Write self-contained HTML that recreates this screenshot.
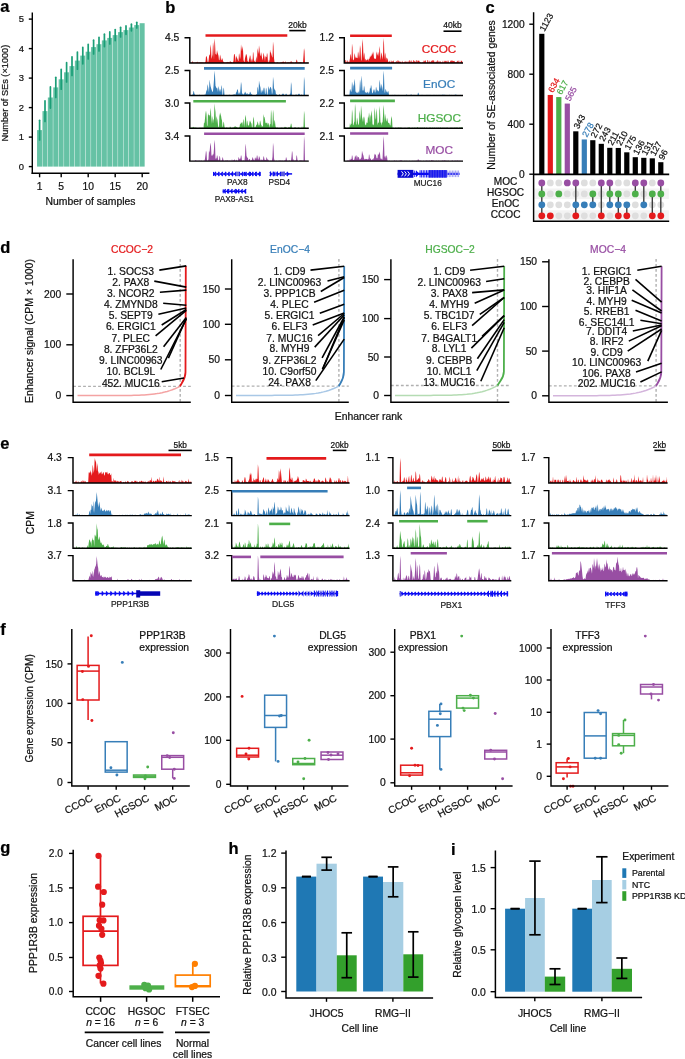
<!DOCTYPE html>
<html><head><meta charset="utf-8"><style>
html,body{margin:0;padding:0;background:#fff;}
svg{display:block;font-family:"Liberation Sans",sans-serif;will-change:transform;}
text{stroke-width:0.22px;}
</style></head><body>
<svg width="685" height="1059" viewBox="0 0 685 1059">
<rect width="685" height="1059" fill="#fff"/>
<text x="0.3" y="12.4" font-size="16.5" font-weight="bold" fill="#000" stroke="#000">a</text>
<rect x="37.05" y="130.1" width="5" height="36.5" fill="#66c2a5"/>
<rect x="42.45" y="111.1" width="5" height="55.5" fill="#66c2a5"/>
<rect x="47.85" y="97.5" width="5" height="69.1" fill="#66c2a5"/>
<rect x="53.25" y="87.4" width="5" height="79.2" fill="#66c2a5"/>
<rect x="58.65" y="79.3" width="5" height="87.3" fill="#66c2a5"/>
<rect x="64.05" y="72.3" width="5" height="94.3" fill="#66c2a5"/>
<rect x="69.45" y="66.1" width="5" height="100.5" fill="#66c2a5"/>
<rect x="74.85" y="60.6" width="5" height="106" fill="#66c2a5"/>
<rect x="80.25" y="55.6" width="5" height="111" fill="#66c2a5"/>
<rect x="85.65" y="51.7" width="5" height="114.9" fill="#66c2a5"/>
<rect x="91.05" y="47.1" width="5" height="119.5" fill="#66c2a5"/>
<rect x="96.45" y="44.2" width="5" height="122.4" fill="#66c2a5"/>
<rect x="101.85" y="40.4" width="5" height="126.2" fill="#66c2a5"/>
<rect x="107.25" y="37.9" width="5" height="128.7" fill="#66c2a5"/>
<rect x="112.65" y="35.1" width="5" height="131.5" fill="#66c2a5"/>
<rect x="118.05" y="32.1" width="5" height="134.5" fill="#66c2a5"/>
<rect x="123.45" y="30.1" width="5" height="136.5" fill="#66c2a5"/>
<rect x="128.85" y="27.5" width="5" height="139.1" fill="#66c2a5"/>
<rect x="134.25" y="25.1" width="5" height="141.5" fill="#66c2a5"/>
<rect x="139.65" y="23.2" width="5" height="143.4" fill="#66c2a5"/>
<line x1="39.6" y1="120.25" x2="39.6" y2="139.95" stroke="#1b9e77" stroke-width="1.7" stroke-linecap="round"/>
<line x1="45" y1="100.8" x2="45" y2="121.4" stroke="#1b9e77" stroke-width="1.7" stroke-linecap="round"/>
<line x1="50.4" y1="86.9" x2="50.4" y2="108.1" stroke="#1b9e77" stroke-width="1.7" stroke-linecap="round"/>
<line x1="55.8" y1="77.35" x2="55.8" y2="97.45" stroke="#1b9e77" stroke-width="1.7" stroke-linecap="round"/>
<line x1="61.2" y1="69.45" x2="61.2" y2="89.15" stroke="#1b9e77" stroke-width="1.7" stroke-linecap="round"/>
<line x1="66.6" y1="62.65" x2="66.6" y2="81.95" stroke="#1b9e77" stroke-width="1.7" stroke-linecap="round"/>
<line x1="72" y1="56.8" x2="72" y2="75.4" stroke="#1b9e77" stroke-width="1.7" stroke-linecap="round"/>
<line x1="77.4" y1="52" x2="77.4" y2="69.2" stroke="#1b9e77" stroke-width="1.7" stroke-linecap="round"/>
<line x1="82.8" y1="47.4" x2="82.8" y2="63.8" stroke="#1b9e77" stroke-width="1.7" stroke-linecap="round"/>
<line x1="88.2" y1="44.4" x2="88.2" y2="59" stroke="#1b9e77" stroke-width="1.7" stroke-linecap="round"/>
<line x1="93.6" y1="40.2" x2="93.6" y2="54" stroke="#1b9e77" stroke-width="1.7" stroke-linecap="round"/>
<line x1="99" y1="37.4" x2="99" y2="51" stroke="#1b9e77" stroke-width="1.7" stroke-linecap="round"/>
<line x1="104.4" y1="34.2" x2="104.4" y2="46.6" stroke="#1b9e77" stroke-width="1.7" stroke-linecap="round"/>
<line x1="109.8" y1="31.9" x2="109.8" y2="43.9" stroke="#1b9e77" stroke-width="1.7" stroke-linecap="round"/>
<line x1="115.2" y1="29.6" x2="115.2" y2="40.6" stroke="#1b9e77" stroke-width="1.7" stroke-linecap="round"/>
<line x1="120.6" y1="27.3" x2="120.6" y2="36.9" stroke="#1b9e77" stroke-width="1.7" stroke-linecap="round"/>
<line x1="126" y1="25.9" x2="126" y2="34.3" stroke="#1b9e77" stroke-width="1.7" stroke-linecap="round"/>
<line x1="131.4" y1="24.2" x2="131.4" y2="30.8" stroke="#1b9e77" stroke-width="1.7" stroke-linecap="round"/>
<line x1="136.8" y1="22.3" x2="136.8" y2="27.9" stroke="#1b9e77" stroke-width="1.7" stroke-linecap="round"/>
<line x1="32.3" y1="12.4" x2="32.3" y2="173.9" stroke="#000" stroke-width="1.4" stroke-linecap="butt"/>
<line x1="31.6" y1="173.2" x2="149.4" y2="173.2" stroke="#000" stroke-width="1.4" stroke-linecap="butt"/>
<line x1="28.8" y1="166.6" x2="32.3" y2="166.6" stroke="#000" stroke-width="1.4" stroke-linecap="butt"/>
<text x="24" y="169.97" font-size="9.4" text-anchor="end" fill="#111" stroke="#111">0</text>
<line x1="28.8" y1="137.1" x2="32.3" y2="137.1" stroke="#000" stroke-width="1.4" stroke-linecap="butt"/>
<text x="24" y="140.47" font-size="9.4" text-anchor="end" fill="#111" stroke="#111">1</text>
<line x1="28.8" y1="107.6" x2="32.3" y2="107.6" stroke="#000" stroke-width="1.4" stroke-linecap="butt"/>
<text x="24" y="110.97" font-size="9.4" text-anchor="end" fill="#111" stroke="#111">2</text>
<line x1="28.8" y1="78.1" x2="32.3" y2="78.1" stroke="#000" stroke-width="1.4" stroke-linecap="butt"/>
<text x="24" y="81.47" font-size="9.4" text-anchor="end" fill="#111" stroke="#111">3</text>
<line x1="28.8" y1="48.6" x2="32.3" y2="48.6" stroke="#000" stroke-width="1.4" stroke-linecap="butt"/>
<text x="24" y="51.97" font-size="9.4" text-anchor="end" fill="#111" stroke="#111">4</text>
<line x1="28.8" y1="19.1" x2="32.3" y2="19.1" stroke="#000" stroke-width="1.4" stroke-linecap="butt"/>
<text x="24" y="22.47" font-size="9.4" text-anchor="end" fill="#111" stroke="#111">5</text>
<line x1="39.6" y1="173.2" x2="39.6" y2="177.3" stroke="#000" stroke-width="1.4" stroke-linecap="butt"/>
<text x="39.6" y="189.99" font-size="10.3" text-anchor="middle" fill="#111" stroke="#111">1</text>
<line x1="61.2" y1="173.2" x2="61.2" y2="177.3" stroke="#000" stroke-width="1.4" stroke-linecap="butt"/>
<text x="61.2" y="189.99" font-size="10.3" text-anchor="middle" fill="#111" stroke="#111">5</text>
<line x1="88.2" y1="173.2" x2="88.2" y2="177.3" stroke="#000" stroke-width="1.4" stroke-linecap="butt"/>
<text x="88.2" y="189.99" font-size="10.3" text-anchor="middle" fill="#111" stroke="#111">10</text>
<line x1="115.2" y1="173.2" x2="115.2" y2="177.3" stroke="#000" stroke-width="1.4" stroke-linecap="butt"/>
<text x="115.2" y="189.99" font-size="10.3" text-anchor="middle" fill="#111" stroke="#111">15</text>
<line x1="142.2" y1="173.2" x2="142.2" y2="177.3" stroke="#000" stroke-width="1.4" stroke-linecap="butt"/>
<text x="142.2" y="189.99" font-size="10.3" text-anchor="middle" fill="#111" stroke="#111">20</text>
<text x="90.5" y="205.32" font-size="10.4" text-anchor="middle" fill="#111" stroke="#111">Number of samples</text>
<text x="0" y="3.29" font-size="9.2" text-anchor="middle" fill="#111" transform="translate(4.9 93.1) rotate(-90)" stroke="#111">Number of SEs (×1000)</text>
<text x="165.2" y="12.6" font-size="16.5" font-weight="bold" fill="#000" stroke="#000">b</text>
<path d="M190.5 63 190.5 62.61 191 62.28 191.5 62.8 192 62.74 192.5 60.86 193 62.65 193.5 62.59 194 62.81 194.5 63 195 61.91 195.5 63 196 62.2 196.5 62.61 197 62.25 197.5 61.38 198 63 198.5 62.24 199 62.65 199.5 62.32 200 62.29 200.5 62.62 201 62.46 201.5 62.59 202 62.27 202.5 62.67 203 62.37 203.5 62.84 204 62.64 204.5 62.75 205 62.58 205.5 61.83 206 56.14 206.5 56.22 207 57.58 207.5 61.33 208 62.84 208.5 60.99 209 56.69 209.5 54.33 210 55.17 210.5 44.3 211 48.04 211.5 58.99 212 57.05 212.5 54.57 213 42 213.5 46.2 214 60.26 214.5 38.4 215 42.24 215.5 53.79 216 54.38 216.5 54.8 217 49.95 217.5 52.56 218 54 218.5 55.8 219 60.48 219.5 59.66 220 54.48 220.5 56.19 221 60.27 221.5 60.07 222 58 222.5 59 223 60.75 223.5 61.92 224 62.06 224.5 62.69 225 62.46 225.5 62.79 226 62.16 226.5 62.15 227 62.6 227.5 61.81 228 62.34 228.5 61.98 229 62.61 229.5 62.39 230 61 230.5 61.4 231 62.23 231.5 62.05 232 62.23 232.5 62.81 233 62.46 233.5 60.76 234 53.93 234.5 53.91 235 55.72 235.5 62.76 236 55.56 236.5 57.05 237 58 237.5 59 238 60.55 238.5 61.24 239 52.94 239.5 54.96 240 59.61 240.5 56.76 241 44.3 241.5 48.04 242 51.41 242.5 46 243 49.4 243.5 59.89 244 61.38 244.5 62.3 245 58.2 245.5 56.33 246 54 246.5 54.55 247 56.24 247.5 61.25 248 61.31 248.5 62.73 249 59.65 249.5 57.7 250 55 250.5 56.6 251 62.25 251.5 60.21 252 58.28 252.5 62.17 253 51.4 253.5 53.72 254 61.6 254.5 60.15 255 62.56 255.5 62.33 256 58.83 256.5 55.92 257 61.75 257.5 48 258 51 258.5 54.03 259 45.2 259.5 48.76 260 54.9 260.5 56.24 261 52 261.5 54.2 262 57.4 262.5 60.4 263 57.81 263.5 52.55 264 54.64 264.5 57.4 265 61.53 265.5 55.77 266 57.21 266.5 57 267 52.77 267.5 54.81 268 62.58 268.5 62.63 269 59.48 269.5 62.04 270 49.6 270.5 52.28 271 52.84 271.5 54.87 272 56.6 272.5 57.87 273 41.6 273.5 45.88 274 57.91 274.5 62.32 275 62.37 275.5 63 276 63 276.5 62.59 277 62.65 277.5 62.27 278 62.2 278.5 63 279 63 279.5 62.88 280 62.38 280.5 62.42 281 62.56 281.5 62.34 282 62.18 282.5 61.94 283 61.5 283.5 61.8 284 61.86 284.5 62.54 285 62.79 285.5 61.12 286 62.67 286.5 62.73 287 62.43 287.5 62.54 288 62.33 288.5 62.31 289 62.71 289.5 62.37 290 62.58 290.5 62.11 291 61 291.5 61.4 292 62.57 292.5 62.3 293 62.63 293.5 62.22 294 63 294.5 63 295 62.11 295.5 62.43 296 62.38 296.5 59.4 297 60.12 297.5 62.37 298 63 298.5 62.35 299 62.3 299.5 62.44 300 62.18 300.5 62.2 301 62.24 301.5 62.17 302 63 302.5 62.55 303 62.84 303.5 56.02 304 48 304.5 51 305 63 305.5 63 306 62.18 306.5 62.82 307 62.88 307.5 62.57 308 62.43 308.5 62.23 308.3 63Z" fill="#e41a1c"/>
<path d="M184.5 37.8H189.8V63H308.8" fill="none" stroke="#000" stroke-width="1.45"/>
<text x="179.3" y="41.49" font-size="10.3" text-anchor="end" fill="#111" stroke="#111">4.5</text>
<path d="M190.5 95.5 190.5 95.01 191 95.05 191.5 95.05 192 95.34 192.5 94.79 193 93.72 193.5 90.7 194 91.66 194.5 93.93 195 94.75 195.5 95.06 196 95.22 196.5 95.5 197 95.19 197.5 95.35 198 94.75 198.5 95.5 199 95.27 199.5 94.62 200 94.95 200.5 95.34 201 95.5 201.5 95.24 202 94.8 202.5 95.1 203 95.32 203.5 95.12 204 94.63 204.5 94.71 205 94.74 205.5 94.49 206 92.59 206.5 89.4 207 91.59 207.5 83.9 208 86.22 208.5 89.2 209 92.55 209.5 79.5 210 82.7 210.5 86.05 211 87.87 211.5 89.39 212 90.74 212.5 92.14 213 91.09 213.5 86.38 214 79.56 214.5 70.5 215 75.5 215.5 85.91 216 86.77 216.5 88.53 217 87.5 217.5 89.1 218 92.28 218.5 86.09 219 87.98 219.5 92.12 220 88.69 220.5 90.05 221 92.6 221.5 84.99 222 87.09 222.5 95.14 223 94.84 223.5 87.5 224 89.1 224.5 94.96 225 95.38 225.5 95.27 226 95.5 226.5 94.71 227 95.27 227.5 95.5 228 95.5 228.5 95.19 229 94.76 229.5 94.65 230 95.09 230.5 95.12 231 95.19 231.5 95.5 232 95.37 232.5 94.88 233 94.4 233.5 95.03 234 93.69 234.5 94.65 235 94.21 235.5 95 236 92.5 236.5 92.27 237 90.22 237.5 89.03 238 90.32 238.5 94.43 239 92.18 239.5 92.84 240 94.72 240.5 88.45 241 81.8 241.5 84.54 242 93.41 242.5 93.53 243 94.8 243.5 94.52 244 93.57 244.5 93.43 245 91.5 245.5 92.3 246 93.42 246.5 94.16 247 92.99 247.5 93.49 248 94.74 248.5 93.97 249 94.26 249.5 93.72 250 91.5 250.5 92.3 251 93.83 251.5 93.95 252 94.63 252.5 94.79 253 94.89 253.5 95.12 254 95.5 254.5 95.32 255 95.5 255.5 95.19 256 94.67 256.5 94.27 257 94.19 257.5 86.5 258 88.3 258.5 92.69 259 80.5 259.5 83.5 260 85.72 260.5 87.68 261 93.46 261.5 91.48 262 89.5 262.5 90.7 263 92.19 263.5 88.74 264 87.15 264.5 88.82 265 93.85 265.5 94.09 266 87.5 266.5 89.1 267 94.27 267.5 95.27 268 91.08 268.5 86.1 269 87.98 269.5 90.25 270 87.5 270.5 86.66 271 87.83 271.5 89.37 272 94.71 272.5 92.36 273 76.8 273.5 80.54 274 88.02 274.5 89.51 275 89.87 275.5 91 276 94.87 276.5 94.09 277 94.95 277.5 95.5 278 94.92 278.5 95.14 279 94.88 279.5 93.71 280 95.24 280.5 95.28 281 95.24 281.5 95.05 282 94.4 282.5 94.07 283 93.26 283.5 93.9 284 94.44 284.5 94.91 285 94.97 285.5 94.62 286 93.5 286.5 93.9 287 94.93 287.5 95.36 288 95.5 288.5 95.5 289 94.63 289.5 94.66 290 94.62 290.5 92.86 291 82.1 291.5 84.78 292 95.09 292.5 95.12 293 94.6 293.5 95.25 294 95.5 294.5 95.16 295 95 295.5 94.84 296 94.62 296.5 94.51 297 95.11 297.5 95.02 298 94.55 298.5 94.01 299 93.5 299.5 93.9 300 94.79 300.5 95.13 301 94.79 301.5 94.61 302 94.84 302.5 95.16 303 95.5 303.5 95 304 76.8 304.5 80.54 305 95.2 305.5 95.22 306 94.86 306.5 94.88 307 95.5 307.5 95.5 308 95.5 308.5 95.13 308.3 95.5Z" fill="#377eb8"/>
<path d="M184.5 70.4H189.8V95.5H308.8" fill="none" stroke="#000" stroke-width="1.45"/>
<text x="179.3" y="74.09" font-size="10.3" text-anchor="end" fill="#111" stroke="#111">2.5</text>
<path d="M190.5 128.2 190.5 127.62 191 128.08 191.5 127.49 192 127.71 192.5 127.7 193 126.7 193.5 127 194 127.69 194.5 127.21 195 128.2 195.5 127.31 196 127.82 196.5 127.65 197 128.06 197.5 128.2 198 127.68 198.5 128.07 199 128.2 199.5 127.87 200 127.61 200.5 127.86 201 128.2 201.5 127.47 202 127.96 202.5 127.52 203 127.99 203.5 127.92 204 122.26 204.5 123.45 205 118.17 205.5 113.19 206 110.4 206.5 113.96 207 126.18 207.5 125.27 208 112.94 208.5 114.75 209 115.54 209.5 114.86 210 117.04 210.5 107.7 211 111.8 211.5 123.89 212 115.64 212.5 118.15 213 123.87 213.5 119.57 214 119.15 214.5 103.2 215 108.2 215.5 112.07 216 123.23 216.5 116 217 118.2 217.5 120.2 218 125.11 218.5 127.87 219 126.56 219.5 113.12 220 116.14 220.5 112.22 221 115.41 221.5 118.73 222 120.62 222.5 127.56 223 125.91 223.5 121.4 224 122.76 224.5 126.66 225 128.2 225.5 128 226 127.45 226.5 127.44 227 127.72 227.5 127.61 228 128.2 228.5 127.87 229 127.76 229.5 128.01 230 126.14 230.5 127.36 231 127.43 231.5 128.02 232 127.66 232.5 127.63 233 127.29 233.5 127.83 234 127.06 234.5 126.84 235 126.2 235.5 126.6 236 126.82 236.5 127.16 237 126.86 237.5 127.63 238 127.66 238.5 127.9 239 126.98 239.5 127.49 240 124.12 240.5 124.15 241 122.2 241.5 123.4 242 121.81 242.5 123.09 243 126.35 243.5 118.87 244 120.73 244.5 127.58 245 119.15 245.5 114.8 246 117.48 246.5 127.32 247 120.2 247.5 121.8 248 125.61 248.5 125.46 249 125.28 249.5 122.06 250 120.2 250.5 121.8 251 122.72 251.5 123.82 252 127.98 252.5 127.26 253 121.45 253.5 116.6 254 118.92 254.5 127.05 255 127.68 255.5 126.91 256 125.8 256.5 124.47 257 124.84 257.5 121.2 258 122.6 258.5 125 259 125.63 259.5 124.71 260 120.2 260.5 121.8 261 124.47 261.5 125.22 262 127.36 262.5 126.05 263 126.17 263.5 114 264 116.84 264.5 117.34 265 119.51 265.5 123.39 266 122.38 266.5 123.55 267 122.2 267.5 123.4 268 125.52 268.5 122.7 269 123.8 269.5 128.08 270 124.2 270.5 123.92 271 109.5 271.5 113.24 272 126.97 272.5 124.06 273 109.5 273.5 113.24 274 124.44 274.5 119.72 275 121.42 275.5 126.15 276 127.65 276.5 127.83 277 127.74 277.5 127.43 278 127.91 278.5 128.07 279 127.67 279.5 128.2 280 127.47 280.5 128.2 281 127.62 281.5 127.58 282 128.2 282.5 127.54 283 128.07 283.5 127.71 284 127.89 284.5 127.05 285 126.7 285.5 127 286 127.42 286.5 127.37 287 127.97 287.5 128.16 288 127.81 288.5 127.3 289 127.39 289.5 127.34 290 127.44 290.5 125.77 291 123.2 291.5 124.2 292 127.47 292.5 128.2 293 127.99 293.5 128 294 127.99 294.5 127.31 295 127.81 295.5 127.34 296 127.63 296.5 127.99 297 127.99 297.5 127.77 298 128.04 298.5 127.59 299 127.32 299.5 128.2 300 127.72 300.5 128.2 301 128 301.5 128.2 302 126.1 302.5 127.97 303 128.2 303.5 126.24 304 110.7 304.5 114.2 305 128.04 305.5 127.5 306 127.88 306.5 128.04 307 128.2 307.5 128.02 308 127.68 308.5 128.2 308.3 128.2Z" fill="#4daf4a"/>
<path d="M184.5 103H189.8V128.2H308.8" fill="none" stroke="#000" stroke-width="1.45"/>
<text x="179.3" y="106.69" font-size="10.3" text-anchor="end" fill="#111" stroke="#111">3.0</text>
<path d="M190.5 161.1 190.5 160.5 191 161.1 191.5 160.91 192 160.92 192.5 160.81 193 161.1 193.5 160.82 194 161.1 194.5 161.1 195 160.25 195.5 160.35 196 160.6 196.5 160.71 197 160.38 197.5 161.1 198 160.44 198.5 160.7 199 160.64 199.5 160.57 200 160.66 200.5 160.88 201 160.53 201.5 160.47 202 160.91 202.5 161.1 203 160.72 203.5 161.1 204 160.34 204.5 160.91 205 158.44 205.5 154.81 206 150.47 206.5 152.59 207 160.5 207.5 160.61 208 160.7 208.5 158.9 209 150.56 209.5 152.67 210 147.04 210.5 142.4 211 146.14 211.5 156.32 212 154.8 212.5 156.06 213 153.42 213.5 154.96 214 148.47 214.5 139.7 215 143.98 215.5 159.34 216 158.04 216.5 158.76 217 155.1 217.5 156.3 218 159 218.5 160.39 219 160.36 219.5 155.74 220 156.81 220.5 160.75 221 161.1 221.5 160.52 222 160.28 222.5 157.1 223 157.9 223.5 160.43 224 160.81 224.5 160.94 225 160.46 225.5 160.33 226 161.1 226.5 160.36 227 160.43 227.5 160.2 228 160.41 228.5 160.97 229 160.26 229.5 161.1 230 160.21 230.5 160.83 231 161.1 231.5 160.75 232 159.02 232.5 160.93 233 160.31 233.5 160.36 234 160.53 234.5 158.96 235 160.36 235.5 160.65 236 160.67 236.5 159.55 237 160.78 237.5 160.49 238 161.1 238.5 157.03 239 157.84 239.5 159.14 240 159.11 240.5 158.36 241 155.1 241.5 156.3 242 160.67 242.5 160.72 243 160.25 243.5 160.29 244 160.95 244.5 160.38 245 155.14 245.5 143.6 246 147.1 246.5 155.84 247 156.89 247.5 157.63 248 158.33 248.5 160.86 249 159.87 249.5 158.67 250 159.15 250.5 161.1 251 160.56 251.5 160.26 252 159.39 252.5 157.1 253 157.9 253.5 159.59 254 160.34 254.5 160.39 255 157.34 255.5 158.09 256 159.21 256.5 157.64 257 155.1 257.5 156.3 258 159.45 258.5 159.29 259 156.1 259.5 157.1 260 158.56 260.5 160.57 261 160.61 261.5 159.06 262 160.71 262.5 159.7 263 159.84 263.5 156.1 264 157.1 264.5 159.45 265 160.23 265.5 159.7 266 160.14 266.5 157.1 267 157.9 267.5 159.84 268 159.19 268.5 160.46 269 160.32 269.5 161.1 270 161.1 270.5 160.26 271 160.96 271.5 160.85 272 160.26 272.5 156.79 273 142.7 273.5 146.38 274 158.18 274.5 160.49 275 160.66 275.5 160.68 276 160.95 276.5 160.6 277 160.55 277.5 161.1 278 161.1 278.5 160.54 279 160.85 279.5 160.48 280 160.47 280.5 160.56 281 160.69 281.5 160.7 282 160.38 282.5 160.68 283 160.62 283.5 160.99 284 160.72 284.5 160.49 285 160.32 285.5 160.31 286 157.1 286.5 157.9 287 160.32 287.5 160.68 288 161.1 288.5 160.77 289 160.34 289.5 160.25 290 160.95 290.5 160.82 291 160.79 291.5 156.69 292 150.8 292.5 152.86 293 160.87 293.5 158.84 294 160.89 294.5 160.45 295 160.29 295.5 160.44 296 160.44 296.5 155.1 297 156.3 297.5 160.32 298 160.77 298.5 161.1 299 160.98 299.5 160.25 300 160.46 300.5 160.32 301 160.61 301.5 160.53 302 160.31 302.5 160.78 303 160.53 303.5 160.64 304 136.1 304.5 141.1 305 160.89 305.5 160.67 306 160.36 306.5 161.1 307 160.77 307.5 160.64 308 160.86 308.5 161.1 308.3 161.1Z" fill="#984ea3"/>
<path d="M184.5 136H189.8V161.1H308.8" fill="none" stroke="#000" stroke-width="1.45"/>
<text x="179.3" y="139.69" font-size="10.3" text-anchor="end" fill="#111" stroke="#111">3.4</text>
<line x1="205.5" y1="35.5" x2="287.3" y2="35.5" stroke="#e41a1c" stroke-width="2.6" stroke-linecap="butt"/>
<line x1="204" y1="68.4" x2="304.7" y2="68.4" stroke="#377eb8" stroke-width="2.6" stroke-linecap="butt"/>
<line x1="193.3" y1="101.2" x2="285.9" y2="101.2" stroke="#4daf4a" stroke-width="2.6" stroke-linecap="butt"/>
<line x1="204.1" y1="133.7" x2="304.7" y2="133.7" stroke="#984ea3" stroke-width="2.6" stroke-linecap="butt"/>
<text x="297.5" y="27.54" font-size="8.5" text-anchor="middle" fill="#111" stroke="#111">20kb</text>
<line x1="289.3" y1="30.6" x2="305.7" y2="30.6" stroke="#000" stroke-width="1.6" stroke-linecap="butt"/>
<path d="M345 63 345 63 345.5 59.96 346 59.96 346.5 62.21 347 63 347.5 59.79 348 61.84 348.5 61.53 349 63 349.5 61.09 350 58.13 350.5 53.72 351 55.57 351.5 60.05 352 43.5 352.5 47.4 353 60.8 353.5 59.58 354 59.87 354.5 53 355 55 355.5 58.51 356 56.6 356.5 57.88 357 58.02 357.5 58.25 358 51.21 358.5 53.57 359 59.1 359.5 55.01 360 45 360.5 48.6 361 59.53 361.5 61.03 362 51.83 362.5 39 363 43.8 363.5 58.86 364 52.24 364.5 54.39 365 61.22 365.5 58.55 366 59.71 366.5 60.71 367 59.44 367.5 60.05 368 58.24 368.5 61.26 369 58.48 369.5 58.92 370 56.11 370.5 57.49 371 55 371.5 56.6 372 52.98 372.5 54.98 373 51.2 373.5 53.56 374 58.14 374.5 58.81 375 58.6 375.5 58.85 376 58.92 376.5 51.3 377 53.64 377.5 55.8 378 51.52 378.5 53.82 379 56.75 379.5 46 380 49.4 380.5 60.22 381 56.68 381.5 52.15 382 54.32 382.5 59.79 383 55.99 383.5 38 384 43 384.5 59.69 385 52.49 385.5 54.59 386 61.3 386.5 57.14 387 58.31 387.5 58.76 388 60.63 388.5 62.25 389 62.16 389.5 60.44 390 62.34 390.5 63 391 60.09 391.5 61.51 392 62.03 392.5 61.1 393 61.79 393.5 59.91 394 62.44 394.5 62.5 395 63 395.5 62.16 396 61.49 396.5 60.73 397 63 397.5 61.12 398 59.74 398.5 61.16 399 61.79 399.5 61.29 400 61.92 400.5 61.98 401 60.9 401.5 63 402 63 402.5 60.44 403 62.43 403.5 63 404 61.64 404.5 61.43 405 63 405.5 60.81 406 62.36 406.5 62.33 407 60.8 407.5 62.32 408 63 408.5 61.67 409 60.4 409.5 60.04 410 62.39 410.5 60.24 411 63 411.5 59.68 412 62.21 412.5 61.42 413 62.52 413.5 59.8 414 60.51 414.5 61.48 415 61.41 415.5 62.53 416 60.16 416.5 59.91 417 63 417.5 60.66 418 60.5 418.5 61 419 60.28 419.5 61.85 420 61.8 420.5 62.33 421 63 421.5 63 422 61.69 422.5 62.33 423 63 423.5 61.43 424 60.1 424.5 61.43 425 61.25 425.5 59.63 426 62.05 426.5 63 427 63 427.5 59.9 428 59.91 428.5 62.15 429 63 429.5 60.18 430 62.46 430.5 62.19 431 60.91 431.5 61.45 432 59.95 432.5 60.33 433 61.76 433.5 59.97 434 60.61 434.5 62.26 435 63 435.5 62.27 436 61.29 436.5 62.35 437 60.8 437.5 59.99 438 62.52 438.5 60.6 439 63 439.5 61.56 440 60.96 440.5 61.5 441 62.41 441.5 62.19 442 63 442.5 60.52 443 63 443.5 62.49 444 60.62 444.5 62.01 445 60.2 445.5 61.49 446 60.91 446.5 60.71 447 63 447.5 60.05 448 63 448.5 60.1 449 62.22 449.5 63 450 62.25 450.5 60.39 451 60.91 451.5 59.91 452 61.67 452.5 60.27 453 60.94 453.5 61.26 454 60.73 454.5 61.22 455 62.02 455.5 62.41 456 62.5 456.5 62.35 457 61.15 457.5 60.42 458 62.29 458.5 59.93 459 63 459.5 62.48 460 59.99 460.5 63 461 61.49 461.5 60.42 462 60.96 462.5 62.17 462.5 63Z" fill="#e41a1c"/>
<path d="M339 37.8H344.3V63H463" fill="none" stroke="#000" stroke-width="1.45"/>
<text x="333.9" y="41.49" font-size="10.3" text-anchor="end" fill="#111" stroke="#111">1.2</text>
<path d="M345 95.5 345 94.83 345.5 95.24 346 95.5 346.5 95.22 347 94.93 347.5 95.22 348 94.5 348.5 95.5 349 95.15 349.5 94.55 350 88.78 350.5 90.12 351 91.76 351.5 91.53 352 81.5 352.5 84.3 353 91.04 353.5 84.07 354 86.36 354.5 78.7 355 82.06 355.5 92.31 356 91.22 356.5 93.28 357 92.14 357.5 93.45 358 91.48 358.5 91.69 359 93.81 359.5 89.77 360 79.5 360.5 82.7 361 91.86 361.5 75.5 362 79.5 362.5 91.08 363 89.79 363.5 90.94 364 85.5 364.5 87.5 365 92.56 365.5 92.44 366 91.62 366.5 93.22 367 92.86 367.5 91.58 368 93.09 368.5 93.65 369 91.21 369.5 93.1 370 87.5 370.5 89.1 371 84.7 371.5 86.86 372 92.17 372.5 93.46 373 92.19 373.5 90.15 374 89 374.5 90.3 375 93.04 375.5 91.73 376 86.5 376.5 88.3 377 91.85 377.5 89.55 378 90.74 378.5 91.78 379 90.18 379.5 79.5 380 82.7 380.5 86.83 381 89.27 381.5 83.66 382 86.03 382.5 91.44 383 85.56 383.5 70.5 384 75.5 384.5 91.23 385 93.54 385.5 88.68 386 90.04 386.5 91.62 387 92.49 387.5 92.48 388 90.83 388.5 91.76 389 94.99 389.5 95.17 390 95.04 390.5 95.5 391 95.14 391.5 95.2 392 95.21 392.5 94.84 393 95.19 393.5 95.5 394 94.9 394.5 95.1 395 94.54 395.5 95.5 396 95.36 396.5 94.91 397 95.37 397.5 95.17 398 95.5 398.5 94.72 399 95.35 399.5 94.96 400 95.5 400.5 95.5 401 94.93 401.5 95.5 402 95.26 402.5 95.5 403 95.03 403.5 95.2 404 94.89 404.5 95.34 405 95.25 405.5 95.35 406 94.86 406.5 94.58 407 94.83 407.5 95.33 408 95.35 408.5 94.89 409 95.01 409.5 95.5 410 95.5 410.5 94.74 411 94.6 411.5 94.56 412 95.37 412.5 94.91 413 95.27 413.5 94.63 414 95.5 414.5 94.78 415 95.33 415.5 94.97 416 95.29 416.5 94.93 417 95.24 417.5 95.04 418 92.5 418.5 93.1 419 94.75 419.5 95.21 420 95.02 420.5 95.04 421 95.5 421.5 95.5 422 94.51 422.5 95.37 423 94.94 423.5 95.23 424 95.5 424.5 95.12 425 95.04 425.5 94.92 426 95.5 426.5 95.21 427 94.58 427.5 95.5 428 95.17 428.5 94.68 429 95.18 429.5 95.01 430 94.83 430.5 95.12 431 95.34 431.5 95.3 432 95.36 432.5 95.06 433 95.5 433.5 94.88 434 94.76 434.5 94.99 435 95.36 435.5 95.23 436 95.32 436.5 94.72 437 95.24 437.5 95.28 438 95.5 438.5 94.97 439 94.76 439.5 94.97 440 94.91 440.5 94.94 441 94.85 441.5 95.16 442 94.73 442.5 94.62 443 95.26 443.5 94.54 444 94.98 444.5 94.85 445 94.72 445.5 95.32 446 94.76 446.5 95.31 447 95.22 447.5 95.5 448 94.89 448.5 95.12 449 95.17 449.5 94.6 450 95.36 450.5 95.5 451 95.23 451.5 94.78 452 95.19 452.5 95.5 453 95.15 453.5 95.5 454 94.75 454.5 95.5 455 94.5 455.5 94.53 456 94.89 456.5 94.72 457 94.73 457.5 95.5 458 95.5 458.5 94.99 459 95.07 459.5 95.3 460 95.37 460.5 94.75 461 95.31 461.5 95.05 462 95.1 462.5 95.13 462.5 95.5Z" fill="#377eb8"/>
<path d="M339 70.4H344.3V95.5H463" fill="none" stroke="#000" stroke-width="1.45"/>
<text x="333.9" y="74.09" font-size="10.3" text-anchor="end" fill="#111" stroke="#111">2.5</text>
<path d="M345 128.2 345 128.2 345.5 127.2 346 127.57 346.5 128.2 347 128.2 347.5 127.28 348 128.2 348.5 127.33 349 127.95 349.5 127.27 350 122.87 350.5 125.87 351 124.37 351.5 123.38 352 109.2 352.5 113 353 125.62 353.5 124.83 354 122.63 354.5 121.31 355 103.2 355.5 108.2 356 124.74 356.5 124.22 357 117.18 357.5 119.38 358 122.71 358.5 125.2 359 123.89 359.5 110.2 360 113.8 360.5 120.52 361 105.2 361.5 109.8 362 117.05 362.5 119.28 363 122.25 363.5 117.85 364 116.2 364.5 118.6 365 124.32 365.5 124.76 366 125.57 366.5 122.49 367 122.54 367.5 123.17 368 116.04 368.5 118.47 369 112.2 369.5 115.4 370 122.66 370.5 114.22 371 117.01 371.5 110.2 372 113.8 372.5 124.42 373 124.39 373.5 125.48 374 123.44 374.5 107.2 375 111.4 375.5 118.07 376 120.09 376.5 108.2 377 112.2 377.5 125.3 378 122.87 378.5 122.94 379 121.26 379.5 105.7 380 110.2 380.5 122.95 381 122.3 381.5 125.74 382 121.8 382.5 123.08 383 115.63 383.5 104.7 384 109.4 384.5 122.71 385 113.62 385.5 116.54 386 120.2 386.5 121.8 387 117.42 387.5 119.58 388 122.59 388.5 123.02 389 122.8 389.5 123.78 390 125.2 390.5 125.55 391 120.11 391.5 115.96 392 118.41 392.5 127.62 393 127.93 393.5 127.59 394 128.2 394.5 127.92 395 128.2 395.5 127.65 396 127.29 396.5 128.2 397 128.2 397.5 127.68 398 127.61 398.5 127.83 399 127.22 399.5 127.78 400 128.05 400.5 127.44 401 127.5 401.5 127.81 402 128.07 402.5 128.2 403 128.2 403.5 128.01 404 127.96 404.5 127.91 405 127.52 405.5 127.96 406 128 406.5 128.2 407 128.2 407.5 127.77 408 127.41 408.5 127.84 409 127.3 409.5 127.31 410 127.98 410.5 128.2 411 128.03 411.5 128.2 412 127.6 412.5 127.89 413 127.4 413.5 128.2 414 128.06 414.5 127.46 415 127.87 415.5 127.82 416 127.93 416.5 128.03 417 127.31 417.5 127.31 418 127.33 418.5 127.98 419 128.2 419.5 127.83 420 127.83 420.5 127.56 421 128.2 421.5 127.45 422 128 422.5 127.48 423 127.89 423.5 127.8 424 127.94 424.5 127.24 425 128.05 425.5 128.01 426 128.07 426.5 127.43 427 127.69 427.5 127.92 428 127.98 428.5 127.92 429 127.92 429.5 127.54 430 127.63 430.5 127.42 431 127.77 431.5 128.01 432 128.2 432.5 127.45 433 127.62 433.5 128.2 434 127.82 434.5 127.45 435 128.03 435.5 128.2 436 127.47 436.5 127.71 437 127.92 437.5 127.81 438 127.68 438.5 127.83 439 127.53 439.5 128.2 440 127.67 440.5 127.62 441 127.45 441.5 128.2 442 128.2 442.5 127.82 443 127.47 443.5 128.05 444 127.8 444.5 127.74 445 127.94 445.5 128.05 446 127.48 446.5 127.69 447 128 447.5 127.35 448 128.2 448.5 128.2 449 128.2 449.5 128.2 450 127.67 450.5 127.64 451 127.75 451.5 127.83 452 127.79 452.5 127.93 453 127.59 453.5 128.2 454 127.79 454.5 127.68 455 127.56 455.5 127.94 456 127.47 456.5 127.62 457 128.02 457.5 127.31 458 128.2 458.5 127.76 459 128.2 459.5 127.31 460 127.79 460.5 127.43 461 127.48 461.5 127.23 462 127.55 462.5 127.52 462.5 128.2Z" fill="#4daf4a"/>
<path d="M339 103H344.3V128.2H463" fill="none" stroke="#000" stroke-width="1.45"/>
<text x="333.9" y="106.69" font-size="10.3" text-anchor="end" fill="#111" stroke="#111">2.2</text>
<path d="M345 161.1 345 161.1 345.5 161.1 346 160.76 346.5 160.9 347 160.74 347.5 160.55 348 160.53 348.5 160.49 349 160.62 349.5 160.51 350 158.33 350.5 160.22 351 158.9 351.5 159.12 352 155.1 352.5 156.3 353 159.69 353.5 159.78 354 160.15 354.5 158.55 355 156.1 355.5 157.1 356 154.73 356.5 156.01 357 159.7 357.5 155.88 358 156.92 358.5 156.95 359 157.78 359.5 159.58 360 159.39 360.5 158.91 361 158.2 361.5 157.33 362 150.8 362.5 152.86 363 154.56 363.5 155.87 364 158.42 364.5 159.74 365 158.61 365.5 159.18 366 158.89 366.5 159.03 367 158.83 367.5 159.74 368 158.81 368.5 159.24 369 154.1 369.5 155.5 370 159.23 370.5 158.12 371 159.14 371.5 160.23 372 159.89 372.5 158.67 373 159.97 373.5 158.58 374 157.73 374.5 153.4 375 154.94 375.5 154.1 376 155.5 376.5 158.1 377 158.59 377.5 157.97 378 153.36 378.5 154.91 379 154.21 379.5 151.6 380 153.5 380.5 158.65 381 158.53 381.5 158.66 382 159.82 382.5 159.2 383 148.86 383.5 136.1 384 141.1 384.5 157.86 385 155.61 385.5 156.71 386 158.7 386.5 155.02 387 156.23 387.5 160.78 388 160.68 388.5 160.97 389 160.45 389.5 160.87 390 160.74 390.5 161.1 391 161.1 391.5 160.76 392 161.1 392.5 160.75 393 161.1 393.5 160.97 394 160.32 394.5 160.58 395 160.63 395.5 160.69 396 160.97 396.5 160.6 397 160.51 397.5 160.9 398 161.1 398.5 160.71 399 160.84 399.5 160.48 400 161.1 400.5 160.35 401 160.37 401.5 160.45 402 160.48 402.5 161.1 403 160.86 403.5 161.1 404 161.1 404.5 160.53 405 161.1 405.5 160.97 406 160.32 406.5 161.1 407 160.65 407.5 160.93 408 160.64 408.5 161.1 409 161.1 409.5 160.58 410 161.1 410.5 161.1 411 160.93 411.5 161.1 412 160.7 412.5 160.68 413 161.1 413.5 161.1 414 160.45 414.5 161.1 415 160.7 415.5 160.7 416 160.95 416.5 160.4 417 160.67 417.5 160.64 418 159.1 418.5 159.5 419 160.98 419.5 160.52 420 160.81 420.5 160.72 421 160.58 421.5 160.91 422 161.1 422.5 161.1 423 160.95 423.5 160.61 424 161.1 424.5 161.1 425 160.68 425.5 161.1 426 160.62 426.5 160.52 427 160.81 427.5 160.82 428 160.72 428.5 161.1 429 160.43 429.5 160.62 430 161.1 430.5 161.1 431 160.61 431.5 160.36 432 160.32 432.5 160.53 433 160.81 433.5 160.43 434 160.83 434.5 160.97 435 160.75 435.5 160.95 436 160.65 436.5 160.53 437 161.1 437.5 161.1 438 160.7 438.5 160.53 439 161.1 439.5 160.98 440 160.38 440.5 160.88 441 160.9 441.5 161.1 442 160.31 442.5 160.47 443 160.91 443.5 160.48 444 160.78 444.5 160.33 445 160.45 445.5 160.6 446 160.96 446.5 160.38 447 160.89 447.5 160.79 448 160.77 448.5 160.61 449 161.1 449.5 160.93 450 160.96 450.5 160.96 451 160.71 451.5 161.1 452 160.58 452.5 160.61 453 160.77 453.5 160.98 454 161.1 454.5 160.44 455 161.1 455.5 160.48 456 160.83 456.5 160.83 457 160.87 457.5 160.41 458 160.56 458.5 160.96 459 160.76 459.5 160.66 460 160.78 460.5 161.1 461 160.47 461.5 160.97 462 161.1 462.5 160.81 462.5 161.1Z" fill="#984ea3"/>
<path d="M339 136H344.3V161.1H463" fill="none" stroke="#000" stroke-width="1.45"/>
<text x="333.9" y="139.69" font-size="10.3" text-anchor="end" fill="#111" stroke="#111">2.1</text>
<line x1="350.1" y1="35.7" x2="391.8" y2="35.7" stroke="#e41a1c" stroke-width="2.6" stroke-linecap="butt"/>
<line x1="350.1" y1="68.1" x2="392.1" y2="68.1" stroke="#377eb8" stroke-width="2.6" stroke-linecap="butt"/>
<line x1="350.1" y1="100.9" x2="394.9" y2="100.9" stroke="#4daf4a" stroke-width="2.6" stroke-linecap="butt"/>
<line x1="350.1" y1="133.5" x2="388.2" y2="133.5" stroke="#984ea3" stroke-width="2.6" stroke-linecap="butt"/>
<text x="452.5" y="28.04" font-size="8.5" text-anchor="middle" fill="#111" stroke="#111">40kb</text>
<line x1="443.5" y1="31.2" x2="461.5" y2="31.2" stroke="#000" stroke-width="1.6" stroke-linecap="butt"/>
<text x="439" y="53.02" font-size="11.8" text-anchor="middle" fill="#e41a1c" stroke="#e41a1c">CCOC</text>
<text x="439.1" y="88.22" font-size="11.8" text-anchor="middle" fill="#377eb8" stroke="#377eb8">EnOC</text>
<text x="439.4" y="122.12" font-size="11.8" text-anchor="middle" fill="#4daf4a" stroke="#4daf4a">HGSOC</text>
<text x="439.2" y="153.52" font-size="11.8" text-anchor="middle" fill="#984ea3" stroke="#984ea3">MOC</text>
<line x1="213" y1="173.9" x2="260.6" y2="173.9" stroke="#0c0cf2" stroke-width="1.5" stroke-linecap="butt"/>
<path d="M215.9 171.8L214.5 173.9L215.9 176" fill="none" stroke="#0c0cf2" stroke-width="1.4"/>
<path d="M219.3 171.8L217.9 173.9L219.3 176" fill="none" stroke="#0c0cf2" stroke-width="1.4"/>
<path d="M222.7 171.8L221.3 173.9L222.7 176" fill="none" stroke="#0c0cf2" stroke-width="1.4"/>
<path d="M226.1 171.8L224.7 173.9L226.1 176" fill="none" stroke="#0c0cf2" stroke-width="1.4"/>
<path d="M229.5 171.8L228.1 173.9L229.5 176" fill="none" stroke="#0c0cf2" stroke-width="1.4"/>
<path d="M232.9 171.8L231.5 173.9L232.9 176" fill="none" stroke="#0c0cf2" stroke-width="1.4"/>
<path d="M236.3 171.8L234.9 173.9L236.3 176" fill="none" stroke="#0c0cf2" stroke-width="1.4"/>
<path d="M239.7 171.8L238.3 173.9L239.7 176" fill="none" stroke="#0c0cf2" stroke-width="1.4"/>
<path d="M243.1 171.8L241.7 173.9L243.1 176" fill="none" stroke="#0c0cf2" stroke-width="1.4"/>
<path d="M246.5 171.8L245.1 173.9L246.5 176" fill="none" stroke="#0c0cf2" stroke-width="1.4"/>
<path d="M249.9 171.8L248.5 173.9L249.9 176" fill="none" stroke="#0c0cf2" stroke-width="1.4"/>
<path d="M253.3 171.8L251.9 173.9L253.3 176" fill="none" stroke="#0c0cf2" stroke-width="1.4"/>
<path d="M256.7 171.8L255.3 173.9L256.7 176" fill="none" stroke="#0c0cf2" stroke-width="1.4"/>
<path d="M260.1 171.8L258.7 173.9L260.1 176" fill="none" stroke="#0c0cf2" stroke-width="1.4"/>
<rect x="213" y="171.9" width="1.2" height="4" fill="#0c0cf2"/>
<rect x="232" y="171.65" width="1" height="4.5" fill="#0c0cf2"/>
<rect x="236" y="171.65" width="3" height="4.5" fill="#6a6ae6"/>
<rect x="244" y="171.9" width="1" height="4" fill="#0c0cf2"/>
<rect x="250" y="171.9" width="1" height="4" fill="#0c0cf2"/>
<rect x="255" y="171.9" width="1" height="4" fill="#0c0cf2"/>
<rect x="259.5" y="171.9" width="1.1" height="4" fill="#0c0cf2"/>
<line x1="269.8" y1="173.9" x2="292.1" y2="173.9" stroke="#0c0cf2" stroke-width="1.5" stroke-linecap="butt"/>
<path d="M269.9 171.8L271.3 173.9L269.9 176" fill="none" stroke="#0c0cf2" stroke-width="1.4"/>
<path d="M273.3 171.8L274.7 173.9L273.3 176" fill="none" stroke="#0c0cf2" stroke-width="1.4"/>
<path d="M276.7 171.8L278.1 173.9L276.7 176" fill="none" stroke="#0c0cf2" stroke-width="1.4"/>
<path d="M280.1 171.8L281.5 173.9L280.1 176" fill="none" stroke="#0c0cf2" stroke-width="1.4"/>
<path d="M283.5 171.8L284.9 173.9L283.5 176" fill="none" stroke="#0c0cf2" stroke-width="1.4"/>
<path d="M286.9 171.8L288.3 173.9L286.9 176" fill="none" stroke="#0c0cf2" stroke-width="1.4"/>
<rect x="270" y="171.65" width="1" height="4.5" fill="#0c0cf2"/>
<rect x="271.8" y="171.65" width="0.8" height="4.5" fill="#6a6ae6"/>
<rect x="273.5" y="171.65" width="1" height="4.5" fill="#0c0cf2"/>
<rect x="275.3" y="171.65" width="0.7" height="4.5" fill="#6a6ae6"/>
<rect x="277" y="171.65" width="1" height="4.5" fill="#0c0cf2"/>
<rect x="281" y="171.65" width="4" height="4.5" fill="#5a5ae0"/>
<line x1="222.7" y1="191.3" x2="246.1" y2="191.3" stroke="#0c0cf2" stroke-width="1.5" stroke-linecap="butt"/>
<path d="M225.6 189.2L224.2 191.3L225.6 193.4" fill="none" stroke="#0c0cf2" stroke-width="1.4"/>
<path d="M229 189.2L227.6 191.3L229 193.4" fill="none" stroke="#0c0cf2" stroke-width="1.4"/>
<path d="M232.4 189.2L231 191.3L232.4 193.4" fill="none" stroke="#0c0cf2" stroke-width="1.4"/>
<path d="M235.8 189.2L234.4 191.3L235.8 193.4" fill="none" stroke="#0c0cf2" stroke-width="1.4"/>
<path d="M239.2 189.2L237.8 191.3L239.2 193.4" fill="none" stroke="#0c0cf2" stroke-width="1.4"/>
<path d="M242.6 189.2L241.2 191.3L242.6 193.4" fill="none" stroke="#0c0cf2" stroke-width="1.4"/>
<path d="M246 189.2L244.6 191.3L246 193.4" fill="none" stroke="#0c0cf2" stroke-width="1.4"/>
<rect x="222.7" y="189.3" width="1.1" height="4" fill="#0c0cf2"/>
<rect x="227" y="189.3" width="1" height="4" fill="#0c0cf2"/>
<rect x="236" y="189.3" width="1" height="4" fill="#0c0cf2"/>
<rect x="244.8" y="189.3" width="1.3" height="4" fill="#0c0cf2"/>
<text x="237.4" y="185.37" font-size="8.3" text-anchor="middle" fill="#222" stroke="#222">PAX8</text>
<text x="279.3" y="185.07" font-size="8.3" text-anchor="middle" fill="#222" stroke="#222">PSD4</text>
<text x="234.3" y="201.87" font-size="8.3" text-anchor="middle" fill="#222" stroke="#222">PAX8-AS1</text>
<line x1="397.6" y1="173.8" x2="459.5" y2="173.8" stroke="#0c0cf2" stroke-width="2.3" stroke-linecap="butt"/>
<rect x="397.6" y="169.9" width="15.8" height="7.9" fill="#0a0ad0"/>
<path d="M401.5 171.3L403.3 173.8L401.5 176.3" fill="none" stroke="#fff" stroke-width="1.0"/>
<path d="M404.6 171.3L406.4 173.8L404.6 176.3" fill="none" stroke="#fff" stroke-width="1.0"/>
<path d="M407.7 171.3L409.5 173.8L407.7 176.3" fill="none" stroke="#fff" stroke-width="1.0"/>
<rect x="414.3" y="170.6" width="0.9" height="6.4" fill="#0c0cf2"/>
<path d="M416 170.3L419.3 173.8L416 177.3Z" fill="#0c0cf2"/>
<rect x="419.6" y="170.2" width="0.9" height="7.3" fill="#0c0cf2"/>
<rect x="421.2" y="170.2" width="0.9" height="7.3" fill="#0c0cf2"/>
<rect x="422.8" y="170.2" width="0.9" height="7.3" fill="#0c0cf2"/>
<rect x="424.4" y="170.2" width="0.9" height="7.3" fill="#0c0cf2"/>
<rect x="426" y="170.2" width="0.9" height="7.3" fill="#0c0cf2"/>
<rect x="427.6" y="170.2" width="0.9" height="7.3" fill="#0c0cf2"/>
<rect x="428.7" y="170.1" width="18.4" height="7.5" fill="#5050e6"/>
<rect x="428.9" y="170.1" width="0.9" height="7.5" fill="#0c0cf2"/>
<rect x="430.55" y="170.1" width="0.9" height="7.5" fill="#0c0cf2"/>
<rect x="432.2" y="170.1" width="0.9" height="7.5" fill="#0c0cf2"/>
<rect x="433.85" y="170.1" width="0.9" height="7.5" fill="#0c0cf2"/>
<rect x="435.5" y="170.1" width="0.9" height="7.5" fill="#0c0cf2"/>
<rect x="437.15" y="170.1" width="0.9" height="7.5" fill="#0c0cf2"/>
<rect x="438.8" y="170.1" width="0.9" height="7.5" fill="#0c0cf2"/>
<rect x="440.45" y="170.1" width="0.9" height="7.5" fill="#0c0cf2"/>
<rect x="442.1" y="170.1" width="0.9" height="7.5" fill="#0c0cf2"/>
<rect x="443.75" y="170.1" width="0.9" height="7.5" fill="#0c0cf2"/>
<rect x="445.4" y="170.1" width="0.9" height="7.5" fill="#0c0cf2"/>
<rect x="447.3" y="170.5" width="0.9" height="6.6" fill="#9c9cf2"/>
<rect x="448.85" y="170.5" width="0.9" height="6.6" fill="#9c9cf2"/>
<rect x="450.4" y="170.5" width="0.9" height="6.6" fill="#9c9cf2"/>
<rect x="451.95" y="170.5" width="0.9" height="6.6" fill="#9c9cf2"/>
<rect x="453.5" y="170.5" width="0.9" height="6.6" fill="#9c9cf2"/>
<rect x="455.05" y="170.5" width="0.9" height="6.6" fill="#9c9cf2"/>
<rect x="456.6" y="170.5" width="0.9" height="6.6" fill="#9c9cf2"/>
<rect x="458.15" y="170.5" width="0.9" height="6.6" fill="#9c9cf2"/>
<text x="427.7" y="185.97" font-size="8.3" text-anchor="middle" fill="#222" stroke="#222">MUC16</text>
<text x="485.5" y="12.6" font-size="16.5" font-weight="bold" fill="#000" stroke="#000">c</text>
<rect x="539.2" y="33.82" width="5.2" height="140.38" fill="#000"/>
<text x="0" y="0" font-size="8.8" fill="#111" transform="translate(544.4 32.02) rotate(-61)" stroke="#111">1123</text>
<rect x="547.7" y="94.95" width="5.2" height="79.25" fill="#e41a1c"/>
<text x="0" y="0" font-size="8.8" fill="#e41a1c" transform="translate(552.9 93.15) rotate(-61)" stroke="#e41a1c">634</text>
<rect x="556.2" y="97.07" width="5.2" height="77.12" fill="#4daf4a"/>
<text x="0" y="0" font-size="8.8" fill="#4daf4a" transform="translate(561.4 95.27) rotate(-61)" stroke="#4daf4a">617</text>
<rect x="564.7" y="103.57" width="5.2" height="70.62" fill="#984ea3"/>
<text x="0" y="0" font-size="8.8" fill="#984ea3" transform="translate(569.9 101.77) rotate(-61)" stroke="#984ea3">565</text>
<rect x="573.2" y="131.32" width="5.2" height="42.88" fill="#000"/>
<text x="0" y="0" font-size="8.8" fill="#111" transform="translate(578.4 129.52) rotate(-61)" stroke="#111">343</text>
<rect x="581.7" y="139.45" width="5.2" height="34.75" fill="#377eb8"/>
<text x="0" y="0" font-size="8.8" fill="#377eb8" transform="translate(586.9 137.65) rotate(-61)" stroke="#377eb8">278</text>
<rect x="590.2" y="140.2" width="5.2" height="34" fill="#000"/>
<text x="0" y="0" font-size="8.8" fill="#111" transform="translate(595.4 138.4) rotate(-61)" stroke="#111">272</text>
<rect x="598.7" y="143.82" width="5.2" height="30.38" fill="#000"/>
<text x="0" y="0" font-size="8.8" fill="#111" transform="translate(603.9 142.02) rotate(-61)" stroke="#111">243</text>
<rect x="607.2" y="147.82" width="5.2" height="26.38" fill="#000"/>
<text x="0" y="0" font-size="8.8" fill="#111" transform="translate(612.4 146.02) rotate(-61)" stroke="#111">211</text>
<rect x="615.7" y="147.95" width="5.2" height="26.25" fill="#000"/>
<text x="0" y="0" font-size="8.8" fill="#111" transform="translate(620.9 146.15) rotate(-61)" stroke="#111">210</text>
<rect x="624.2" y="152.32" width="5.2" height="21.88" fill="#000"/>
<text x="0" y="0" font-size="8.8" fill="#111" transform="translate(629.4 150.52) rotate(-61)" stroke="#111">175</text>
<rect x="632.7" y="157.2" width="5.2" height="17" fill="#000"/>
<text x="0" y="0" font-size="8.8" fill="#111" transform="translate(637.9 155.4) rotate(-61)" stroke="#111">136</text>
<rect x="641.2" y="157.82" width="5.2" height="16.38" fill="#000"/>
<text x="0" y="0" font-size="8.8" fill="#111" transform="translate(646.4 156.02) rotate(-61)" stroke="#111">131</text>
<rect x="649.7" y="158.32" width="5.2" height="15.88" fill="#000"/>
<text x="0" y="0" font-size="8.8" fill="#111" transform="translate(654.9 156.52) rotate(-61)" stroke="#111">127</text>
<rect x="658.2" y="162.2" width="5.2" height="12" fill="#000"/>
<text x="0" y="0" font-size="8.8" fill="#111" transform="translate(663.4 160.4) rotate(-61)" stroke="#111">96</text>
<rect x="534.3" y="188.5" width="134.6" height="10.6" fill="#f3f3f3"/>
<rect x="534.3" y="210.3" width="134.6" height="10.6" fill="#f3f3f3"/>
<line x1="541.8" y1="182.9" x2="541.8" y2="215.8" stroke="#333" stroke-width="1.3" stroke-linecap="butt"/>
<circle cx="541.8" cy="182.9" r="3.4" fill="#984ea3"/>
<circle cx="541.8" cy="193.9" r="3.4" fill="#4daf4a"/>
<circle cx="541.8" cy="204.8" r="3.4" fill="#377eb8"/>
<circle cx="541.8" cy="215.8" r="3.4" fill="#e41a1c"/>
<circle cx="550.3" cy="182.9" r="3.4" fill="#dedede"/>
<circle cx="550.3" cy="193.9" r="3.4" fill="#dedede"/>
<circle cx="550.3" cy="204.8" r="3.4" fill="#dedede"/>
<circle cx="550.3" cy="215.8" r="3.4" fill="#e41a1c"/>
<circle cx="558.8" cy="182.9" r="3.4" fill="#dedede"/>
<circle cx="558.8" cy="204.8" r="3.4" fill="#dedede"/>
<circle cx="558.8" cy="215.8" r="3.4" fill="#dedede"/>
<circle cx="558.8" cy="193.9" r="3.4" fill="#4daf4a"/>
<circle cx="567.3" cy="193.9" r="3.4" fill="#dedede"/>
<circle cx="567.3" cy="204.8" r="3.4" fill="#dedede"/>
<circle cx="567.3" cy="215.8" r="3.4" fill="#dedede"/>
<circle cx="567.3" cy="182.9" r="3.4" fill="#984ea3"/>
<circle cx="575.8" cy="193.9" r="3.4" fill="#dedede"/>
<line x1="575.8" y1="182.9" x2="575.8" y2="215.8" stroke="#333" stroke-width="1.3" stroke-linecap="butt"/>
<circle cx="575.8" cy="182.9" r="3.4" fill="#984ea3"/>
<circle cx="575.8" cy="204.8" r="3.4" fill="#377eb8"/>
<circle cx="575.8" cy="215.8" r="3.4" fill="#e41a1c"/>
<circle cx="584.3" cy="182.9" r="3.4" fill="#dedede"/>
<circle cx="584.3" cy="193.9" r="3.4" fill="#dedede"/>
<circle cx="584.3" cy="215.8" r="3.4" fill="#dedede"/>
<circle cx="584.3" cy="204.8" r="3.4" fill="#377eb8"/>
<circle cx="592.8" cy="182.9" r="3.4" fill="#dedede"/>
<circle cx="592.8" cy="215.8" r="3.4" fill="#dedede"/>
<line x1="592.8" y1="193.9" x2="592.8" y2="204.8" stroke="#333" stroke-width="1.3" stroke-linecap="butt"/>
<circle cx="592.8" cy="193.9" r="3.4" fill="#4daf4a"/>
<circle cx="592.8" cy="204.8" r="3.4" fill="#377eb8"/>
<circle cx="601.3" cy="193.9" r="3.4" fill="#dedede"/>
<circle cx="601.3" cy="204.8" r="3.4" fill="#dedede"/>
<line x1="601.3" y1="182.9" x2="601.3" y2="215.8" stroke="#333" stroke-width="1.3" stroke-linecap="butt"/>
<circle cx="601.3" cy="182.9" r="3.4" fill="#984ea3"/>
<circle cx="601.3" cy="215.8" r="3.4" fill="#e41a1c"/>
<circle cx="609.8" cy="215.8" r="3.4" fill="#dedede"/>
<line x1="609.8" y1="182.9" x2="609.8" y2="204.8" stroke="#333" stroke-width="1.3" stroke-linecap="butt"/>
<circle cx="609.8" cy="182.9" r="3.4" fill="#984ea3"/>
<circle cx="609.8" cy="193.9" r="3.4" fill="#4daf4a"/>
<circle cx="609.8" cy="204.8" r="3.4" fill="#377eb8"/>
<circle cx="618.3" cy="182.9" r="3.4" fill="#dedede"/>
<line x1="618.3" y1="193.9" x2="618.3" y2="215.8" stroke="#333" stroke-width="1.3" stroke-linecap="butt"/>
<circle cx="618.3" cy="193.9" r="3.4" fill="#4daf4a"/>
<circle cx="618.3" cy="204.8" r="3.4" fill="#377eb8"/>
<circle cx="618.3" cy="215.8" r="3.4" fill="#e41a1c"/>
<circle cx="626.8" cy="182.9" r="3.4" fill="#dedede"/>
<circle cx="626.8" cy="193.9" r="3.4" fill="#dedede"/>
<line x1="626.8" y1="204.8" x2="626.8" y2="215.8" stroke="#333" stroke-width="1.3" stroke-linecap="butt"/>
<circle cx="626.8" cy="204.8" r="3.4" fill="#377eb8"/>
<circle cx="626.8" cy="215.8" r="3.4" fill="#e41a1c"/>
<circle cx="635.3" cy="204.8" r="3.4" fill="#dedede"/>
<circle cx="635.3" cy="215.8" r="3.4" fill="#dedede"/>
<line x1="635.3" y1="182.9" x2="635.3" y2="193.9" stroke="#333" stroke-width="1.3" stroke-linecap="butt"/>
<circle cx="635.3" cy="182.9" r="3.4" fill="#984ea3"/>
<circle cx="635.3" cy="193.9" r="3.4" fill="#4daf4a"/>
<circle cx="643.8" cy="193.9" r="3.4" fill="#dedede"/>
<circle cx="643.8" cy="215.8" r="3.4" fill="#dedede"/>
<line x1="643.8" y1="182.9" x2="643.8" y2="204.8" stroke="#333" stroke-width="1.3" stroke-linecap="butt"/>
<circle cx="643.8" cy="182.9" r="3.4" fill="#984ea3"/>
<circle cx="643.8" cy="204.8" r="3.4" fill="#377eb8"/>
<circle cx="652.3" cy="182.9" r="3.4" fill="#dedede"/>
<circle cx="652.3" cy="204.8" r="3.4" fill="#dedede"/>
<line x1="652.3" y1="193.9" x2="652.3" y2="215.8" stroke="#333" stroke-width="1.3" stroke-linecap="butt"/>
<circle cx="652.3" cy="193.9" r="3.4" fill="#4daf4a"/>
<circle cx="652.3" cy="215.8" r="3.4" fill="#e41a1c"/>
<circle cx="660.8" cy="204.8" r="3.4" fill="#dedede"/>
<line x1="660.8" y1="182.9" x2="660.8" y2="215.8" stroke="#333" stroke-width="1.3" stroke-linecap="butt"/>
<circle cx="660.8" cy="182.9" r="3.4" fill="#984ea3"/>
<circle cx="660.8" cy="193.9" r="3.4" fill="#4daf4a"/>
<circle cx="660.8" cy="215.8" r="3.4" fill="#e41a1c"/>
<path d="M533.6 12.3V221.2H669.2" fill="none" stroke="#000" stroke-width="1.45"/>
<line x1="533" y1="174.4" x2="669.2" y2="174.4" stroke="#000" stroke-width="1.9" stroke-linecap="butt"/>
<line x1="529.3" y1="174.2" x2="533.6" y2="174.2" stroke="#000" stroke-width="1.4" stroke-linecap="butt"/>
<text x="524.6" y="177.85" font-size="10.2" text-anchor="end" fill="#111" stroke="#111">0</text>
<line x1="529.3" y1="124.2" x2="533.6" y2="124.2" stroke="#000" stroke-width="1.4" stroke-linecap="butt"/>
<text x="524.6" y="127.85" font-size="10.2" text-anchor="end" fill="#111" stroke="#111">400</text>
<line x1="529.3" y1="74.2" x2="533.6" y2="74.2" stroke="#000" stroke-width="1.4" stroke-linecap="butt"/>
<text x="524.6" y="77.85" font-size="10.2" text-anchor="end" fill="#111" stroke="#111">800</text>
<line x1="529.3" y1="24.2" x2="533.6" y2="24.2" stroke="#000" stroke-width="1.4" stroke-linecap="butt"/>
<text x="524.6" y="27.85" font-size="10.2" text-anchor="end" fill="#111" stroke="#111">1200</text>
<text x="505.6" y="185.02" font-size="10.1" text-anchor="middle" fill="#111" stroke="#111">MOC</text>
<text x="505.6" y="195.92" font-size="10.1" text-anchor="middle" fill="#111" stroke="#111">HGSOC</text>
<text x="505.6" y="206.82" font-size="10.1" text-anchor="middle" fill="#111" stroke="#111">EnOC</text>
<text x="505.6" y="217.72" font-size="10.1" text-anchor="middle" fill="#111" stroke="#111">CCOC</text>
<text x="0" y="3.72" font-size="10.4" text-anchor="middle" fill="#111" transform="translate(491.3 95) rotate(-90)" stroke="#111">Number of SE-associated genes</text>
<text x="0.3" y="253.4" font-size="16.5" font-weight="bold" fill="#000" stroke="#000">d</text>
<text x="132" y="252.59" font-size="10.3" text-anchor="middle" fill="#e41a1c" stroke="#e41a1c">CCOC−2</text>
<line x1="180.2" y1="259" x2="180.2" y2="402.3" stroke="#b0b0b0" stroke-width="1.4" stroke-linecap="butt" stroke-dasharray="2.8 2.2"/>
<line x1="73.1" y1="386.4" x2="190.8" y2="386.4" stroke="#b0b0b0" stroke-width="1.4" stroke-linecap="butt" stroke-dasharray="2.8 2.2"/>
<path d="M77.5 395.6 80.06 395.6 82.62 395.6 85.19 395.6 87.75 395.6 90.31 395.6 92.88 395.6 95.44 395.6 98 395.6 100.56 395.6 103.12 395.6 105.69 395.6 108.25 395.59 110.81 395.59 113.38 395.58 115.94 395.57 118.5 395.56 121.06 395.55 123.62 395.52 126.19 395.49 128.75 395.45 131.31 395.41 133.88 395.34 136.44 395.26 139 395.17 141.56 395.05 144.12 394.9 146.69 394.72 149.25 394.51 151.81 394.25 154.38 393.94 156.94 393.58 159.5 393.16 162.06 392.67 164.62 392.09 167.19 391.43 169.75 390.66 172.31 389.77 174.88 388.76 177.44 387.61 180 386.3" fill="none" stroke="#f4a3a3" stroke-width="1.5"/>
<path d="M180 386.3C182.32 381.95 185.4 379.3 185.5 372.3L185.8 265.9" fill="none" stroke="#e41a1c" stroke-width="1.8"/>
<line x1="159.3" y1="270.1" x2="186.3" y2="265.9" stroke="#000" stroke-width="1.6" stroke-linecap="butt"/>
<line x1="154.3" y1="281.1" x2="186.3" y2="287.1" stroke="#000" stroke-width="1.6" stroke-linecap="butt"/>
<line x1="159.9" y1="292.2" x2="186.3" y2="290.1" stroke="#000" stroke-width="1.6" stroke-linecap="butt"/>
<line x1="163.2" y1="303.3" x2="186.3" y2="305.2" stroke="#000" stroke-width="1.6" stroke-linecap="butt"/>
<line x1="158.4" y1="314.2" x2="186.3" y2="308" stroke="#000" stroke-width="1.6" stroke-linecap="butt"/>
<line x1="161.7" y1="325" x2="186.3" y2="309.5" stroke="#000" stroke-width="1.6" stroke-linecap="butt"/>
<line x1="155.6" y1="335.9" x2="186.3" y2="310.4" stroke="#000" stroke-width="1.6" stroke-linecap="butt"/>
<line x1="163.6" y1="346.8" x2="186.3" y2="317.5" stroke="#000" stroke-width="1.6" stroke-linecap="butt"/>
<line x1="168.4" y1="358.1" x2="186.3" y2="318.4" stroke="#000" stroke-width="1.6" stroke-linecap="butt"/>
<line x1="160.8" y1="369.5" x2="186.3" y2="318.9" stroke="#000" stroke-width="1.6" stroke-linecap="butt"/>
<line x1="161.7" y1="381.8" x2="184" y2="378" stroke="#000" stroke-width="1.6" stroke-linecap="butt"/>
<text x="130.8" y="274.79" font-size="10.3" text-anchor="middle" fill="#111" stroke="#111">1. SOCS3</text>
<text x="130.8" y="285.91" font-size="10.3" text-anchor="middle" fill="#111" stroke="#111">2. PAX8</text>
<text x="130.8" y="297.03" font-size="10.3" text-anchor="middle" fill="#111" stroke="#111">3. NCOR2</text>
<text x="130.8" y="308.15" font-size="10.3" text-anchor="middle" fill="#111" stroke="#111">4. ZMYND8</text>
<text x="130.8" y="319.27" font-size="10.3" text-anchor="middle" fill="#111" stroke="#111">5. SEPT9</text>
<text x="130.8" y="330.39" font-size="10.3" text-anchor="middle" fill="#111" stroke="#111">6. ERGIC1</text>
<text x="130.8" y="341.51" font-size="10.3" text-anchor="middle" fill="#111" stroke="#111">7. PLEC</text>
<text x="130.8" y="352.63" font-size="10.3" text-anchor="middle" fill="#111" stroke="#111">8. ZFP36L2</text>
<text x="130.8" y="363.75" font-size="10.3" text-anchor="middle" fill="#111" stroke="#111">9. LINC00963</text>
<text x="130.8" y="374.87" font-size="10.3" text-anchor="middle" fill="#111" stroke="#111">10. BCL9L</text>
<text x="130.8" y="387.19" font-size="10.3" text-anchor="middle" fill="#111" stroke="#111">452. MUC16</text>
<path d="M73.1 259.2V402.3H190.8" fill="none" stroke="#000" stroke-width="1.45"/>
<line x1="66.3" y1="395.6" x2="73.1" y2="395.6" stroke="#000" stroke-width="1.4" stroke-linecap="butt"/>
<text x="61.3" y="399.29" font-size="10.3" text-anchor="end" fill="#111" stroke="#111">0</text>
<line x1="66.3" y1="344.8" x2="73.1" y2="344.8" stroke="#000" stroke-width="1.4" stroke-linecap="butt"/>
<text x="61.3" y="348.49" font-size="10.3" text-anchor="end" fill="#111" stroke="#111">100</text>
<line x1="66.3" y1="294" x2="73.1" y2="294" stroke="#000" stroke-width="1.4" stroke-linecap="butt"/>
<text x="61.3" y="297.69" font-size="10.3" text-anchor="end" fill="#111" stroke="#111">200</text>
<text x="290" y="252.59" font-size="10.3" text-anchor="middle" fill="#377eb8" stroke="#377eb8">EnOC−4</text>
<line x1="338.9" y1="259" x2="338.9" y2="402.3" stroke="#b0b0b0" stroke-width="1.4" stroke-linecap="butt" stroke-dasharray="2.8 2.2"/>
<line x1="231.7" y1="386.1" x2="348.8" y2="386.1" stroke="#b0b0b0" stroke-width="1.4" stroke-linecap="butt" stroke-dasharray="2.8 2.2"/>
<path d="M236 395.4 238.57 395.4 241.15 395.4 243.72 395.4 246.29 395.4 248.86 395.4 251.44 395.4 254.01 395.4 256.58 395.4 259.15 395.4 261.73 395.4 264.3 395.4 266.87 395.39 269.44 395.39 272.01 395.38 274.59 395.37 277.16 395.36 279.73 395.35 282.31 395.32 284.88 395.29 287.45 395.25 290.02 395.21 292.59 395.14 295.17 395.06 297.74 394.97 300.31 394.85 302.88 394.7 305.46 394.52 308.03 394.31 310.6 394.05 313.17 393.74 315.75 393.38 318.32 392.96 320.89 392.47 323.46 391.89 326.04 391.23 328.61 390.46 331.18 389.57 333.75 388.56 336.33 387.41 338.9 386.1" fill="none" stroke="#a9c8e6" stroke-width="1.5"/>
<path d="M338.9 386.1C341.02 382.12 343.8 379.1 343.9 372.1L344.2 266.3" fill="none" stroke="#377eb8" stroke-width="1.8"/>
<line x1="310.5" y1="270.1" x2="344.2" y2="266.3" stroke="#000" stroke-width="1.6" stroke-linecap="butt"/>
<line x1="327.5" y1="281" x2="344.2" y2="276.8" stroke="#000" stroke-width="1.6" stroke-linecap="butt"/>
<line x1="320.8" y1="291.5" x2="344.2" y2="277.5" stroke="#000" stroke-width="1.6" stroke-linecap="butt"/>
<line x1="314.1" y1="302.2" x2="344.2" y2="290.2" stroke="#000" stroke-width="1.6" stroke-linecap="butt"/>
<line x1="319.8" y1="313.2" x2="344.2" y2="304.2" stroke="#000" stroke-width="1.6" stroke-linecap="butt"/>
<line x1="312.7" y1="325" x2="344.2" y2="313" stroke="#000" stroke-width="1.6" stroke-linecap="butt"/>
<line x1="318.1" y1="335.7" x2="344.2" y2="313.5" stroke="#000" stroke-width="1.6" stroke-linecap="butt"/>
<line x1="314.7" y1="347.1" x2="344.2" y2="315" stroke="#000" stroke-width="1.6" stroke-linecap="butt"/>
<line x1="322.1" y1="357.8" x2="344.2" y2="317" stroke="#000" stroke-width="1.6" stroke-linecap="butt"/>
<line x1="322.5" y1="369.2" x2="344.2" y2="317.5" stroke="#000" stroke-width="1.6" stroke-linecap="butt"/>
<line x1="322.5" y1="369.2" x2="344.2" y2="320" stroke="#000" stroke-width="1.6" stroke-linecap="butt"/>
<line x1="315.8" y1="380.6" x2="344.2" y2="339.1" stroke="#000" stroke-width="1.6" stroke-linecap="butt"/>
<text x="289.5" y="274.79" font-size="10.3" text-anchor="middle" fill="#111" stroke="#111">1. CD9</text>
<text x="289.5" y="285.99" font-size="10.3" text-anchor="middle" fill="#111" stroke="#111">2. LINC00963</text>
<text x="289.5" y="296.89" font-size="10.3" text-anchor="middle" fill="#111" stroke="#111">3. PPP1CB</text>
<text x="289.5" y="308.29" font-size="10.3" text-anchor="middle" fill="#111" stroke="#111">4. PLEC</text>
<text x="289.5" y="319.19" font-size="10.3" text-anchor="middle" fill="#111" stroke="#111">5. ERGIC1</text>
<text x="289.5" y="330.39" font-size="10.3" text-anchor="middle" fill="#111" stroke="#111">6. ELF3</text>
<text x="289.5" y="341.59" font-size="10.3" text-anchor="middle" fill="#111" stroke="#111">7. MUC16</text>
<text x="289.5" y="352.29" font-size="10.3" text-anchor="middle" fill="#111" stroke="#111">8. MYH9</text>
<text x="289.5" y="363.69" font-size="10.3" text-anchor="middle" fill="#111" stroke="#111">9. ZFP36L2</text>
<text x="289.5" y="374.79" font-size="10.3" text-anchor="middle" fill="#111" stroke="#111">10. C9orf50</text>
<text x="289.5" y="386.29" font-size="10.3" text-anchor="middle" fill="#111" stroke="#111">24. PAX8</text>
<path d="M231.7 259.2V402.3H348.8" fill="none" stroke="#000" stroke-width="1.45"/>
<line x1="224.9" y1="395.5" x2="231.7" y2="395.5" stroke="#000" stroke-width="1.4" stroke-linecap="butt"/>
<text x="219.9" y="399.19" font-size="10.3" text-anchor="end" fill="#111" stroke="#111">0</text>
<line x1="224.9" y1="359.8" x2="231.7" y2="359.8" stroke="#000" stroke-width="1.4" stroke-linecap="butt"/>
<text x="219.9" y="363.49" font-size="10.3" text-anchor="end" fill="#111" stroke="#111">50</text>
<line x1="224.9" y1="324.3" x2="231.7" y2="324.3" stroke="#000" stroke-width="1.4" stroke-linecap="butt"/>
<text x="219.9" y="327.99" font-size="10.3" text-anchor="end" fill="#111" stroke="#111">100</text>
<line x1="224.9" y1="289" x2="231.7" y2="289" stroke="#000" stroke-width="1.4" stroke-linecap="butt"/>
<text x="219.9" y="292.69" font-size="10.3" text-anchor="end" fill="#111" stroke="#111">150</text>
<text x="450" y="252.59" font-size="10.3" text-anchor="middle" fill="#4daf4a" stroke="#4daf4a">HGSOC−2</text>
<line x1="497.5" y1="259" x2="497.5" y2="402.3" stroke="#b0b0b0" stroke-width="1.4" stroke-linecap="butt" stroke-dasharray="2.8 2.2"/>
<line x1="390.9" y1="385.5" x2="509.3" y2="385.5" stroke="#b0b0b0" stroke-width="1.4" stroke-linecap="butt" stroke-dasharray="2.8 2.2"/>
<path d="M395 395.4 397.56 395.4 400.12 395.4 402.69 395.4 405.25 395.4 407.81 395.4 410.38 395.4 412.94 395.4 415.5 395.4 418.06 395.4 420.62 395.4 423.19 395.4 425.75 395.39 428.31 395.39 430.88 395.38 433.44 395.37 436 395.36 438.56 395.34 441.12 395.32 443.69 395.29 446.25 395.25 448.81 395.19 451.38 395.13 453.94 395.04 456.5 394.94 459.06 394.81 461.62 394.65 464.19 394.46 466.75 394.24 469.31 393.96 471.88 393.64 474.44 393.25 477 392.8 479.56 392.28 482.12 391.67 484.69 390.96 487.25 390.14 489.81 389.2 492.38 388.12 494.94 386.9 497.5 385.5" fill="none" stroke="#b5dcb3" stroke-width="1.5"/>
<path d="M497.5 385.5C500.18 380.48 503.8 378.5 503.9 371.5L504.2 266.3" fill="none" stroke="#4daf4a" stroke-width="1.8"/>
<line x1="470.1" y1="270.3" x2="504.2" y2="266.3" stroke="#000" stroke-width="1.6" stroke-linecap="butt"/>
<line x1="486.1" y1="281.5" x2="504.2" y2="278.8" stroke="#000" stroke-width="1.6" stroke-linecap="butt"/>
<line x1="472.1" y1="292.6" x2="504.2" y2="289.9" stroke="#000" stroke-width="1.6" stroke-linecap="butt"/>
<line x1="474.7" y1="303.3" x2="504.2" y2="289.9" stroke="#000" stroke-width="1.6" stroke-linecap="butt"/>
<line x1="479.8" y1="314.3" x2="504.2" y2="297.5" stroke="#000" stroke-width="1.6" stroke-linecap="butt"/>
<line x1="472.1" y1="325.7" x2="504.2" y2="297.5" stroke="#000" stroke-width="1.6" stroke-linecap="butt"/>
<line x1="482.1" y1="336.4" x2="504.2" y2="315.6" stroke="#000" stroke-width="1.6" stroke-linecap="butt"/>
<line x1="471.4" y1="348.1" x2="504.2" y2="315.6" stroke="#000" stroke-width="1.6" stroke-linecap="butt"/>
<line x1="477.4" y1="358.8" x2="504.2" y2="319.6" stroke="#000" stroke-width="1.6" stroke-linecap="butt"/>
<line x1="476.8" y1="370.6" x2="504.2" y2="322.3" stroke="#000" stroke-width="1.6" stroke-linecap="butt"/>
<line x1="480.8" y1="381.3" x2="504.2" y2="327.7" stroke="#000" stroke-width="1.6" stroke-linecap="butt"/>
<text x="449.2" y="274.79" font-size="10.3" text-anchor="middle" fill="#111" stroke="#111">1. CD9</text>
<text x="449.2" y="285.99" font-size="10.3" text-anchor="middle" fill="#111" stroke="#111">2. LINC00963</text>
<text x="449.2" y="296.89" font-size="10.3" text-anchor="middle" fill="#111" stroke="#111">3. PAX8</text>
<text x="449.2" y="308.29" font-size="10.3" text-anchor="middle" fill="#111" stroke="#111">4. MYH9</text>
<text x="449.2" y="319.19" font-size="10.3" text-anchor="middle" fill="#111" stroke="#111">5. TBC1D7</text>
<text x="449.2" y="330.39" font-size="10.3" text-anchor="middle" fill="#111" stroke="#111">6. ELF3</text>
<text x="449.2" y="341.59" font-size="10.3" text-anchor="middle" fill="#111" stroke="#111">7. B4GALT1</text>
<text x="449.2" y="352.29" font-size="10.3" text-anchor="middle" fill="#111" stroke="#111">8. LYL1</text>
<text x="449.2" y="363.69" font-size="10.3" text-anchor="middle" fill="#111" stroke="#111">9. CEBPB</text>
<text x="449.2" y="374.79" font-size="10.3" text-anchor="middle" fill="#111" stroke="#111">10. MCL1</text>
<text x="449.2" y="386.29" font-size="10.3" text-anchor="middle" fill="#111" stroke="#111">13. MUC16</text>
<path d="M390.9 259.2V402.3H509.3" fill="none" stroke="#000" stroke-width="1.45"/>
<line x1="384.1" y1="395.5" x2="390.9" y2="395.5" stroke="#000" stroke-width="1.4" stroke-linecap="butt"/>
<text x="379.1" y="399.19" font-size="10.3" text-anchor="end" fill="#111" stroke="#111">0</text>
<line x1="384.1" y1="357" x2="390.9" y2="357" stroke="#000" stroke-width="1.4" stroke-linecap="butt"/>
<text x="379.1" y="360.69" font-size="10.3" text-anchor="end" fill="#111" stroke="#111">50</text>
<line x1="384.1" y1="318.6" x2="390.9" y2="318.6" stroke="#000" stroke-width="1.4" stroke-linecap="butt"/>
<text x="379.1" y="322.29" font-size="10.3" text-anchor="end" fill="#111" stroke="#111">100</text>
<line x1="384.1" y1="279.6" x2="390.9" y2="279.6" stroke="#000" stroke-width="1.4" stroke-linecap="butt"/>
<text x="379.1" y="283.29" font-size="10.3" text-anchor="end" fill="#111" stroke="#111">150</text>
<text x="608" y="252.59" font-size="10.3" text-anchor="middle" fill="#984ea3" stroke="#984ea3">MOC−4</text>
<line x1="656.1" y1="259" x2="656.1" y2="402.3" stroke="#b0b0b0" stroke-width="1.4" stroke-linecap="butt" stroke-dasharray="2.8 2.2"/>
<line x1="548.9" y1="385.9" x2="667.9" y2="385.9" stroke="#b0b0b0" stroke-width="1.4" stroke-linecap="butt" stroke-dasharray="2.8 2.2"/>
<path d="M553 395.7 555.58 395.7 558.15 395.7 560.73 395.7 563.31 395.7 565.89 395.7 568.47 395.7 571.04 395.7 573.62 395.7 576.2 395.7 578.77 395.7 581.35 395.7 583.93 395.69 586.51 395.69 589.09 395.68 591.66 395.67 594.24 395.66 596.82 395.64 599.39 395.62 601.97 395.59 604.55 395.55 607.13 395.49 609.71 395.43 612.28 395.35 614.86 395.24 617.44 395.12 620.01 394.96 622.59 394.77 625.17 394.55 627.75 394.28 630.33 393.96 632.9 393.58 635.48 393.13 638.06 392.61 640.63 392 643.21 391.3 645.79 390.49 648.37 389.56 650.95 388.5 653.52 387.28 656.1 385.9" fill="none" stroke="#d4b5dc" stroke-width="1.5"/>
<path d="M656.1 385.9C658.3 381.77 661.2 378.9 661.3 371.9L661.6 266.3" fill="none" stroke="#984ea3" stroke-width="1.8"/>
<line x1="637.3" y1="270.3" x2="661.6" y2="266.3" stroke="#000" stroke-width="1.6" stroke-linecap="butt"/>
<line x1="635.5" y1="279.4" x2="661.6" y2="302.2" stroke="#000" stroke-width="1.6" stroke-linecap="butt"/>
<line x1="632.4" y1="289.9" x2="661.6" y2="311" stroke="#000" stroke-width="1.6" stroke-linecap="butt"/>
<line x1="631.7" y1="300.2" x2="661.6" y2="313" stroke="#000" stroke-width="1.6" stroke-linecap="butt"/>
<line x1="635.5" y1="310.3" x2="661.6" y2="321" stroke="#000" stroke-width="1.6" stroke-linecap="butt"/>
<line x1="640.4" y1="320.3" x2="661.6" y2="323.7" stroke="#000" stroke-width="1.6" stroke-linecap="butt"/>
<line x1="632.8" y1="331" x2="661.6" y2="325" stroke="#000" stroke-width="1.6" stroke-linecap="butt"/>
<line x1="628.8" y1="341.1" x2="661.6" y2="325.7" stroke="#000" stroke-width="1.6" stroke-linecap="butt"/>
<line x1="627.7" y1="351.1" x2="661.6" y2="329" stroke="#000" stroke-width="1.6" stroke-linecap="butt"/>
<line x1="647.8" y1="361.2" x2="661.6" y2="330.4" stroke="#000" stroke-width="1.6" stroke-linecap="butt"/>
<line x1="636" y1="371.9" x2="661.6" y2="363.2" stroke="#000" stroke-width="1.6" stroke-linecap="butt"/>
<line x1="640.4" y1="382" x2="661.6" y2="371.9" stroke="#000" stroke-width="1.6" stroke-linecap="butt"/>
<text x="606.6" y="274.59" font-size="10.3" text-anchor="middle" fill="#111" stroke="#111">1. ERGIC1</text>
<text x="606.6" y="284.59" font-size="10.3" text-anchor="middle" fill="#111" stroke="#111">2. CEBPB</text>
<text x="606.6" y="294.29" font-size="10.3" text-anchor="middle" fill="#111" stroke="#111">3. HIF1A</text>
<text x="606.6" y="304.79" font-size="10.3" text-anchor="middle" fill="#111" stroke="#111">4. MYH9</text>
<text x="606.6" y="314.79" font-size="10.3" text-anchor="middle" fill="#111" stroke="#111">5. RREB1</text>
<text x="606.6" y="325.59" font-size="10.3" text-anchor="middle" fill="#111" stroke="#111">6. SEC14L1</text>
<text x="606.6" y="335.49" font-size="10.3" text-anchor="middle" fill="#111" stroke="#111">7. DDIT4</text>
<text x="606.6" y="345.49" font-size="10.3" text-anchor="middle" fill="#111" stroke="#111">8. IRF2</text>
<text x="606.6" y="356.29" font-size="10.3" text-anchor="middle" fill="#111" stroke="#111">9. CD9</text>
<text x="606.6" y="366.49" font-size="10.3" text-anchor="middle" fill="#111" stroke="#111">10. LINC00963</text>
<text x="606.6" y="377.09" font-size="10.3" text-anchor="middle" fill="#111" stroke="#111">106. PAX8</text>
<text x="606.6" y="387.29" font-size="10.3" text-anchor="middle" fill="#111" stroke="#111">202. MUC16</text>
<path d="M548.9 259.2V402.3H667.9" fill="none" stroke="#000" stroke-width="1.45"/>
<line x1="542.1" y1="395.8" x2="548.9" y2="395.8" stroke="#000" stroke-width="1.4" stroke-linecap="butt"/>
<text x="537.1" y="399.49" font-size="10.3" text-anchor="end" fill="#111" stroke="#111">0</text>
<line x1="542.1" y1="351.1" x2="548.9" y2="351.1" stroke="#000" stroke-width="1.4" stroke-linecap="butt"/>
<text x="537.1" y="354.79" font-size="10.3" text-anchor="end" fill="#111" stroke="#111">50</text>
<line x1="542.1" y1="306.5" x2="548.9" y2="306.5" stroke="#000" stroke-width="1.4" stroke-linecap="butt"/>
<text x="537.1" y="310.19" font-size="10.3" text-anchor="end" fill="#111" stroke="#111">100</text>
<line x1="542.1" y1="261.8" x2="548.9" y2="261.8" stroke="#000" stroke-width="1.4" stroke-linecap="butt"/>
<text x="537.1" y="265.49" font-size="10.3" text-anchor="end" fill="#111" stroke="#111">150</text>
<text x="368.5" y="419.92" font-size="10.4" text-anchor="middle" fill="#111" stroke="#111">Enhancer rank</text>
<text x="0" y="3.76" font-size="10.5" text-anchor="middle" fill="#111" transform="translate(29.6 331) rotate(-90)" stroke="#111">Enhancer signal (CPM × 1000)</text>
<text x="0.3" y="448.6" font-size="16.5" font-weight="bold" fill="#000" stroke="#000">e</text>
<path d="M73.7 482.9 73.7 479.13 74.2 482.9 74.7 481.95 75.2 482.53 75.7 481.28 76.2 480.41 76.7 482.4 77.2 481.59 77.7 482.9 78.2 482.9 78.7 480.98 79.2 482.31 79.7 482.9 80.2 482.9 80.7 481.77 81.2 481.35 81.7 481.35 82.2 482.9 82.7 480.36 83.2 480.5 83.7 481.44 84.2 482.52 84.7 480.87 85.2 481.04 85.7 481.66 86.2 482.9 86.7 482.25 87.2 482.9 87.7 481.97 88.2 482.27 88.7 472.48 89.2 472.31 89.7 473.45 90.2 469.9 90.7 472.5 91.2 472.26 91.7 475.66 92.2 473.12 92.7 464.4 93.2 468.1 93.7 473.02 94.2 469.69 94.7 457.4 95.2 462.5 95.7 458.9 96.2 463.7 96.7 471.42 97.2 462.9 97.7 466.9 98.2 475.13 98.7 470.9 99.2 472.72 99.7 474 100.2 471.96 100.7 472.64 101.2 474.61 101.7 470.9 102.2 473.3 102.7 474.39 103.2 472.01 103.7 472.57 104.2 475.09 104.7 475.64 105.2 472.4 105.7 472.06 106.2 472.98 106.7 472.02 107.2 471.8 107.7 474.11 108.2 474.38 108.7 473.56 109.2 472.99 109.7 472.9 110.2 474.9 110.7 475.16 111.2 473.25 111.7 481.15 112.2 481.44 112.7 480.98 113.2 482.41 113.7 477.65 114.2 481.43 114.7 479.9 115.2 480.5 115.7 480.62 116.2 482.15 116.7 480.86 117.2 480.82 117.7 481.41 118.2 481.1 118.7 481.85 119.2 482.03 119.7 481.54 120.2 480.9 120.7 481.3 121.2 480.81 121.7 482.3 122.2 482.78 122.7 482.9 123.2 481.85 123.7 482.2 124.2 482.2 124.7 482.9 125.2 481.58 125.7 481.54 126.2 482.3 126.7 482.9 127.2 481.24 127.7 480.74 128.2 482.16 128.7 480.71 129.2 482.9 129.7 482.9 130.2 482.9 130.7 482.5 131.2 481.43 131.7 481.49 132.2 481.17 132.7 481.61 133.2 482.11 133.7 482.06 134.2 481.78 134.7 480.49 135.2 480.9 135.7 480.73 136.2 480.64 136.7 482.35 137.2 481.07 137.7 482.42 138.2 482.77 138.7 482.05 139.2 481.83 139.7 480.88 140.2 482.19 140.7 481.32 141.2 480.79 141.7 480.64 142.2 481.87 142.7 481.39 143.2 481.31 143.7 482.01 144.2 481.54 144.7 482.22 145.2 482.25 145.7 480.99 146.2 482.9 146.7 482.81 147.2 481.92 147.7 481.85 148.2 480.79 148.7 481.84 149.2 481.96 149.7 480.6 150.2 479.9 150.7 480.5 151.2 481.28 151.7 476.71 152.2 481.93 152.7 481.98 153.2 480.82 153.7 480.68 154.2 482.2 154.7 481.35 155.2 480.84 155.7 480.8 156.2 481.62 156.7 480.85 157.2 478.4 157.7 479.3 158.2 479.95 158.7 481.16 159.2 476.59 159.7 481.54 160.2 480.48 160.7 480.35 161.2 481.13 161.7 480.54 162.2 481.56 162.7 482.9 163.2 480.96 163.7 476.36 164.2 482.38 164.7 481.92 165.2 482.9 165.7 481.88 166.2 480.99 166.7 481.03 167.2 481.42 167.7 481.41 168.2 482.9 168.7 480.38 169.2 481.17 169.7 482.55 170.2 481.1 170.7 481.4 171.2 482.9 171.7 482.9 172.2 480.33 172.7 481.38 173.2 481.4 173.7 480.93 174.2 481.78 174.7 480.83 175.2 482.49 175.7 481.26 176.2 482 176.7 482.5 177.2 482.06 177.7 482.9 178.2 480.49 178.7 482.9 179.2 482.9 179.7 479.66 180.2 481.86 180.7 482.26 181.2 482.9 181.7 479.58 182.2 482.11 182.7 480.44 183.2 480.98 183.7 482.9 184.2 482.9 184.7 482.34 185.2 480.71 185.7 481.3 186.2 481.82 186.7 480.97 187.2 481.95 187.7 482.38 188.2 481.52 188.7 478.56 189.2 482.9 189.7 481.38 190.2 481.49 190.7 481.91 191.2 481.33 191.3 482.9Z" fill="#e41a1c"/>
<path d="M67.7 457.6H73V482.9H191.8" fill="none" stroke="#000" stroke-width="1.45"/>
<text x="61.8" y="461.29" font-size="10.3" text-anchor="end" fill="#111" stroke="#111">4.3</text>
<path d="M73.7 515.6 73.7 515.27 74.2 515.6 74.7 514.95 75.2 514.92 75.7 514.61 76.2 515.34 76.7 514.83 77.2 512.74 77.7 515.6 78.2 514.74 78.7 515.36 79.2 513.79 79.7 514.89 80.2 515.6 80.7 515.34 81.2 514.82 81.7 515.44 82.2 514.75 82.7 514.96 83.2 515.19 83.7 515.42 84.2 515.6 84.7 514.83 85.2 515.6 85.7 514.89 86.2 515.6 86.7 515.07 87.2 515.1 87.7 515.6 88.2 514.56 88.7 515.48 89.2 512.09 89.7 510.56 90.2 514.31 90.7 509.48 91.2 510.27 91.7 503.8 92.2 506.16 92.7 505.48 93.2 512.64 93.7 501 94.2 503.92 94.7 513.07 95.2 500.67 95.7 502.45 96.2 498.16 96.7 491.9 97.2 496.64 97.7 502.59 98.2 507.61 98.7 504.67 99.2 501.6 99.7 504.4 100.2 507.77 100.7 511.04 101.2 507.6 101.7 509.2 102.2 510.38 102.7 511.11 103.2 511.14 103.7 510.13 104.2 509.6 104.7 509.7 105.2 511.34 105.7 511.43 106.2 510.97 106.7 509.63 107.2 510.14 107.7 511.47 108.2 510.36 108.7 510.03 109.2 512.3 109.7 510.23 110.2 510.95 110.7 509.89 111.2 513.19 111.7 514.99 112.2 514.56 112.7 515.12 113.2 515.42 113.7 515.32 114.2 514.97 114.7 515.25 115.2 515.23 115.7 515.6 116.2 515.6 116.7 515.3 117.2 515.25 117.7 515.38 118.2 515.6 118.7 514.96 119.2 514.84 119.7 515.6 120.2 515.6 120.7 515.42 121.2 515.14 121.7 515.39 122.2 515.6 122.7 514.42 123.2 515.05 123.7 515.6 124.2 515.6 124.7 515.6 125.2 515.6 125.7 514.47 126.2 515.08 126.7 514.88 127.2 514.5 127.7 515.6 128.2 515.04 128.7 515.6 129.2 515.6 129.7 514.8 130.2 514.42 130.7 515.02 131.2 515.33 131.7 514.66 132.2 514.66 132.7 514.42 133.2 515.45 133.7 514.95 134.2 514.84 134.7 515.6 135.2 515.6 135.7 514.47 136.2 515.05 136.7 515.28 137.2 515.09 137.7 515.16 138.2 515.09 138.7 515.22 139.2 514.69 139.7 514.75 140.2 514.1 140.7 514.4 141.2 514.48 141.7 515.18 142.2 514.82 142.7 514.79 143.2 514.96 143.7 514.73 144.2 513.55 144.7 513.75 145.2 513.53 145.7 513.45 146.2 513.49 146.7 512.65 147.2 513.77 147.7 513.44 148.2 511.6 148.7 512.4 149.2 514.61 149.7 512.92 150.2 514.36 150.7 513.31 151.2 513.7 151.7 514.14 152.2 515.09 152.7 515.43 153.2 514.65 153.7 514.83 154.2 514.69 154.7 514.33 155.2 513.13 155.7 513.33 156.2 514.15 156.7 512.28 157.2 512.7 157.7 510.1 158.2 511.2 158.7 514.29 159.2 513.69 159.7 515.13 160.2 513.57 160.7 513.46 161.2 514.28 161.7 514.44 162.2 511.6 162.7 512.4 163.2 514.35 163.7 513.96 164.2 514.66 164.7 514.68 165.2 515.28 165.7 514.81 166.2 514.85 166.7 513.2 167.2 514.44 167.7 514.3 168.2 513.6 168.7 514 169.2 514.51 169.7 514.59 170.2 513.27 170.7 515.16 171.2 514.79 171.7 514.9 172.2 515.17 172.7 515.26 173.2 514.56 173.7 515.12 174.2 514.63 174.7 515.6 175.2 515.6 175.7 514.89 176.2 514.63 176.7 515.6 177.2 514.98 177.7 513.32 178.2 514.95 178.7 515.37 179.2 515.35 179.7 515.6 180.2 514.48 180.7 515.03 181.2 515.37 181.7 515.26 182.2 514.95 182.7 515.37 183.2 514.73 183.7 515.11 184.2 515.6 184.7 515.6 185.2 515.6 185.7 512.68 186.2 515.05 186.7 515.23 187.2 514.62 187.7 515.12 188.2 515.09 188.7 514 189.2 514.78 189.7 514.56 190.2 515.6 190.7 515.6 191.2 515.34 191.3 515.6Z" fill="#377eb8"/>
<path d="M67.7 490.6H73V515.6H191.8" fill="none" stroke="#000" stroke-width="1.45"/>
<text x="61.8" y="494.29" font-size="10.3" text-anchor="end" fill="#111" stroke="#111">3.1</text>
<path d="M73.7 548.2 73.7 548.05 74.2 547.41 74.7 548.2 75.2 548.04 75.7 548.05 76.2 547.61 76.7 545.68 77.2 547.81 77.7 548.2 78.2 548 78.7 547.33 79.2 547.13 79.7 547.3 80.2 548.2 80.7 548.03 81.2 548.01 81.7 547.86 82.2 547.78 82.7 547.18 83.2 547.94 83.7 547.77 84.2 547.6 84.7 548.2 85.2 548.04 85.7 547.91 86.2 548.2 86.7 547.76 87.2 546.74 87.7 544.94 88.2 547.67 88.7 543.03 89.2 540.35 89.7 539.2 90.2 541 90.7 542.98 91.2 540.14 91.7 546.8 92.2 537.2 92.7 539.4 93.2 540.52 93.7 539.4 94.2 546.63 94.7 534.2 95.2 537 95.7 534.48 96.2 537.27 96.7 523.2 97.2 528.2 97.7 529.96 98.2 539.87 98.7 539.45 99.2 536.2 99.7 538.6 100.2 541.06 100.7 543.22 101.2 542.2 101.7 543.4 102.2 544.53 102.7 545.25 103.2 544.2 103.7 545 104.2 546.08 104.7 547.72 105.2 546.76 105.7 547.32 106.2 545.82 106.7 545.9 107.2 545.91 107.7 543.7 108.2 544.6 108.7 546.36 109.2 546.72 109.7 547.39 110.2 547.74 110.7 547.77 111.2 547.36 111.7 547.15 112.2 547.43 112.7 547.14 113.2 546.07 113.7 547.28 114.2 548.2 114.7 547.56 115.2 547.98 115.7 547.56 116.2 547.57 116.7 548.2 117.2 547.89 117.7 547.84 118.2 548.02 118.7 548.2 119.2 547.91 119.7 548.2 120.2 548.2 120.7 547.3 121.2 547.12 121.7 547.32 122.2 547.17 122.7 547.99 123.2 547.55 123.7 547.52 124.2 547.22 124.7 547.73 125.2 547.37 125.7 547.4 126.2 548.06 126.7 548.2 127.2 547.3 127.7 547.98 128.2 548.2 128.7 548.2 129.2 547.88 129.7 547.24 130.2 547.96 130.7 548.2 131.2 548.2 131.7 547.41 132.2 548.2 132.7 548.2 133.2 547.35 133.7 548.2 134.2 547.32 134.7 547.34 135.2 547.93 135.7 548.2 136.2 547.51 136.7 548.2 137.2 548.2 137.7 548.2 138.2 548.2 138.7 547.72 139.2 547.55 139.7 547.58 140.2 548.06 140.7 547.43 141.2 547.78 141.7 547.81 142.2 548.2 142.7 547.83 143.2 547.84 143.7 547.17 144.2 548.2 144.7 546.6 145.2 547.58 145.7 547.71 146.2 547.22 146.7 548.01 147.2 545.51 147.7 545.04 148.2 544.8 148.7 545.41 149.2 544.6 149.7 544.59 150.2 543.71 150.7 545.26 151.2 543.74 151.7 544.41 152.2 545.31 152.7 544.61 153.2 544.35 153.7 544.23 154.2 543.85 154.7 544.52 155.2 542.7 155.7 543.8 156.2 545.28 156.7 544.11 157.2 544.52 157.7 543.4 158.2 544.46 158.7 544.49 159.2 540.2 159.7 541.8 160.2 544.35 160.7 544.31 161.2 540.58 161.7 537.38 162.2 535.4 162.7 537.96 163.2 544.7 163.7 542.27 164.2 539.2 164.7 541 165.2 545.91 165.7 544.74 166.2 544.2 166.7 545 167.2 545.59 167.7 546.75 168.2 547.54 168.7 547.29 169.2 547.4 169.7 548.18 170.2 548.05 170.7 547.15 171.2 548.01 171.7 547.99 172.2 548.2 172.7 547.12 173.2 547.73 173.7 547.8 174.2 548.2 174.7 548.2 175.2 548.2 175.7 547.41 176.2 547.33 176.7 547.72 177.2 547.28 177.7 547.24 178.2 547.55 178.7 547.28 179.2 547.34 179.7 548.2 180.2 548.06 180.7 547.43 181.2 547.46 181.7 547.35 182.2 547.46 182.7 547.68 183.2 547.4 183.7 547.86 184.2 547.93 184.7 547.38 185.2 547.67 185.7 548.2 186.2 548 186.7 546.16 187.2 547.13 187.7 547.98 188.2 547.25 188.7 547.71 189.2 547.17 189.7 548.2 190.2 546.84 190.7 547.84 191.2 547.38 191.3 548.2Z" fill="#4daf4a"/>
<path d="M67.7 523H73V548.2H191.8" fill="none" stroke="#000" stroke-width="1.45"/>
<text x="61.8" y="526.69" font-size="10.3" text-anchor="end" fill="#111" stroke="#111">1.8</text>
<path d="M73.7 580.7 73.7 580.09 74.2 580.11 74.7 579.18 75.2 579.95 75.7 580.31 76.2 580.7 76.7 580.54 77.2 580.02 77.7 580.19 78.2 580.56 78.7 580.7 79.2 580.7 79.7 579.94 80.2 580.7 80.7 580.15 81.2 580.7 81.7 580.08 82.2 580.7 82.7 580.18 83.2 580.17 83.7 580.53 84.2 579.84 84.7 579.83 85.2 580.52 85.7 580.5 86.2 580.23 86.7 580.59 87.2 580.7 87.7 579.81 88.2 580.48 88.7 578.79 89.2 577.12 89.7 575.54 90.2 578.05 90.7 571.7 91.2 573.5 91.7 573.95 92.2 576.57 92.7 570.7 93.2 572.7 93.7 577.44 94.2 569.94 94.7 568.7 95.2 566.71 95.7 566.24 96.2 563.68 96.7 555.9 97.2 560.86 97.7 565.81 98.2 568.09 98.7 575.22 99.2 570.7 99.7 572.7 100.2 575.22 100.7 576.57 101.2 574.7 101.7 575.9 102.2 577.16 102.7 577.08 103.2 576.39 103.7 577.67 104.2 577.48 104.7 576.47 105.2 577.53 105.7 576.59 106.2 577.94 106.7 577.64 107.2 577.16 107.7 577.02 108.2 577.46 108.7 577.93 109.2 577.92 109.7 576.46 110.2 577.44 110.7 577.34 111.2 576.58 111.7 576.72 112.2 580.44 112.7 580.7 113.2 579.96 113.7 580.44 114.2 580.34 114.7 580.29 115.2 580.53 115.7 579.98 116.2 580.47 116.7 580.22 117.2 580.7 117.7 578.52 118.2 580.7 118.7 580.47 119.2 580.56 119.7 579.9 120.2 580.44 120.7 580.53 121.2 579.92 121.7 580.7 122.2 580.42 122.7 580.15 123.2 580.33 123.7 580.7 124.2 580.18 124.7 579.96 125.2 579.98 125.7 580.19 126.2 580.3 126.7 580.15 127.2 580.25 127.7 579.35 128.2 579.05 128.7 580.53 129.2 580.47 129.7 579.88 130.2 580.7 130.7 580.7 131.2 578.76 131.7 579.18 132.2 579.85 132.7 580.4 133.2 580.4 133.7 580.37 134.2 580.52 134.7 580.42 135.2 579.84 135.7 580.31 136.2 580.07 136.7 580.53 137.2 580 137.7 580.3 138.2 580.43 138.7 580.34 139.2 578.7 139.7 580.48 140.2 580.39 140.7 579.88 141.2 580.14 141.7 578.38 142.2 580.7 142.7 580.52 143.2 580.04 143.7 580.57 144.2 580.49 144.7 580.56 145.2 580.22 145.7 579.97 146.2 580.7 146.7 580.36 147.2 580.7 147.7 580.5 148.2 580.42 148.7 580.29 149.2 580.7 149.7 579.85 150.2 579.96 150.7 579.98 151.2 580.7 151.7 579.97 152.2 580.35 152.7 580.45 153.2 580.35 153.7 580.37 154.2 579.91 154.7 580.01 155.2 579.58 155.7 578.98 156.2 578.65 156.7 579.44 157.2 578.09 157.7 579.48 158.2 576.5 158.7 577.34 159.2 577.78 159.7 580.15 160.2 578.85 160.7 577.55 161.2 576.7 161.7 577.5 162.2 578.24 162.7 579.72 163.2 579.72 163.7 580.06 164.2 580.27 164.7 579.33 165.2 580.27 165.7 580.52 166.2 580.7 166.7 580.7 167.2 580.14 167.7 579.9 168.2 580.7 168.7 580.16 169.2 580.7 169.7 580.38 170.2 580.7 170.7 580.23 171.2 578.99 171.7 578.98 172.2 580.7 172.7 580.35 173.2 579.84 173.7 580.24 174.2 580.43 174.7 579.97 175.2 580.26 175.7 580.57 176.2 579.98 176.7 580.7 177.2 580.19 177.7 580.32 178.2 580.57 178.7 580.17 179.2 580.43 179.7 578.64 180.2 580.7 180.7 580.35 181.2 579.94 181.7 580.52 182.2 580.32 182.7 580.7 183.2 580.7 183.7 580.12 184.2 579.99 184.7 580.45 185.2 579.78 185.7 580.06 186.2 580.1 186.7 580.52 187.2 580.02 187.7 580.7 188.2 580.7 188.7 580.7 189.2 580.42 189.7 580.19 190.2 580.7 190.7 579.39 191.2 580.25 191.3 580.7Z" fill="#984ea3"/>
<path d="M67.7 555.6H73V580.7H191.8" fill="none" stroke="#000" stroke-width="1.45"/>
<text x="61.8" y="559.29" font-size="10.3" text-anchor="end" fill="#111" stroke="#111">3.7</text>
<line x1="89.2" y1="454.9" x2="181" y2="454.9" stroke="#e41a1c" stroke-width="2.6" stroke-linecap="butt"/>
<text x="180.3" y="447.67" font-size="8.3" text-anchor="middle" fill="#111" stroke="#111">5kb</text>
<line x1="168.5" y1="450.4" x2="191.8" y2="450.4" stroke="#000" stroke-width="1.6" stroke-linecap="butt"/>
<line x1="95.2" y1="593.5" x2="137" y2="593.5" stroke="#0c0cf2" stroke-width="1.3" stroke-linecap="butt"/>
<path d="M97.5 591.5L98.9 593.5L97.5 595.5" fill="none" stroke="#0c0cf2" stroke-width="1.4"/>
<path d="M101.8 591.5L103.2 593.5L101.8 595.5" fill="none" stroke="#0c0cf2" stroke-width="1.4"/>
<path d="M106.1 591.5L107.5 593.5L106.1 595.5" fill="none" stroke="#0c0cf2" stroke-width="1.4"/>
<path d="M110.4 591.5L111.8 593.5L110.4 595.5" fill="none" stroke="#0c0cf2" stroke-width="1.4"/>
<path d="M114.7 591.5L116.1 593.5L114.7 595.5" fill="none" stroke="#0c0cf2" stroke-width="1.4"/>
<path d="M119 591.5L120.4 593.5L119 595.5" fill="none" stroke="#0c0cf2" stroke-width="1.4"/>
<path d="M123.3 591.5L124.7 593.5L123.3 595.5" fill="none" stroke="#0c0cf2" stroke-width="1.4"/>
<path d="M127.6 591.5L129 593.5L127.6 595.5" fill="none" stroke="#0c0cf2" stroke-width="1.4"/>
<path d="M131.9 591.5L133.3 593.5L131.9 595.5" fill="none" stroke="#0c0cf2" stroke-width="1.4"/>
<rect x="95.2" y="591.3" width="2.3" height="4.4" fill="#0c0cf2"/>
<rect x="136.2" y="590.2" width="4" height="7.3" fill="#0505b4"/>
<rect x="140" y="591.3" width="20.2" height="4.5" fill="#0505b4"/>
<text x="130.1" y="607.04" font-size="8.5" text-anchor="middle" fill="#222" stroke="#222">PPP1R3B</text>
<path d="M232.4 482.9 232.4 482.03 232.9 481.54 233.4 481.91 233.9 482.26 234.4 482.9 234.9 480.09 235.4 481.18 235.9 482.9 236.4 480.55 236.9 481.64 237.4 480.23 237.9 478.9 238.4 479.7 238.9 481.26 239.4 480.93 239.9 482.9 240.4 482.9 240.9 482.9 241.4 482.9 241.9 481.42 242.4 479.96 242.9 481.69 243.4 482.9 243.9 482.9 244.4 478.75 244.9 476.7 245.4 477.94 245.9 482.41 246.4 481.67 246.9 481.71 247.4 482.51 247.9 482.52 248.4 481.08 248.9 480.29 249.4 478.65 249.9 473.5 250.4 475.38 250.9 472.6 251.4 474.66 251.9 482.49 252.4 481.36 252.9 481.19 253.4 477.53 253.9 482.61 254.4 479.6 254.9 480.26 255.4 478.61 255.9 481.55 256.4 478.24 256.9 479.17 257.4 478.63 257.9 464.2 258.4 467.94 258.9 480.59 259.4 482.9 259.9 480.12 260.4 480.34 260.9 482.25 261.4 482.17 261.9 481.98 262.4 480.19 262.9 479.14 263.4 477.12 263.9 478.28 264.4 482.04 264.9 481.81 265.4 480.19 265.9 478.25 266.4 480.86 266.9 482.07 267.4 481.34 267.9 478.9 268.4 479.7 268.9 480.67 269.4 481.75 269.9 481.39 270.4 482.13 270.9 481.78 271.4 481.53 271.9 480.33 272.4 478.77 272.9 479.59 273.4 482.43 273.9 480.74 274.4 482.9 274.9 482.07 275.4 482.53 275.9 482.37 276.4 480.99 276.9 482.9 277.4 478.1 277.9 479.06 278.4 480.36 278.9 469.9 279.4 472.5 279.9 480 280.4 468.3 280.9 471.22 281.4 477.02 281.9 482.01 282.4 482.17 282.9 482.39 283.4 481.79 283.9 479.89 284.4 480.5 284.9 482.42 285.4 480.19 285.9 480.73 286.4 482.8 286.9 482.9 287.4 480.41 287.9 481.59 288.4 482.9 288.9 478.64 289.4 467.2 289.9 470.34 290.4 478.23 290.9 479.16 291.4 480.2 291.9 477.19 292.4 478.34 292.9 482.29 293.4 482.9 293.9 480.32 294.4 481.73 294.9 480.66 295.4 480.71 295.9 480.82 296.4 480.62 296.9 479.62 297.4 478.42 297.9 476.1 298.4 477.46 298.9 479.14 299.4 481.95 299.9 481.96 300.4 482.83 300.9 482.33 301.4 481.99 301.9 482.35 302.4 482.4 302.9 479.82 303.4 480.44 303.9 480.08 304.4 480.65 304.9 481.34 305.4 481.77 305.9 478.4 306.4 479.3 306.9 480.83 307.4 480.91 307.9 481.12 308.4 481.36 308.9 480.83 309.4 482.22 309.9 480.82 310.4 480.84 310.9 481.94 311.4 481.84 311.9 482.01 312.4 482.42 312.9 481.25 313.4 481 313.9 478.67 314.4 478.31 314.9 479.23 315.4 480.72 315.9 482.2 316.4 480.09 316.9 482.24 317.4 480.1 317.9 482.84 318.4 478.66 318.9 480.24 319.4 480.19 319.9 480.22 320.4 482.9 320.9 481.42 321.4 480.9 321.9 481.9 322.4 480.54 322.9 480.83 323.4 481.63 323.9 481.31 324.4 482.9 324.9 482.09 325.4 477.29 325.9 478.41 326.4 480.68 326.9 482.9 327.4 481.7 327.9 480.83 328.4 482.22 328.9 482.9 329.4 477 329.9 480.86 330.4 477.2 330.9 478.34 331.4 480.04 331.9 482.47 332.4 482.41 332.9 482.9 333.4 482.9 333.9 482.9 334.4 481.38 334.9 480.09 335.4 481.77 335.9 482.4 336.4 480.12 336.9 481.74 337.4 482.43 337.9 481.69 338.4 479.81 338.9 477.71 339.4 478.75 339.9 482.44 340.4 480.05 340.9 480.37 341.4 482.9 341.9 482.4 342.4 480.12 342.9 480.65 343.4 482.12 343.9 480.92 344.4 481.57 344.9 480.54 345.4 481.37 345.9 481.17 346.4 482.44 346.9 481.55 347.4 481.98 347.9 475.41 348.4 481.65 348.9 482.34 349.1 482.9Z" fill="#e41a1c"/>
<path d="M226.4 457.6H231.7V482.9H349.6" fill="none" stroke="#000" stroke-width="1.45"/>
<text x="219.1" y="461.29" font-size="10.3" text-anchor="end" fill="#111" stroke="#111">1.5</text>
<path d="M232.4 515.6 232.4 514.46 232.9 515.6 233.4 513.49 233.9 515.6 234.4 514.19 234.9 513.31 235.4 515.6 235.9 514.92 236.4 510.36 236.9 511.41 237.4 515.6 237.9 513.89 238.4 507.9 238.9 509.44 239.4 515.6 239.9 515.6 240.4 513.34 240.9 514.59 241.4 513.4 241.9 515.6 242.4 514.74 242.9 513.89 243.4 515.6 243.9 513.31 244.4 514.38 244.9 509.4 245.4 510.64 245.9 512.61 246.4 514.3 246.9 515.52 247.4 514.1 247.9 511.59 248.4 512.4 248.9 513.59 249.4 513.43 249.9 513.83 250.4 510.87 250.9 511.09 251.4 511.99 251.9 514.1 252.4 515.29 252.9 513.84 253.4 514.66 253.9 514.81 254.4 514.06 254.9 513.93 255.4 515.31 255.9 515.6 256.4 515.24 256.9 515.25 257.4 514.55 257.9 496.4 258.4 500.24 258.9 515.16 259.4 513.49 259.9 513.17 260.4 513.66 260.9 514.16 261.4 514.22 261.9 513.65 262.4 515.09 262.9 512.39 263.4 508.84 263.9 510.19 264.4 511.05 264.9 511.96 265.4 514.66 265.9 513.81 266.4 509.74 266.9 513.79 267.4 515.08 267.9 511.48 268.4 507.32 268.9 508.98 269.4 514.03 269.9 509.66 270.4 510.85 270.9 511.45 271.4 508.14 271.9 509.63 272.4 514.61 272.9 506.3 273.4 508.16 273.9 509.44 274.4 501.4 274.9 504.24 275.4 513.91 275.9 514.85 276.4 512.65 276.9 513.99 277.4 510.49 277.9 506.2 278.4 507.91 278.9 511.12 279.4 509.21 279.9 510.49 280.4 509.72 280.9 506.6 281.4 508.36 281.9 511 282.4 509.67 282.9 510.86 283.4 514.05 283.9 513.21 284.4 513.29 284.9 511.66 285.4 513.62 285.9 506.6 286.4 508.4 286.9 510.6 287.4 510.87 287.9 511.51 288.4 511.86 288.9 504.4 289.4 506.64 289.9 512.77 290.4 513.39 290.9 510.95 291.4 507.6 291.9 509.2 292.4 512.5 292.9 512.46 293.4 514.56 293.9 507.73 294.4 509.31 294.9 512.05 295.4 512.76 295.9 514.42 296.4 515.6 296.9 514.42 297.4 513.12 297.9 511.82 298.4 506.2 298.9 508.08 299.4 510.62 299.9 513.47 300.4 513.7 300.9 508.17 301.4 509.65 301.9 512.09 302.4 509.58 302.9 510.78 303.4 513.88 303.9 513.84 304.4 511.84 304.9 509.68 305.4 510.87 305.9 511.54 306.4 514.48 306.9 515.53 307.4 514.56 307.9 514.3 308.4 514.48 308.9 513.62 309.4 514.33 309.9 514.95 310.4 513.76 310.9 512.6 311.4 513.2 311.9 514.03 312.4 513.96 312.9 515.2 313.4 514.87 313.9 514.88 314.4 515.22 314.9 515.19 315.4 515.21 315.9 513.53 316.4 513.63 316.9 513.77 317.4 514.81 317.9 514.53 318.4 515.17 318.9 514.93 319.4 513.6 319.9 513.6 320.4 514 320.9 513.88 321.4 514.84 321.9 515.16 322.4 513.57 322.9 512.29 323.4 515.6 323.9 513.4 324.4 513.96 324.9 514.56 325.4 515.07 325.9 514.03 326.4 513.75 326.9 515.6 327.4 509.67 327.9 514.11 328.4 515.29 328.9 515.23 329.4 511.1 329.9 514.01 330.4 513.3 330.9 513.68 331.4 515.6 331.9 514.47 332.4 515.18 332.9 515.24 333.4 513.53 333.9 515.15 334.4 514.33 334.9 515.06 335.4 514.44 335.9 514.65 336.4 514.62 336.9 513.95 337.4 515.21 337.9 515.24 338.4 511.29 338.9 514.33 339.4 515.27 339.9 514.47 340.4 514.9 340.9 514.91 341.4 515.08 341.9 514.64 342.4 515.6 342.9 513.31 343.4 514.07 343.9 515.04 344.4 515.09 344.9 514.7 345.4 515.6 345.9 515.29 346.4 511.67 346.9 514.28 347.4 509.95 347.9 515.04 348.4 515.13 348.9 513.12 349.1 515.6Z" fill="#377eb8"/>
<path d="M226.4 490.6H231.7V515.6H349.6" fill="none" stroke="#000" stroke-width="1.45"/>
<text x="219.1" y="494.29" font-size="10.3" text-anchor="end" fill="#111" stroke="#111">2.5</text>
<path d="M232.4 548.2 232.4 544.09 232.9 546.42 233.4 548.2 233.9 548.2 234.4 547.51 234.9 546.09 235.4 547.22 235.9 542.51 236.4 543.64 236.9 545.46 237.4 546.01 237.9 547.23 238.4 547.06 238.9 543.87 239.4 541.4 239.9 542.76 240.4 545.85 240.9 547.54 241.4 547.18 241.9 547.79 242.4 547.61 242.9 545.92 243.4 544.1 243.9 544.92 244.4 547.7 244.9 542.2 245.4 543.4 245.9 546.83 246.4 546.96 246.9 547.91 247.4 546.07 247.9 543.78 248.4 544.16 248.9 539.7 249.4 541.4 249.9 545.44 250.4 542.2 250.9 543.4 251.4 546.9 251.9 546.44 252.4 546.93 252.9 547.12 253.4 547.62 253.9 546.46 254.4 544.09 254.9 548.2 255.4 546.76 255.9 546.68 256.4 546.21 256.9 543.18 257.4 544.19 257.9 523.2 258.4 528.2 258.9 548.2 259.4 547.94 259.9 547.63 260.4 545.93 260.9 547.39 261.4 548.2 261.9 547.41 262.4 546.78 262.9 546.51 263.4 548.2 263.9 548.2 264.4 546.34 264.9 547.25 265.4 547.19 265.9 543.61 266.4 544.53 266.9 546.73 267.4 546.43 267.9 543.14 268.4 544.15 268.9 547.21 269.4 546.53 269.9 547.67 270.4 547.75 270.9 548.2 271.4 546.03 271.9 547.44 272.4 545.31 272.9 542.2 273.4 543.4 273.9 545.06 274.4 537.3 274.9 539.48 275.4 547.24 275.9 547 276.4 545.63 276.9 546.73 277.4 547.95 277.9 546.54 278.4 543.85 278.9 544.72 279.4 546.42 279.9 542.2 280.4 543.4 280.9 544.99 281.4 544.88 281.9 542.3 282.4 543.48 282.9 547.33 283.4 548.2 283.9 546.81 284.4 546.25 284.9 547.83 285.4 547.41 285.9 547.83 286.4 546.52 286.9 544.2 287.4 545 287.9 546.41 288.4 545.01 288.9 543.09 289.4 540.5 289.9 542.04 290.4 546.7 290.9 547.5 291.4 546.44 291.9 547.66 292.4 546.6 292.9 545.2 293.4 543.09 293.9 544.11 294.4 546.33 294.9 548.2 295.4 547.58 295.9 548.2 296.4 547.66 296.9 546.72 297.4 547.72 297.9 547.91 298.4 546.99 298.9 546.95 299.4 547.17 299.9 548.2 300.4 547.48 300.9 546.77 301.4 544.86 301.9 546.07 302.4 547.6 302.9 547.47 303.4 548.2 303.9 547.24 304.4 547.64 304.9 546.85 305.4 544.94 305.9 542.7 306.4 543.8 306.9 543.47 307.4 547.95 307.9 548.2 308.4 546.99 308.9 547.01 309.4 547.72 309.9 546.15 310.4 546.99 310.9 546.55 311.4 547.85 311.9 546.2 312.4 546.48 312.9 546.45 313.4 543.08 313.9 544.1 314.4 542.72 314.9 543.81 315.4 547.92 315.9 547.09 316.4 547.51 316.9 548.2 317.4 547.25 317.9 546.41 318.4 547.78 318.9 546.49 319.4 548.2 319.9 546.54 320.4 547.41 320.9 547.4 321.4 545.78 321.9 546.2 322.4 544.59 322.9 545.31 323.4 542.64 323.9 543.75 324.4 547.32 324.9 548.2 325.4 547.73 325.9 547.36 326.4 546.81 326.9 547.67 327.4 547.85 327.9 544.31 328.4 547.42 328.9 547.58 329.4 547.31 329.9 547.15 330.4 547.64 330.9 544.26 331.4 547.34 331.9 546.1 332.4 543.28 332.9 544.27 333.4 547.33 333.9 547.21 334.4 547.91 334.9 547.74 335.4 545.79 335.9 546.28 336.4 546.33 336.9 547 337.4 548.2 337.9 547.36 338.4 543.4 338.9 547.28 339.4 546.61 339.9 547 340.4 546.02 340.9 547.15 341.4 547.24 341.9 548.2 342.4 547.79 342.9 547.41 343.4 547.64 343.9 548.2 344.4 547.1 344.9 546.51 345.4 548.2 345.9 546.94 346.4 548.2 346.9 546.74 347.4 546.7 347.9 547.84 348.4 543.5 348.9 546.81 349.1 548.2Z" fill="#4daf4a"/>
<path d="M226.4 523H231.7V548.2H349.6" fill="none" stroke="#000" stroke-width="1.45"/>
<text x="219.1" y="526.69" font-size="10.3" text-anchor="end" fill="#111" stroke="#111">2.1</text>
<path d="M232.4 580.7 232.4 579.03 232.9 578.93 233.4 579.35 233.9 578.42 234.4 578.87 234.9 579.99 235.4 578.44 235.9 578.89 236.4 577.95 236.9 579.45 237.4 580.15 237.9 579.85 238.4 579.59 238.9 575.7 239.4 576.7 239.9 580.04 240.4 580.3 240.9 579.7 241.4 579.8 241.9 580.7 242.4 580.07 242.9 578.42 243.4 580.18 243.9 580.06 244.4 579.32 244.9 576.24 245.4 577.13 245.9 580.4 246.4 580.35 246.9 579.65 247.4 578.56 247.9 577.67 248.4 576.58 248.9 573.9 249.4 575.26 249.9 578.23 250.4 579.04 250.9 579.71 251.4 579.52 251.9 578 252.4 580.44 252.9 579.25 253.4 576.26 253.9 576.27 254.4 577.16 254.9 579.8 255.4 580.34 255.9 580.46 256.4 580.7 256.9 580.7 257.4 579.21 257.9 555.2 258.4 560.3 258.9 576.78 259.4 580.09 259.9 579.84 260.4 579.84 260.9 579.59 261.4 579.97 261.9 580.31 262.4 580.02 262.9 580.16 263.4 574.07 263.9 575.4 264.4 579.71 264.9 576.74 265.4 577.38 265.9 574.54 266.4 575.77 266.9 577.45 267.4 578.1 267.9 577.7 268.4 578.3 268.9 578.5 269.4 575.81 269.9 576.79 270.4 580.33 270.9 579.74 271.4 578.23 271.9 577.71 272.4 573.61 272.9 571.3 273.4 573.18 273.9 574.81 274.4 561.8 274.9 565.58 275.4 577.11 275.9 575.99 276.4 578.77 276.9 579.49 277.4 579.12 277.9 570.7 278.4 572.7 278.9 575.68 279.4 574.13 279.9 571.67 280.4 568.6 280.9 571.02 281.4 576.8 281.9 577.32 282.4 579.91 282.9 579.91 283.4 579.8 283.9 579.67 284.4 576.99 284.9 577.73 285.4 580.38 285.9 578.91 286.4 578.32 286.9 574.7 287.4 575.9 287.9 577.76 288.4 577.44 288.9 575.01 289.4 565.6 289.9 568.62 290.4 577.77 290.9 575.66 291.4 572.7 291.9 574.3 292.4 576.38 292.9 576.88 293.4 577.26 293.9 574.7 294.4 574.67 294.9 575.88 295.4 574.51 295.9 575.75 296.4 580.7 296.9 578.85 297.4 579.92 297.9 577.53 298.4 574.7 298.9 575.9 299.4 578.98 299.9 577.29 300.4 577.97 300.9 578.3 301.4 578.33 301.9 575.7 302.4 576.7 302.9 579.01 303.4 575.95 303.9 579.09 304.4 580.38 304.9 578.77 305.4 577.15 305.9 577.61 306.4 574.7 306.9 575.45 307.4 572.51 307.9 574.15 308.4 578.58 308.9 572.93 309.4 574.48 309.9 580.4 310.4 580.21 310.9 579.21 311.4 579.18 311.9 578.7 312.4 579.1 312.9 580.58 313.4 575.79 313.9 580.7 314.4 580.03 314.9 580.46 315.4 580.7 315.9 580.44 316.4 579.58 316.9 576.61 317.4 580.7 317.9 575.92 318.4 580.25 318.9 579.31 319.4 580.2 319.9 580.29 320.4 580.06 320.9 580.7 321.4 580.41 321.9 578.86 322.4 578.56 322.9 579.41 323.4 580.7 323.9 580.42 324.4 579.17 324.9 579.8 325.4 580.32 325.9 579.12 326.4 580.33 326.9 580.01 327.4 580.35 327.9 580.43 328.4 579.27 328.9 579.77 329.4 579.96 329.9 579.78 330.4 579.77 330.9 578.84 331.4 579.2 331.9 580.31 332.4 579.82 332.9 579.74 333.4 579.92 333.9 579.75 334.4 579.85 334.9 580.7 335.4 580.7 335.9 579.89 336.4 579.58 336.9 580.7 337.4 579.05 337.9 580.42 338.4 580.7 338.9 580.34 339.4 579.75 339.9 579.06 340.4 580.42 340.9 579.92 341.4 580.7 341.9 580.22 342.4 580.06 342.9 579.81 343.4 579.89 343.9 576.24 344.4 579.63 344.9 580.7 345.4 579.45 345.9 579.6 346.4 576.93 346.9 579.33 347.4 579.46 347.9 580.7 348.4 579.81 348.9 579.91 349.1 580.7Z" fill="#984ea3"/>
<path d="M226.4 555.6H231.7V580.7H349.6" fill="none" stroke="#000" stroke-width="1.45"/>
<text x="219.1" y="559.29" font-size="10.3" text-anchor="end" fill="#111" stroke="#111">3.2</text>
<line x1="266.5" y1="458.4" x2="326.2" y2="458.4" stroke="#e41a1c" stroke-width="2.6" stroke-linecap="butt"/>
<line x1="231.8" y1="491.3" x2="327.6" y2="491.3" stroke="#377eb8" stroke-width="2.6" stroke-linecap="butt"/>
<line x1="269.2" y1="523.9" x2="290.2" y2="523.9" stroke="#4daf4a" stroke-width="2.6" stroke-linecap="butt"/>
<line x1="231.8" y1="556.9" x2="251" y2="556.9" stroke="#984ea3" stroke-width="2.6" stroke-linecap="butt"/>
<line x1="260.3" y1="556.9" x2="343.6" y2="556.9" stroke="#984ea3" stroke-width="2.6" stroke-linecap="butt"/>
<text x="339.6" y="447.67" font-size="8.3" text-anchor="middle" fill="#111" stroke="#111">20kb</text>
<line x1="332.8" y1="450.4" x2="346.4" y2="450.4" stroke="#000" stroke-width="1.6" stroke-linecap="butt"/>
<line x1="256.9" y1="593.6" x2="338.1" y2="593.6" stroke="#0c0cf2" stroke-width="1.4" stroke-linecap="butt"/>
<path d="M258.5 591.8L259.8 593.6L258.5 595.4" fill="none" stroke="#0c0cf2" stroke-width="1.4"/>
<path d="M261.6 591.8L262.9 593.6L261.6 595.4" fill="none" stroke="#0c0cf2" stroke-width="1.4"/>
<path d="M264.7 591.8L266 593.6L264.7 595.4" fill="none" stroke="#0c0cf2" stroke-width="1.4"/>
<path d="M267.8 591.8L269.1 593.6L267.8 595.4" fill="none" stroke="#0c0cf2" stroke-width="1.4"/>
<path d="M270.9 591.8L272.2 593.6L270.9 595.4" fill="none" stroke="#0c0cf2" stroke-width="1.4"/>
<path d="M274 591.8L275.3 593.6L274 595.4" fill="none" stroke="#0c0cf2" stroke-width="1.4"/>
<path d="M277.1 591.8L278.4 593.6L277.1 595.4" fill="none" stroke="#0c0cf2" stroke-width="1.4"/>
<path d="M280.2 591.8L281.5 593.6L280.2 595.4" fill="none" stroke="#0c0cf2" stroke-width="1.4"/>
<path d="M283.3 591.8L284.6 593.6L283.3 595.4" fill="none" stroke="#0c0cf2" stroke-width="1.4"/>
<path d="M286.4 591.8L287.7 593.6L286.4 595.4" fill="none" stroke="#0c0cf2" stroke-width="1.4"/>
<path d="M289.5 591.8L290.8 593.6L289.5 595.4" fill="none" stroke="#0c0cf2" stroke-width="1.4"/>
<path d="M292.6 591.8L293.9 593.6L292.6 595.4" fill="none" stroke="#0c0cf2" stroke-width="1.4"/>
<path d="M295.7 591.8L297 593.6L295.7 595.4" fill="none" stroke="#0c0cf2" stroke-width="1.4"/>
<path d="M298.8 591.8L300.1 593.6L298.8 595.4" fill="none" stroke="#0c0cf2" stroke-width="1.4"/>
<path d="M301.9 591.8L303.2 593.6L301.9 595.4" fill="none" stroke="#0c0cf2" stroke-width="1.4"/>
<path d="M305 591.8L306.3 593.6L305 595.4" fill="none" stroke="#0c0cf2" stroke-width="1.4"/>
<path d="M308.1 591.8L309.4 593.6L308.1 595.4" fill="none" stroke="#0c0cf2" stroke-width="1.4"/>
<path d="M311.2 591.8L312.5 593.6L311.2 595.4" fill="none" stroke="#0c0cf2" stroke-width="1.4"/>
<path d="M314.3 591.8L315.6 593.6L314.3 595.4" fill="none" stroke="#0c0cf2" stroke-width="1.4"/>
<path d="M317.4 591.8L318.7 593.6L317.4 595.4" fill="none" stroke="#0c0cf2" stroke-width="1.4"/>
<path d="M320.5 591.8L321.8 593.6L320.5 595.4" fill="none" stroke="#0c0cf2" stroke-width="1.4"/>
<path d="M323.6 591.8L324.9 593.6L323.6 595.4" fill="none" stroke="#0c0cf2" stroke-width="1.4"/>
<path d="M326.7 591.8L328 593.6L326.7 595.4" fill="none" stroke="#0c0cf2" stroke-width="1.4"/>
<path d="M329.8 591.8L331.1 593.6L329.8 595.4" fill="none" stroke="#0c0cf2" stroke-width="1.4"/>
<path d="M332.9 591.8L334.2 593.6L332.9 595.4" fill="none" stroke="#0c0cf2" stroke-width="1.4"/>
<path d="M336 591.8L337.3 593.6L336 595.4" fill="none" stroke="#0c0cf2" stroke-width="1.4"/>
<rect x="256.9" y="591.3" width="1.6" height="4.6" fill="#0c0cf2"/>
<rect x="298" y="590.8" width="0.9" height="5.6" fill="#8080ea"/>
<rect x="303" y="590.8" width="0.9" height="5.6" fill="#8080ea"/>
<rect x="306.5" y="590.8" width="0.9" height="5.6" fill="#8080ea"/>
<rect x="309.5" y="590.8" width="0.9" height="5.6" fill="#8080ea"/>
<rect x="313.8" y="590.6" width="1.1" height="6" fill="#0c0cf2"/>
<rect x="316" y="590.6" width="1.1" height="6" fill="#5a5ae0"/>
<rect x="318.2" y="590.6" width="1.1" height="6" fill="#0c0cf2"/>
<rect x="320.4" y="590.6" width="1.1" height="6" fill="#5a5ae0"/>
<rect x="322.6" y="590.6" width="1.1" height="6" fill="#0c0cf2"/>
<rect x="324.8" y="590.6" width="1.1" height="6" fill="#5a5ae0"/>
<rect x="327" y="590.6" width="1.1" height="6" fill="#0c0cf2"/>
<rect x="329.2" y="590.6" width="1.1" height="6" fill="#5a5ae0"/>
<rect x="331.4" y="590.6" width="1.1" height="6" fill="#0c0cf2"/>
<rect x="333.6" y="590.6" width="1.1" height="6" fill="#5a5ae0"/>
<rect x="335.8" y="590.6" width="1.1" height="6" fill="#0c0cf2"/>
<rect x="336.5" y="591" width="1.6" height="5.2" fill="#0c0cf2"/>
<text x="283.2" y="607.44" font-size="8.5" text-anchor="middle" fill="#222" stroke="#222">DLG5</text>
<path d="M393.6 482.9 393.6 481.04 394.1 482.9 394.6 479.98 395.1 482.9 395.6 481.58 396.1 482.47 396.6 481.8 397.1 481.23 397.6 480.97 398.1 482.45 398.6 481.96 399.1 482.9 399.6 481.73 400.1 457.9 400.6 462.9 401.1 481.62 401.6 482.42 402.1 482.12 402.6 481.1 403.1 481.13 403.6 480.6 404.1 477.02 404.6 478.2 405.1 482.9 405.6 482.67 406.1 477.06 406.6 479.81 407.1 480.42 407.6 482.35 408.1 481.29 408.6 477.83 409.1 475.78 409.6 481.72 410.1 481.99 410.6 481.01 411.1 474.4 411.6 476.1 412.1 481.06 412.6 481.61 413.1 477.6 413.6 478.66 414.1 481.06 414.6 481.55 415.1 480.66 415.6 470.9 416.1 473.3 416.6 480.96 417.1 479.38 417.6 480.09 418.1 478.81 418.6 478.07 419.1 479.04 419.6 473.5 420.1 475.38 420.6 482.26 421.1 482.9 421.6 482.35 422.1 480.22 422.6 480.38 423.1 482.4 423.6 481.13 424.1 481.23 424.6 482.35 425.1 482.05 425.6 482.9 426.1 482.24 426.6 482.9 427.1 481.08 427.6 481.43 428.1 480.34 428.6 478.9 429.1 479.64 429.6 480.68 430.1 482.49 430.6 481.47 431.1 478.88 431.6 475.6 432.1 477.06 432.6 479.8 433.1 479.66 433.6 478.25 434.1 475.45 434.6 480.75 435.1 479.64 435.6 477.87 436.1 478.88 436.6 480.37 437.1 479.9 437.6 480.5 438.1 480.42 438.6 482.33 439.1 480.94 439.6 478.92 440.1 479.71 440.6 479.37 441.1 481.26 441.6 480.07 442.1 476.28 442.6 477.61 443.1 482.55 443.6 480.79 444.1 481.69 444.6 482.1 445.1 478.9 445.6 476.69 446.1 477.93 446.6 482.17 447.1 482 447.6 482.9 448.1 481.61 448.6 481.05 449.1 482.9 449.6 476.48 450.1 478.98 450.6 482.9 451.1 482.9 451.6 481.13 452.1 482.9 452.6 478.02 453.1 481.61 453.6 481.36 454.1 481.9 454.6 480.68 455.1 479.51 455.6 477.4 456.1 478.5 456.6 481.04 457.1 481.7 457.6 481.92 458.1 475.24 458.6 482.9 459.1 477.54 459.6 482.1 460.1 480.84 460.6 481.7 461.1 482.9 461.6 481.79 462.1 481.93 462.6 480.38 463.1 480.22 463.6 482.9 464.1 482.4 464.6 481.94 465.1 480.83 465.6 481.61 466.1 480.2 466.6 480.97 467.1 480.66 467.6 481.46 468.1 482.9 468.6 481.74 469.1 482.14 469.6 478.42 470.1 475.6 470.6 477.06 471.1 482.49 471.6 480.32 472.1 480.27 472.6 476.84 473.1 477.21 473.6 478.35 474.1 479.84 474.6 480.72 475.1 481.33 475.6 479.94 476.1 476.72 476.6 473.9 477.1 475.7 477.6 482.06 478.1 481.65 478.6 477.05 479.1 471.7 479.6 473.94 480.1 479.82 480.6 481.19 481.1 479.96 481.6 478.32 482.1 479.24 482.6 479.47 483.1 477.4 483.6 478.5 484.1 480.92 484.6 480.22 485.1 480.76 485.6 476.33 486.1 477.64 486.6 480.31 487.1 480.1 487.6 478.22 488.1 479.16 488.6 476.2 489.1 477.54 489.6 481.08 490.1 477.06 490.6 478.23 491.1 481.11 491.6 482.15 492.1 481.95 492.6 481.6 493.1 478.77 493.6 482.06 494.1 479.64 494.6 480.36 495.1 475.61 495.6 479.31 496.1 482.45 496.6 482.9 497.1 480.08 497.6 482.9 498.1 477.62 498.6 481.81 499.1 482.02 499.6 479.66 500.1 480.22 500.6 477.02 501.1 478.51 501.6 477.81 502.1 478.83 502.6 482.9 503.1 481.56 503.6 477.24 504.1 476.79 504.6 478.01 505.1 482.02 505.6 481.87 506.1 482.31 506.6 480.42 507.1 480.74 507.6 477.33 508.1 478.45 508.6 481.38 509.1 478.05 509.6 479.02 510.1 482.9 510.6 482.4 510.8 482.9Z" fill="#e41a1c"/>
<path d="M387.6 457.6H392.9V482.9H511.3" fill="none" stroke="#000" stroke-width="1.45"/>
<text x="379.9" y="461.29" font-size="10.3" text-anchor="end" fill="#111" stroke="#111">1.1</text>
<path d="M393.6 515.6 393.6 514.13 394.1 514.67 394.6 514.59 395.1 513.22 395.6 510.67 396.1 511.65 396.6 510.43 397.1 507.75 397.6 509.32 398.1 513.95 398.6 514.8 399.1 515.17 399.6 510.65 400.1 490.1 400.6 495.2 401.1 510.79 401.6 514.5 402.1 515.1 402.6 513.95 403.1 515.51 403.6 514.55 404.1 512.03 404.6 512.74 405.1 513.28 405.6 515.6 406.1 513.65 406.6 513.37 407.1 512.6 407.6 511.93 408.1 512.66 408.6 513.91 409.1 507.89 409.6 509.43 410.1 513.11 410.6 495.6 411.1 499.6 411.6 503.97 412.1 506.29 412.6 508.97 413.1 510.3 413.6 511.72 414.1 515.48 414.6 514.13 415.1 512.9 415.6 494.6 416.1 498.8 416.6 502.81 417.1 505.37 417.6 514.78 418.1 513.83 418.6 514.25 419.1 513.43 419.6 514.04 420.1 491.4 420.6 496.24 421.1 514.23 421.6 514.38 422.1 514.03 422.6 513.98 423.1 515.26 423.6 513.43 424.1 513.99 424.6 512.75 425.1 501.61 425.6 504.41 426.1 511.83 426.6 508.41 427.1 509.85 427.6 505.59 428.1 507.59 428.6 515.24 429.1 513.22 429.6 507.1 430.1 508.8 430.6 515.23 431.1 510.25 431.6 505.22 432.1 507.3 432.6 515.25 433.1 513.36 433.6 509.31 434.1 494.6 434.6 498.8 435.1 511.83 435.6 508.62 436.1 504.93 436.6 507.06 437.1 513.4 437.6 503.5 438.1 505.92 438.6 515.55 439.1 513.93 439.6 509.79 440.1 509.65 440.6 510.84 441.1 512.6 441.6 512.62 442.1 514.92 442.6 514.19 443.1 514.88 443.6 514.4 444.1 513.74 444.6 514.06 445.1 510.98 445.6 512.68 446.1 513.05 446.6 511.21 447.1 512.09 447.6 514.38 448.1 510.09 448.6 511.19 449.1 513.07 449.6 513.43 450.1 515.39 450.6 512.92 451.1 508.78 451.6 510.14 452.1 515.17 452.6 514.9 453.1 515.26 453.6 515.6 454.1 513.96 454.6 514.43 455.1 514.05 455.6 512.6 456.1 513.2 456.6 508.68 457.1 513.11 457.6 508.87 458.1 510.22 458.6 513.11 459.1 509.19 459.6 510.47 460.1 511.92 460.6 514.4 461.1 515.6 461.6 514.92 462.1 512.92 462.6 514.95 463.1 514.99 463.6 514.52 464.1 515.6 464.6 514.9 465.1 514.47 465.6 514.92 466.1 515.06 466.6 513.88 467.1 511.1 467.6 509.41 468.1 510.64 468.6 515.52 469.1 514.07 469.6 515.23 470.1 515.6 470.6 512.88 471.1 509.44 471.6 510.27 472.1 506.7 472.6 508.48 473.1 515.6 473.6 514.54 474.1 513.22 474.6 512.05 475.1 509.99 475.6 511.11 476.1 513.7 476.6 512.48 477.1 515.6 477.6 514.41 478.1 514.36 478.6 507.9 479.1 494.2 479.6 498.48 480.1 509.6 480.6 510.8 481.1 513.64 481.6 514.16 482.1 514.48 482.6 515.6 483.1 515.6 483.6 513.61 484.1 515.6 484.6 515.17 485.1 514.47 485.6 514.95 486.1 513.18 486.6 508.1 487.1 509.6 487.6 514.99 488.1 514.54 488.6 513.14 489.1 509.19 489.6 510.39 490.1 511.43 490.6 514.83 491.1 509.82 491.6 514.99 492.1 514.67 492.6 513.05 493.1 513.56 493.6 510.27 494.1 511.34 494.6 513.41 495.1 515.15 495.6 515.15 496.1 514.15 496.6 513.61 497.1 514.19 497.6 512.65 498.1 513.24 498.6 514.68 499.1 514.92 499.6 513.28 500.1 513.2 500.6 513.56 501.1 508.12 501.6 509.61 502.1 514.5 502.6 514.29 503.1 511.02 503.6 513.65 504.1 515.6 504.6 514.49 505.1 507.85 505.6 509.4 506.1 514.27 506.6 514.35 507.1 514.55 507.6 510.66 508.1 508.52 508.6 509.94 509.1 514.98 509.6 513.84 510.1 515.6 510.6 515.12 510.8 515.6Z" fill="#377eb8"/>
<path d="M387.6 490.6H392.9V515.6H511.3" fill="none" stroke="#000" stroke-width="1.45"/>
<text x="379.9" y="494.29" font-size="10.3" text-anchor="end" fill="#111" stroke="#111">1.0</text>
<path d="M393.6 548.2 393.6 548.2 394.1 548.2 394.6 546.69 395.1 547.82 395.6 548.2 396.1 547.4 396.6 547.59 397.1 545.02 397.6 547.18 398.1 547.59 398.6 548.2 399.1 547.11 399.6 540.52 400.1 530.7 400.6 534.2 401.1 538.2 401.6 540.2 402.1 547.43 402.6 546.77 403.1 544.27 403.6 543.24 404.1 540.77 404.6 542.26 405.1 547.49 405.6 546.52 406.1 548.2 406.6 546.7 407.1 545.48 407.6 537.97 408.1 540.02 408.6 546.58 409.1 547.5 409.6 544.65 410.1 547.36 410.6 538.2 411.1 540.2 411.6 545.26 412.1 536.2 412.6 538.6 413.1 543.91 413.6 537.43 414.1 539.58 414.6 547.01 415.1 545.28 415.6 529 416.1 532.84 416.6 546.66 417.1 536.2 417.6 538.6 418.1 546.04 418.6 547.47 419.1 545.49 419.6 523.7 420.1 528.6 420.6 535.2 421.1 537.8 421.6 547.87 422.1 547.88 422.6 546.5 423.1 544.2 423.6 545 424.1 547.05 424.6 547.59 425.1 547.36 425.6 547.72 426.1 547.6 426.6 547.33 427.1 546.61 427.6 546 428.1 548.2 428.6 547.36 429.1 547.02 429.6 542.7 430.1 543.8 430.6 545.7 431.1 539.18 431.6 540.99 432.1 543.67 432.6 543.99 433.1 541.2 433.6 542.6 434.1 545.84 434.6 544.24 435.1 541.2 435.6 542.6 436.1 547.69 436.6 546.66 437.1 542.72 437.6 538.8 438.1 540.68 438.6 547.73 439.1 547.26 439.6 547.34 440.1 547.05 440.6 546.95 441.1 547.98 441.6 547.91 442.1 547.17 442.6 547.95 443.1 546.76 443.6 547.4 444.1 547.61 444.6 547.32 445.1 547.86 445.6 547.65 446.1 545.7 446.6 546.2 447.1 547.96 447.6 546.9 448.1 548.2 448.6 548.2 449.1 547.54 449.6 547.67 450.1 547.37 450.6 547.42 451.1 545.73 451.6 545.87 452.1 548.2 452.6 547.07 453.1 548.2 453.6 547.36 454.1 548.2 454.6 547.89 455.1 548.2 455.6 547.28 456.1 547.98 456.6 548.2 457.1 546.62 457.6 546.93 458.1 545.06 458.6 546.82 459.1 546.2 459.6 543.7 460.1 544.6 460.6 545.73 461.1 547.23 461.6 547.17 462.1 547 462.6 547.98 463.1 547.79 463.6 547.79 464.1 548.2 464.6 547.09 465.1 546.76 465.6 546.68 466.1 547.32 466.6 547.73 467.1 539.2 467.6 541 468.1 547.81 468.6 548.2 469.1 548.2 469.6 547.01 470.1 547.81 470.6 547.03 471.1 547.93 471.6 547.07 472.1 536.2 472.6 538.6 473.1 539.74 473.6 541.43 474.1 547.17 474.6 548.2 475.1 547.15 475.6 547.98 476.1 547.75 476.6 546.99 477.1 546.55 477.6 544.6 478.1 546.9 478.6 543.02 479.1 530.7 479.6 534.2 480.1 546.53 480.6 546.43 481.1 543.89 481.6 544.75 482.1 547.6 482.6 547.84 483.1 547.43 483.6 545.2 484.1 545.8 484.6 547.98 485.1 547.9 485.6 548.2 486.1 546.93 486.6 547.61 487.1 544.2 487.6 544.71 488.1 540.74 488.6 542.23 489.1 547.8 489.6 547.77 490.1 547.73 490.6 548.2 491.1 548.2 491.6 547.54 492.1 548.2 492.6 548.2 493.1 547.71 493.6 547.79 494.1 547.71 494.6 547.46 495.1 547 495.6 547.53 496.1 548.2 496.6 547.89 497.1 547.25 497.6 548.2 498.1 548.2 498.6 547.55 499.1 547.91 499.6 544.32 500.1 547.7 500.6 548.2 501.1 547.45 501.6 548.2 502.1 547.57 502.6 547.04 503.1 547.17 503.6 548.2 504.1 547.05 504.6 548.2 505.1 546.91 505.6 545.71 506.1 548.2 506.6 548.2 507.1 546.22 507.6 548.2 508.1 546.14 508.6 548.2 509.1 546.64 509.6 546.57 510.1 547.61 510.6 547.83 510.8 548.2Z" fill="#4daf4a"/>
<path d="M387.6 523H392.9V548.2H511.3" fill="none" stroke="#000" stroke-width="1.45"/>
<text x="379.9" y="526.69" font-size="10.3" text-anchor="end" fill="#111" stroke="#111">2.4</text>
<path d="M393.6 580.7 393.6 580.02 394.1 580.33 394.6 576.49 395.1 580.7 395.6 578.96 396.1 580.05 396.6 580.7 397.1 579.59 397.6 576.73 398.1 572.38 398.6 574.05 399.1 578.68 399.6 578 400.1 555.7 400.6 560.7 401.1 580.34 401.6 579.31 402.1 580.13 402.6 580.7 403.1 577.37 403.6 579.94 404.1 580.28 404.6 579.05 405.1 577.21 405.6 579.79 406.1 574.7 406.6 575.9 407.1 576.78 407.6 580.33 408.1 578.62 408.6 575.6 409.1 576.62 409.6 580.33 410.1 578.32 410.6 563.7 411.1 567.1 411.6 569.96 412.1 572.11 412.6 580.09 413.1 578.94 413.6 575.79 414.1 579.76 414.6 577.39 415.1 570.29 415.6 557.9 416.1 562.46 416.6 579.22 417.1 564.7 417.6 567.9 418.1 579.13 418.6 578.3 419.1 574.08 419.6 563.7 420.1 567.1 420.6 580.03 421.1 579.7 421.6 580.17 422.1 578.99 422.6 579.47 423.1 573.7 423.6 575.1 424.1 578.64 424.6 569.93 425.1 572.08 425.6 579.72 426.1 578.9 426.6 576.25 427.1 571.85 427.6 572.21 428.1 573.47 428.6 568.7 429.1 571.1 429.6 570.7 430.1 572.7 430.6 578.99 431.1 580.7 431.6 579.79 432.1 580.3 432.6 580.07 433.1 580.39 433.6 575.28 434.1 565.4 434.6 568.46 435.1 576.77 435.6 577.56 436.1 570.66 436.6 572.67 437.1 573.63 437.6 561.8 438.1 565.58 438.6 570.18 439.1 572.29 439.6 580.36 440.1 579.38 440.6 577.96 441.1 577.4 441.6 578.06 442.1 579.89 442.6 580.7 443.1 580.27 443.6 578.65 444.1 580.7 444.6 580.03 445.1 578.72 445.6 579.91 446.1 577.38 446.6 578.3 447.1 579.91 447.6 576.99 448.1 579.77 448.6 579.79 449.1 578.8 449.6 579.27 450.1 579.17 450.6 578.85 451.1 579.04 451.6 580.7 452.1 580.7 452.6 580.05 453.1 578.77 453.6 580.7 454.1 579.55 454.6 579.3 455.1 575.56 455.6 577.5 456.1 577.8 456.6 573 457.1 574.54 457.6 579.01 458.1 576.07 458.6 577 459.1 575.77 459.6 579.14 460.1 580.4 460.6 577.48 461.1 580.7 461.6 580.13 462.1 578.71 462.6 579.11 463.1 580.13 463.6 580.23 464.1 580.21 464.6 578.68 465.1 577.73 465.6 578.32 466.1 576.59 466.6 580.7 467.1 580.04 467.6 579.21 468.1 579.95 468.6 578.98 469.1 580.35 469.6 576.03 470.1 576.96 470.6 578.3 471.1 576.26 471.6 580.7 472.1 580.7 472.6 580.7 473.1 580.29 473.6 580.21 474.1 580.7 474.6 577.09 475.1 577.15 475.6 580 476.1 580.31 476.6 580.7 477.1 580.35 477.6 578.64 478.1 574.72 478.6 571.6 479.1 568.2 479.6 570.7 480.1 577.08 480.6 578.74 481.1 572.7 481.6 574.3 482.1 579.32 482.6 578.95 483.1 579.11 483.6 580.44 484.1 578.79 484.6 575.64 485.1 576.7 485.6 578.64 486.1 577.13 486.6 578.97 487.1 579.93 487.6 580.7 488.1 579.84 488.6 577.49 489.1 577.7 489.6 578.3 490.1 578.97 490.6 579.32 491.1 580.18 491.6 580.7 492.1 578.74 492.6 579.14 493.1 579.58 493.6 578.65 494.1 579.98 494.6 579.65 495.1 578.85 495.6 580.13 496.1 579.06 496.6 580.2 497.1 579.59 497.6 580.7 498.1 580.23 498.6 578.89 499.1 576.62 499.6 577.44 500.1 579.83 500.6 580.2 501.1 580.7 501.6 579.93 502.1 575.28 502.6 579.32 503.1 580.7 503.6 578.62 504.1 575.25 504.6 577.5 505.1 576.55 505.6 577.38 506.1 579.87 506.6 579.19 507.1 580.37 507.6 576.28 508.1 578.9 508.6 579.52 509.1 575.87 509.6 576.83 510.1 578.68 510.6 580.7 510.8 580.7Z" fill="#984ea3"/>
<path d="M387.6 555.6H392.9V580.7H511.3" fill="none" stroke="#000" stroke-width="1.45"/>
<text x="379.9" y="559.29" font-size="10.3" text-anchor="end" fill="#111" stroke="#111">1.3</text>
<line x1="407.1" y1="487.9" x2="421" y2="487.9" stroke="#377eb8" stroke-width="2.6" stroke-linecap="butt"/>
<line x1="399.1" y1="521.2" x2="438" y2="521.2" stroke="#4daf4a" stroke-width="2.6" stroke-linecap="butt"/>
<line x1="467.2" y1="521.2" x2="487.6" y2="521.2" stroke="#4daf4a" stroke-width="2.6" stroke-linecap="butt"/>
<line x1="410.7" y1="553.3" x2="446.9" y2="553.3" stroke="#984ea3" stroke-width="2.6" stroke-linecap="butt"/>
<text x="501.4" y="447.67" font-size="8.3" text-anchor="middle" fill="#111" stroke="#111">50kb</text>
<line x1="492" y1="450.4" x2="511.8" y2="450.4" stroke="#000" stroke-width="1.6" stroke-linecap="butt"/>
<line x1="399.6" y1="593.8" x2="508.1" y2="593.8" stroke="#0c0cf2" stroke-width="1.4" stroke-linecap="butt"/>
<path d="M401.5 592L402.8 593.8L401.5 595.6" fill="none" stroke="#0c0cf2" stroke-width="1.4"/>
<path d="M404.8 592L406.1 593.8L404.8 595.6" fill="none" stroke="#0c0cf2" stroke-width="1.4"/>
<path d="M408.1 592L409.4 593.8L408.1 595.6" fill="none" stroke="#0c0cf2" stroke-width="1.4"/>
<path d="M411.4 592L412.7 593.8L411.4 595.6" fill="none" stroke="#0c0cf2" stroke-width="1.4"/>
<path d="M414.7 592L416 593.8L414.7 595.6" fill="none" stroke="#0c0cf2" stroke-width="1.4"/>
<path d="M418 592L419.3 593.8L418 595.6" fill="none" stroke="#0c0cf2" stroke-width="1.4"/>
<path d="M421.3 592L422.6 593.8L421.3 595.6" fill="none" stroke="#0c0cf2" stroke-width="1.4"/>
<path d="M424.6 592L425.9 593.8L424.6 595.6" fill="none" stroke="#0c0cf2" stroke-width="1.4"/>
<path d="M427.9 592L429.2 593.8L427.9 595.6" fill="none" stroke="#0c0cf2" stroke-width="1.4"/>
<path d="M431.2 592L432.5 593.8L431.2 595.6" fill="none" stroke="#0c0cf2" stroke-width="1.4"/>
<path d="M434.5 592L435.8 593.8L434.5 595.6" fill="none" stroke="#0c0cf2" stroke-width="1.4"/>
<path d="M437.8 592L439.1 593.8L437.8 595.6" fill="none" stroke="#0c0cf2" stroke-width="1.4"/>
<path d="M441.1 592L442.4 593.8L441.1 595.6" fill="none" stroke="#0c0cf2" stroke-width="1.4"/>
<path d="M444.4 592L445.7 593.8L444.4 595.6" fill="none" stroke="#0c0cf2" stroke-width="1.4"/>
<path d="M447.7 592L449 593.8L447.7 595.6" fill="none" stroke="#0c0cf2" stroke-width="1.4"/>
<path d="M451 592L452.3 593.8L451 595.6" fill="none" stroke="#0c0cf2" stroke-width="1.4"/>
<path d="M454.3 592L455.6 593.8L454.3 595.6" fill="none" stroke="#0c0cf2" stroke-width="1.4"/>
<path d="M457.6 592L458.9 593.8L457.6 595.6" fill="none" stroke="#0c0cf2" stroke-width="1.4"/>
<path d="M460.9 592L462.2 593.8L460.9 595.6" fill="none" stroke="#0c0cf2" stroke-width="1.4"/>
<path d="M464.2 592L465.5 593.8L464.2 595.6" fill="none" stroke="#0c0cf2" stroke-width="1.4"/>
<path d="M467.5 592L468.8 593.8L467.5 595.6" fill="none" stroke="#0c0cf2" stroke-width="1.4"/>
<path d="M470.8 592L472.1 593.8L470.8 595.6" fill="none" stroke="#0c0cf2" stroke-width="1.4"/>
<path d="M474.1 592L475.4 593.8L474.1 595.6" fill="none" stroke="#0c0cf2" stroke-width="1.4"/>
<path d="M477.4 592L478.7 593.8L477.4 595.6" fill="none" stroke="#0c0cf2" stroke-width="1.4"/>
<path d="M480.7 592L482 593.8L480.7 595.6" fill="none" stroke="#0c0cf2" stroke-width="1.4"/>
<path d="M484 592L485.3 593.8L484 595.6" fill="none" stroke="#0c0cf2" stroke-width="1.4"/>
<path d="M487.3 592L488.6 593.8L487.3 595.6" fill="none" stroke="#0c0cf2" stroke-width="1.4"/>
<path d="M490.6 592L491.9 593.8L490.6 595.6" fill="none" stroke="#0c0cf2" stroke-width="1.4"/>
<path d="M493.9 592L495.2 593.8L493.9 595.6" fill="none" stroke="#0c0cf2" stroke-width="1.4"/>
<path d="M497.2 592L498.5 593.8L497.2 595.6" fill="none" stroke="#0c0cf2" stroke-width="1.4"/>
<path d="M500.5 592L501.8 593.8L500.5 595.6" fill="none" stroke="#0c0cf2" stroke-width="1.4"/>
<path d="M503.8 592L505.1 593.8L503.8 595.6" fill="none" stroke="#0c0cf2" stroke-width="1.4"/>
<rect x="399.6" y="591" width="1.6" height="5.6" fill="#5a5ae0"/>
<rect x="488" y="590.8" width="1" height="6" fill="#0c0cf2"/>
<rect x="490.5" y="590.8" width="1" height="6" fill="#0c0cf2"/>
<rect x="492" y="590.8" width="1" height="6" fill="#0c0cf2"/>
<rect x="494.5" y="590.8" width="1" height="6" fill="#0c0cf2"/>
<rect x="497.5" y="590.8" width="1" height="6" fill="#0c0cf2"/>
<rect x="501" y="590.8" width="1" height="6" fill="#0c0cf2"/>
<rect x="506.6" y="591.2" width="1.5" height="5.2" fill="#0c0cf2"/>
<text x="451.3" y="607.54" font-size="8.5" text-anchor="middle" fill="#222" stroke="#222">PBX1</text>
<path d="M549.5 482.9 549.5 482.9 550 482.11 550.5 480.4 551 481.32 551.5 482.26 552 480 552.5 482.36 553 476.36 553.5 482.14 554 482.9 554.5 479.39 555 479.93 555.5 480.03 556 479.26 556.5 482.14 557 482.9 557.5 480.2 558 479.41 558.5 479.63 559 481.74 559.5 482.22 560 479.53 560.5 480.43 561 482.9 561.5 482.31 562 482.13 562.5 480.16 563 479.6 563.5 482.9 564 482.9 564.5 475.81 565 481.84 565.5 475.04 566 482.9 566.5 474.41 567 481 567.5 481.12 568 480.97 568.5 481.48 569 480.01 569.5 482.9 570 479.12 570.5 481.63 571 480.94 571.5 482.9 572 482.9 572.5 482.1 573 480.27 573.5 480.03 574 480.74 574.5 481.14 575 481.98 575.5 481.94 576 481.05 576.5 476.44 577 482.18 577.5 482.35 578 479.65 578.5 479.8 579 482.11 579.5 482.9 580 481.93 580.5 479.9 581 479.29 581.5 480.51 582 482.35 582.5 481.31 583 481.66 583.5 474.99 584 479.22 584.5 479.75 585 480.08 585.5 479.68 586 481.58 586.5 480.02 587 481.36 587.5 479.73 588 479.47 588.5 482.9 589 481.95 589.5 482.41 590 482.9 590.5 482.9 591 480.32 591.5 482.37 592 479.22 592.5 480.24 593 481.83 593.5 481.85 594 479.15 594.5 479.1 595 480.64 595.5 474.94 596 481.92 596.5 482.9 597 482.04 597.5 477.74 598 482.9 598.5 479.39 599 481.21 599.5 481.15 600 480.29 600.5 482.9 601 480.08 601.5 479.87 602 479.62 602.5 481.17 603 481.75 603.5 482.9 604 482.01 604.5 482.9 605 481.99 605.5 482.9 606 480.78 606.5 479.17 607 482.9 607.5 480.5 608 480.38 608.5 479.93 609 479.6 609.5 479.42 610 481.51 610.5 480.45 611 481.7 611.5 482.22 612 482.9 612.5 482.9 613 482.42 613.5 477.26 614 480.8 614.5 482.9 615 482.33 615.5 481.53 616 482.14 616.5 479.56 617 479.53 617.5 482.9 618 481.59 618.5 482.9 619 482.9 619.5 482.42 620 482.23 620.5 475.27 621 475.42 621.5 481.03 622 480.4 622.5 482.9 623 479.6 623.5 480.66 624 481.49 624.5 481.11 625 479.92 625.5 481.53 626 482.03 626.5 480.23 627 482.21 627.5 482.9 628 478.81 628.5 481.65 629 482.3 629.5 482.9 630 480.64 630.5 482.08 631 482.9 631.5 477.81 632 479.71 632.5 482.9 633 480.16 633.5 479.51 634 481.38 634.5 474.22 635 482.9 635.5 481.23 636 479.98 636.5 480.08 637 481.53 637.5 482.07 638 480.42 638.5 475.92 639 480.3 639.5 481.87 640 480.63 640.5 480.31 641 480.39 641.5 482.06 642 479.63 642.5 482.41 643 476.64 643.5 482.9 644 482.9 644.5 481.46 645 482.9 645.5 482.28 646 482.38 646.5 482.9 647 474.2 647.5 479.13 648 480.29 648.5 481.95 649 482.38 649.5 480.28 650 482.12 650.5 481.83 651 477.52 651.5 481.07 652 481.8 652.5 482.9 653 474.23 653.5 482.9 654 480.33 654.5 481 655 476.71 655.5 481.54 656 474.17 656.5 481 657 482.9 657.5 482.19 658 475.93 658.5 482.32 659 479.83 659.5 475.84 660 481.56 660.5 482.9 661 481.55 661.5 482.34 662 481.55 662.5 480.94 663 480.69 663.5 480.72 664 479.61 664.5 481.39 665 480.93 665.5 482.9 666 479.76 666.5 481.86 667 476.23 667.1 482.9Z" fill="#e41a1c"/>
<path d="M543.5 457.6H548.8V482.9H667.6" fill="none" stroke="#000" stroke-width="1.45"/>
<text x="535.6" y="461.29" font-size="10.3" text-anchor="end" fill="#111" stroke="#111">1.7</text>
<path d="M549.5 515.6 549.5 510.71 550 515.6 550.5 513.11 551 514.32 551.5 515.6 552 515.16 552.5 514.4 553 513.93 553.5 515.6 554 515.05 554.5 514.23 555 515.34 555.5 515.28 556 514.8 556.5 514.01 557 514.97 557.5 514.7 558 514.21 558.5 514.3 559 515.13 559.5 514.65 560 515.06 560.5 515.6 561 515.21 561.5 514.44 562 513.98 562.5 514.95 563 515.6 563.5 515.6 564 514.41 564.5 512.42 565 515.05 565.5 513.89 566 514.91 566.5 514.77 567 514.68 567.5 514.3 568 514.85 568.5 514.58 569 514.6 569.5 513.53 570 514.08 570.5 513.68 571 514.06 571.5 513.47 572 513.71 572.5 513.26 573 513.17 573.5 513.15 574 513.36 574.5 513.35 575 513.17 575.5 513.37 576 510.67 576.5 510.09 577 512.22 577.5 507.93 578 507.99 578.5 507.01 579 512.24 579.5 505.11 580 504.4 580.5 506.64 581 507.01 581.5 511.71 582 506.98 582.5 509.61 583 513.12 583.5 509.3 584 513.27 584.5 509.98 585 511.24 585.5 510.59 586 512.77 586.5 512.41 587 510.93 587.5 511.11 588 511.49 588.5 511.32 589 509.47 589.5 512.35 590 512.96 590.5 508.46 591 512.81 591.5 507.49 592 508.04 592.5 508.38 593 506.84 593.5 507.21 594 509.81 594.5 509.8 595 507.31 595.5 508.32 596 505.18 596.5 507.46 597 511.69 597.5 504.1 598 506.4 598.5 511.81 599 510.3 599.5 508.83 600 511.49 600.5 508.8 601 509.24 601.5 509.71 602 508.21 602.5 507.42 603 510.83 603.5 507.83 604 506.11 604.5 509.16 605 504.7 605.5 506.88 606 508.18 606.5 510.35 607 508.8 607.5 509.62 608 509.36 608.5 509.17 609 508.48 609.5 512.06 610 509.49 610.5 508.3 611 511.46 611.5 508.38 612 508.65 612.5 511.07 613 508.87 613.5 510.51 614 507.54 614.5 508.55 615 508.82 615.5 507.08 616 507.2 616.5 508.5 617 509.03 617.5 511 618 508.35 618.5 509.24 619 509.53 619.5 508.24 620 509.31 620.5 509.19 621 509.6 621.5 512.2 622 508.63 622.5 511.9 623 509.3 623.5 511.05 624 512.49 624.5 512.6 625 513.68 625.5 513.19 626 511.87 626.5 513.36 627 513.74 627.5 512.49 628 513.92 628.5 512.74 629 511.07 629.5 511.4 630 510.95 630.5 512.81 631 509.81 631.5 510.04 632 510.49 632.5 508.54 633 509.3 633.5 508.94 634 509.8 634.5 508.92 635 510.06 635.5 511.88 636 507.4 636.5 510.21 637 507 637.5 508.72 638 512.6 638.5 512 639 512.96 639.5 510.87 640 511.53 640.5 513.22 641 512.92 641.5 513.83 642 513.48 642.5 514.09 643 514.26 643.5 514.37 644 515.6 644.5 514.8 645 515.6 645.5 515.6 646 514.1 646.5 515.35 647 513.89 647.5 514.59 648 515.32 648.5 513.8 649 515.6 649.5 515.6 650 515.6 650.5 514.07 651 514.63 651.5 513.87 652 515.09 652.5 515.31 653 515.09 653.5 513.14 654 514.96 654.5 513.83 655 515.29 655.5 514.72 656 515.28 656.5 515.34 657 515.17 657.5 515.6 658 514.63 658.5 515.6 659 515.15 659.5 514.05 660 514.39 660.5 514.3 661 511.65 661.5 513.9 662 513.8 662.5 514.21 663 514.17 663.5 511.01 664 515.6 664.5 512.81 665 514.7 665.5 514.39 666 514.56 666.5 515 667 514.57 667.1 515.6Z" fill="#377eb8"/>
<path d="M543.5 490.6H548.8V515.6H667.6" fill="none" stroke="#000" stroke-width="1.45"/>
<text x="535.6" y="494.29" font-size="10.3" text-anchor="end" fill="#111" stroke="#111">1.7</text>
<path d="M549.5 548.2 549.5 547.27 550 547.35 550.5 547.13 551 548.2 551.5 547.57 552 547.77 552.5 546.99 553 547.98 553.5 547.62 554 548.2 554.5 547.41 555 548.2 555.5 547.85 556 547.95 556.5 546.86 557 544.9 557.5 546.82 558 546.97 558.5 545.43 559 545.82 559.5 547.6 560 546.91 560.5 548.2 561 544.96 561.5 547.29 562 547.14 562.5 546.9 563 546.93 563.5 547.41 564 548.2 564.5 546.66 565 547.44 565.5 546.85 566 547.38 566.5 548.2 567 547.92 567.5 544.69 568 545.69 568.5 547.94 569 547.97 569.5 547.2 570 547.99 570.5 547.81 571 547.57 571.5 546.98 572 547.23 572.5 548.2 573 547.34 573.5 548.2 574 547.16 574.5 547.11 575 548.2 575.5 547.29 576 547.24 576.5 548.2 577 547.51 577.5 547.42 578 546.69 578.5 547.27 579 547.11 579.5 546.23 580 547.66 580.5 547.14 581 548.2 581.5 546.64 582 547.75 582.5 546.75 583 548.2 583.5 547.03 584 547.57 584.5 547.86 585 547.39 585.5 547.9 586 547.82 586.5 546.73 587 548.2 587.5 547.3 588 548.2 588.5 548.2 589 548.2 589.5 547.43 590 547.2 590.5 547 591 546.74 591.5 548.2 592 547.29 592.5 547.64 593 547.46 593.5 546.7 594 546.64 594.5 548.2 595 547.84 595.5 548.2 596 548.2 596.5 547.9 597 545.83 597.5 547.96 598 547.26 598.5 547.36 599 547.41 599.5 548.2 600 548.2 600.5 547.21 601 546.39 601.5 547.46 602 546.04 602.5 543.2 603 544.2 603.5 545.07 604 544.36 604.5 540.5 605 542.04 605.5 547.93 606 547.22 606.5 545.16 607 543.2 607.5 544.2 608 546.9 608.5 545.12 609 547.97 609.5 547.9 610 547.28 610.5 546.69 611 546.94 611.5 545.36 612 547.25 612.5 548.2 613 548.2 613.5 548.2 614 548.2 614.5 546.65 615 546.89 615.5 547.85 616 547.65 616.5 547.71 617 547.8 617.5 547.46 618 547.83 618.5 547.07 619 546.37 619.5 547.68 620 544.15 620.5 547.58 621 547.63 621.5 546.83 622 547.26 622.5 544.56 623 547.25 623.5 548.2 624 547.26 624.5 547.95 625 546.98 625.5 547.46 626 547.57 626.5 548.2 627 546.64 627.5 547.62 628 546.86 628.5 547.53 629 546.74 629.5 548.2 630 547.79 630.5 547.68 631 546.76 631.5 547.35 632 547.83 632.5 546.62 633 547.48 633.5 547.41 634 547.58 634.5 547.99 635 547.29 635.5 547.02 636 547.17 636.5 547.39 637 548.2 637.5 547.82 638 548.2 638.5 548.2 639 547.92 639.5 548.2 640 548.2 640.5 547.88 641 546.69 641.5 547.82 642 547.32 642.5 546.87 643 548.2 643.5 547.09 644 546.78 644.5 547.73 645 547.56 645.5 546.84 646 547.24 646.5 547.72 647 544.66 647.5 547.43 648 547.83 648.5 546.78 649 546.85 649.5 546.74 650 547.8 650.5 548.2 651 548.2 651.5 547.53 652 547.4 652.5 547.17 653 546.92 653.5 547.01 654 546.74 654.5 547.84 655 548.2 655.5 547.13 656 548 656.5 547.75 657 547.46 657.5 547.27 658 546.86 658.5 547.96 659 547.02 659.5 547.39 660 546.02 660.5 546.92 661 547.3 661.5 547.22 662 548.2 662.5 547.99 663 548.2 663.5 547.52 664 548.2 664.5 546.66 665 547.89 665.5 547.57 666 548.2 666.5 547.53 667 548.2 667.1 548.2Z" fill="#4daf4a"/>
<path d="M543.5 523H548.8V548.2H667.6" fill="none" stroke="#000" stroke-width="1.45"/>
<text x="535.6" y="526.69" font-size="10.3" text-anchor="end" fill="#111" stroke="#111">1.7</text>
<path d="M549.5 580.7 549.5 579.96 550 579.84 550.5 580.32 551 578.35 551.5 579.89 552 580.7 552.5 580.32 553 580.7 553.5 579.39 554 580.3 554.5 577.37 555 580.35 555.5 579.55 556 580.7 556.5 580.01 557 579.66 557.5 580.7 558 579.52 558.5 579.65 559 580.16 559.5 579.33 560 580.21 560.5 580.08 561 580.43 561.5 580.7 562 580.43 562.5 580.41 563 579.68 563.5 579.71 564 579.83 564.5 579.21 565 579.73 565.5 579.75 566 579.44 566.5 579.2 567 579.11 567.5 579.16 568 579.04 568.5 578.68 569 578.9 569.5 578.85 570 578.81 570.5 578.08 571 579.36 571.5 578.29 572 577.88 572.5 578.11 573 577.83 573.5 577.1 574 577.65 574.5 578.32 575 577.76 575.5 576.65 576 572.42 576.5 573.27 577 572.54 577.5 572.12 578 574.59 578.5 575.8 579 570.98 579.5 570.12 580 571.76 580.5 561.1 581 562.36 581.5 566.51 582 570.63 582.5 576.19 583 579.33 583.5 579.21 584 578.77 584.5 577.92 585 579.22 585.5 578.79 586 575.15 586.5 573.54 587 573.26 587.5 570.3 588 573.18 588.5 567.75 589 572.63 589.5 568.58 590 567.89 590.5 567.6 591 568.55 591.5 570.8 592 573.75 592.5 563.7 593 565.5 593.5 568.19 594 557.9 594.5 562.46 595 570.01 595.5 565.25 596 566.89 596.5 562.76 597 557.9 597.5 562.46 598 569.03 598.5 564.05 599 570.51 599.5 563.16 600 566.85 600.5 572.01 601 567.53 601.5 570.38 602 570.03 602.5 569.28 603 566.84 603.5 571.29 604 570.73 604.5 563.42 605 564.91 605.5 567.54 606 566.36 606.5 559.3 607 563.58 607.5 563.57 608 567.3 608.5 569.63 609 569.16 609.5 565.82 610 570.88 610.5 568.72 611 569.23 611.5 570.57 612 569.93 612.5 572.56 613 568.17 613.5 566.86 614 566.98 614.5 570.01 615 569.8 615.5 570.83 616 564.13 616.5 562.51 617 562.64 617.5 556.5 618 561.34 618.5 564.24 619 565.67 619.5 570.89 620 571.34 620.5 570.73 621 567.47 621.5 572.54 622 571.22 622.5 570.28 623 566.52 623.5 570.04 624 570.12 624.5 569.74 625 570.64 625.5 568.61 626 574.31 626.5 570.81 627 576.74 627.5 574.15 628 572.73 628.5 575.32 629 576.61 629.5 576.05 630 575.31 630.5 574.36 631 573.65 631.5 575.86 632 575.89 632.5 573.51 633 573.45 633.5 575.05 634 572.86 634.5 574.75 635 573.23 635.5 570.74 636 571.85 636.5 568 637 566.8 637.5 569.58 638 578.5 638.5 574.76 639 575.48 639.5 576.37 640 576.56 640.5 577.42 641 577.41 641.5 578.12 642 578.08 642.5 577.89 643 577.81 643.5 577.74 644 578.31 644.5 579.46 645 578.28 645.5 579.15 646 578.33 646.5 578.89 647 578.09 647.5 578.53 648 579.85 648.5 578.97 649 579.64 649.5 579.53 650 579.68 650.5 580.7 651 580.03 651.5 580.7 652 579.78 652.5 580.47 653 580.18 653.5 579.67 654 580.27 654.5 580.7 655 580.51 655.5 579.65 656 580.3 656.5 580.7 657 580.7 657.5 579.94 658 580.7 658.5 580.7 659 579.82 659.5 579.53 660 580.18 660.5 579.94 661 580.18 661.5 580.25 662 580.35 662.5 580.2 663 578.18 663.5 580.7 664 580.7 664.5 579.83 665 580.48 665.5 580.7 666 580.7 666.5 580.7 667 580.46 667.1 580.7Z" fill="#984ea3"/>
<path d="M543.5 555.6H548.8V580.7H667.6" fill="none" stroke="#000" stroke-width="1.45"/>
<text x="535.6" y="559.29" font-size="10.3" text-anchor="end" fill="#111" stroke="#111">1.7</text>
<line x1="551.9" y1="553.3" x2="667" y2="553.3" stroke="#984ea3" stroke-width="2.6" stroke-linecap="butt"/>
<text x="659.5" y="447.67" font-size="8.3" text-anchor="middle" fill="#111" stroke="#111">2kb</text>
<line x1="654.4" y1="450.4" x2="665.3" y2="450.4" stroke="#000" stroke-width="1.6" stroke-linecap="butt"/>
<line x1="605" y1="594" x2="627.5" y2="594" stroke="#0c0cf2" stroke-width="1.4" stroke-linecap="butt"/>
<path d="M608.3 592.2L607 594L608.3 595.8" fill="none" stroke="#0c0cf2" stroke-width="1.4"/>
<path d="M611.5 592.2L610.2 594L611.5 595.8" fill="none" stroke="#0c0cf2" stroke-width="1.4"/>
<path d="M614.7 592.2L613.4 594L614.7 595.8" fill="none" stroke="#0c0cf2" stroke-width="1.4"/>
<path d="M617.9 592.2L616.6 594L617.9 595.8" fill="none" stroke="#0c0cf2" stroke-width="1.4"/>
<path d="M621.1 592.2L619.8 594L621.1 595.8" fill="none" stroke="#0c0cf2" stroke-width="1.4"/>
<path d="M624.3 592.2L623 594L624.3 595.8" fill="none" stroke="#0c0cf2" stroke-width="1.4"/>
<rect x="605" y="591.6" width="1.5" height="4.8" fill="#0c0cf2"/>
<rect x="624.5" y="591.6" width="3" height="4.8" fill="#0c0cf2"/>
<text x="615.3" y="607.54" font-size="8.5" text-anchor="middle" fill="#222" stroke="#222">TFF3</text>
<text x="0" y="3.72" font-size="10.4" text-anchor="middle" fill="#111" transform="translate(30.7 522.6) rotate(-90)" stroke="#111">CPM</text>
<text x="0.3" y="634.6" font-size="16.5" font-weight="bold" fill="#000" stroke="#000">f</text>
<line x1="88.1" y1="636.4" x2="88.1" y2="665.4" stroke="#e41a1c" stroke-width="1.5" stroke-linecap="butt"/>
<line x1="88.1" y1="700" x2="88.1" y2="719.9" stroke="#e41a1c" stroke-width="1.5" stroke-linecap="butt"/>
<rect x="77.15" y="665.4" width="21.9" height="34.6" fill="none" stroke="#e41a1c" stroke-width="1.5"/>
<line x1="77.15" y1="671.1" x2="99.05" y2="671.1" stroke="#e41a1c" stroke-width="1.5" stroke-linecap="butt"/>
<circle cx="91.3" cy="635.8" r="1.45" fill="#e41a1c"/>
<circle cx="82.4" cy="671.5" r="1.45" fill="#e41a1c"/>
<circle cx="88.5" cy="666.4" r="1.45" fill="#e41a1c"/>
<circle cx="82.8" cy="699.6" r="1.45" fill="#e41a1c"/>
<circle cx="91.9" cy="720.5" r="1.45" fill="#e41a1c"/>
<rect x="105.25" y="741.7" width="21.9" height="30.4" fill="none" stroke="#377eb8" stroke-width="1.5"/>
<line x1="105.25" y1="770.2" x2="127.15" y2="770.2" stroke="#377eb8" stroke-width="1.5" stroke-linecap="butt"/>
<circle cx="122.3" cy="662.4" r="1.45" fill="#377eb8"/>
<circle cx="110.9" cy="767.7" r="1.45" fill="#377eb8"/>
<circle cx="116.9" cy="775" r="1.45" fill="#377eb8"/>
<rect x="133.55" y="775" width="21.9" height="2.4" fill="none" stroke="#4daf4a" stroke-width="1.5"/>
<line x1="133.55" y1="776.2" x2="155.45" y2="776.2" stroke="#4daf4a" stroke-width="1.5" stroke-linecap="butt"/>
<circle cx="147.7" cy="767" r="1.45" fill="#4daf4a"/>
<circle cx="145" cy="778.7" r="1.45" fill="#4daf4a"/>
<circle cx="145.4" cy="775.9" r="1.45" fill="#4daf4a"/>
<line x1="172.7" y1="769.2" x2="172.7" y2="778.4" stroke="#984ea3" stroke-width="1.5" stroke-linecap="butt"/>
<rect x="161.75" y="755.6" width="21.9" height="13.6" fill="none" stroke="#984ea3" stroke-width="1.5"/>
<line x1="161.75" y1="757.3" x2="183.65" y2="757.3" stroke="#984ea3" stroke-width="1.5" stroke-linecap="butt"/>
<circle cx="173.3" cy="732.8" r="1.45" fill="#984ea3"/>
<circle cx="167.2" cy="755.6" r="1.45" fill="#984ea3"/>
<circle cx="169.7" cy="757.5" r="1.45" fill="#984ea3"/>
<circle cx="174.3" cy="769.2" r="1.45" fill="#984ea3"/>
<circle cx="174.3" cy="778.4" r="1.45" fill="#984ea3"/>
<path d="M71.8 629.0V786.0H189.8" fill="none" stroke="#000" stroke-width="1.45"/>
<line x1="67.5" y1="782.5" x2="71.8" y2="782.5" stroke="#000" stroke-width="1.4" stroke-linecap="butt"/>
<text x="62.8" y="786.19" font-size="10.3" text-anchor="end" fill="#111" stroke="#111">0</text>
<line x1="67.5" y1="742.7" x2="71.8" y2="742.7" stroke="#000" stroke-width="1.4" stroke-linecap="butt"/>
<text x="62.8" y="746.39" font-size="10.3" text-anchor="end" fill="#111" stroke="#111">50</text>
<line x1="67.5" y1="703.4" x2="71.8" y2="703.4" stroke="#000" stroke-width="1.4" stroke-linecap="butt"/>
<text x="62.8" y="707.09" font-size="10.3" text-anchor="end" fill="#111" stroke="#111">100</text>
<line x1="67.5" y1="663.9" x2="71.8" y2="663.9" stroke="#000" stroke-width="1.4" stroke-linecap="butt"/>
<text x="62.8" y="667.59" font-size="10.3" text-anchor="end" fill="#111" stroke="#111">150</text>
<line x1="88.1" y1="786" x2="88.1" y2="789.8" stroke="#000" stroke-width="1.4" stroke-linecap="butt"/>
<text x="0" y="0" font-size="10.2" text-anchor="end" fill="#111" transform="translate(93.5 800.2) rotate(-28)" stroke="#111">CCOC</text>
<line x1="116.2" y1="786" x2="116.2" y2="789.8" stroke="#000" stroke-width="1.4" stroke-linecap="butt"/>
<text x="0" y="0" font-size="10.2" text-anchor="end" fill="#111" transform="translate(121.6 800.2) rotate(-28)" stroke="#111">EnOC</text>
<line x1="144.5" y1="786" x2="144.5" y2="789.8" stroke="#000" stroke-width="1.4" stroke-linecap="butt"/>
<text x="0" y="0" font-size="10.2" text-anchor="end" fill="#111" transform="translate(149.9 800.2) rotate(-28)" stroke="#111">HGSOC</text>
<line x1="172.7" y1="786" x2="172.7" y2="789.8" stroke="#000" stroke-width="1.4" stroke-linecap="butt"/>
<text x="0" y="0" font-size="10.2" text-anchor="end" fill="#111" transform="translate(178.1 800.2) rotate(-28)" stroke="#111">MOC</text>
<text x="139.3" y="638.89" font-size="10.3" text-anchor="start" fill="#111" stroke="#111">PPP1R3B</text>
<text x="139.3" y="650.6" font-size="10.3" text-anchor="start" fill="#111" stroke="#111">expression</text>
<rect x="236.65" y="748.3" width="21.9" height="8.7" fill="none" stroke="#e41a1c" stroke-width="1.5"/>
<line x1="236.65" y1="755.2" x2="258.55" y2="755.2" stroke="#e41a1c" stroke-width="1.5" stroke-linecap="butt"/>
<circle cx="242.1" cy="696.4" r="1.45" fill="#e41a1c"/>
<circle cx="249" cy="748.3" r="1.45" fill="#e41a1c"/>
<circle cx="248.8" cy="759" r="1.45" fill="#e41a1c"/>
<circle cx="246" cy="754" r="1.45" fill="#e41a1c"/>
<line x1="275.6" y1="727.4" x2="275.6" y2="761.4" stroke="#377eb8" stroke-width="1.5" stroke-linecap="butt"/>
<rect x="264.65" y="695.2" width="21.9" height="32.2" fill="none" stroke="#377eb8" stroke-width="1.5"/>
<line x1="264.65" y1="715.5" x2="286.55" y2="715.5" stroke="#377eb8" stroke-width="1.5" stroke-linecap="butt"/>
<circle cx="274.4" cy="636.1" r="1.45" fill="#377eb8"/>
<circle cx="278.1" cy="761.4" r="1.45" fill="#377eb8"/>
<circle cx="281.3" cy="715.5" r="1.45" fill="#377eb8"/>
<circle cx="279.5" cy="716" r="1.45" fill="#377eb8"/>
<rect x="292.75" y="758.5" width="21.9" height="6.2" fill="none" stroke="#4daf4a" stroke-width="1.5"/>
<line x1="292.75" y1="763.5" x2="314.65" y2="763.5" stroke="#4daf4a" stroke-width="1.5" stroke-linecap="butt"/>
<circle cx="309.1" cy="740.3" r="1.45" fill="#4daf4a"/>
<circle cx="303.7" cy="778.8" r="1.45" fill="#4daf4a"/>
<circle cx="305" cy="758.5" r="1.45" fill="#4daf4a"/>
<circle cx="298" cy="762" r="1.45" fill="#4daf4a"/>
<rect x="321.05" y="752" width="21.9" height="7.5" fill="none" stroke="#984ea3" stroke-width="1.5"/>
<line x1="321.05" y1="755.2" x2="342.95" y2="755.2" stroke="#984ea3" stroke-width="1.5" stroke-linecap="butt"/>
<circle cx="328" cy="752.5" r="1.45" fill="#984ea3"/>
<circle cx="331" cy="755" r="1.45" fill="#984ea3"/>
<circle cx="338" cy="754" r="1.45" fill="#984ea3"/>
<circle cx="328.5" cy="759.5" r="1.45" fill="#984ea3"/>
<path d="M230.5 629.0V786.0H348.4" fill="none" stroke="#000" stroke-width="1.45"/>
<line x1="226.2" y1="784.3" x2="230.5" y2="784.3" stroke="#000" stroke-width="1.4" stroke-linecap="butt"/>
<text x="221.5" y="787.99" font-size="10.3" text-anchor="end" fill="#111" stroke="#111">0</text>
<line x1="226.2" y1="740.3" x2="230.5" y2="740.3" stroke="#000" stroke-width="1.4" stroke-linecap="butt"/>
<text x="221.5" y="743.99" font-size="10.3" text-anchor="end" fill="#111" stroke="#111">100</text>
<line x1="226.2" y1="696.9" x2="230.5" y2="696.9" stroke="#000" stroke-width="1.4" stroke-linecap="butt"/>
<text x="221.5" y="700.59" font-size="10.3" text-anchor="end" fill="#111" stroke="#111">200</text>
<line x1="226.2" y1="653" x2="230.5" y2="653" stroke="#000" stroke-width="1.4" stroke-linecap="butt"/>
<text x="221.5" y="656.69" font-size="10.3" text-anchor="end" fill="#111" stroke="#111">300</text>
<line x1="247.6" y1="786" x2="247.6" y2="789.8" stroke="#000" stroke-width="1.4" stroke-linecap="butt"/>
<text x="0" y="0" font-size="10.2" text-anchor="end" fill="#111" transform="translate(253 800.2) rotate(-28)" stroke="#111">CCOC</text>
<line x1="275.6" y1="786" x2="275.6" y2="789.8" stroke="#000" stroke-width="1.4" stroke-linecap="butt"/>
<text x="0" y="0" font-size="10.2" text-anchor="end" fill="#111" transform="translate(281 800.2) rotate(-28)" stroke="#111">EnOC</text>
<line x1="303.7" y1="786" x2="303.7" y2="789.8" stroke="#000" stroke-width="1.4" stroke-linecap="butt"/>
<text x="0" y="0" font-size="10.2" text-anchor="end" fill="#111" transform="translate(309.1 800.2) rotate(-28)" stroke="#111">HGSOC</text>
<line x1="332" y1="786" x2="332" y2="789.8" stroke="#000" stroke-width="1.4" stroke-linecap="butt"/>
<text x="0" y="0" font-size="10.2" text-anchor="end" fill="#111" transform="translate(337.4 800.2) rotate(-28)" stroke="#111">MOC</text>
<text x="332.6" y="638.89" font-size="10.3" text-anchor="middle" fill="#111" stroke="#111">DLG5</text>
<text x="332.6" y="650.6" font-size="10.3" text-anchor="middle" fill="#111" stroke="#111">expression</text>
<rect x="400.65" y="765.2" width="21.9" height="9.9" fill="none" stroke="#e41a1c" stroke-width="1.5"/>
<line x1="400.65" y1="772.8" x2="422.55" y2="772.8" stroke="#e41a1c" stroke-width="1.5" stroke-linecap="butt"/>
<circle cx="411.6" cy="748.3" r="1.45" fill="#e41a1c"/>
<circle cx="415" cy="765.2" r="1.45" fill="#e41a1c"/>
<circle cx="409.6" cy="775.8" r="1.45" fill="#e41a1c"/>
<circle cx="418" cy="765.5" r="1.45" fill="#e41a1c"/>
<line x1="439.8" y1="703.9" x2="439.8" y2="711.3" stroke="#377eb8" stroke-width="1.5" stroke-linecap="butt"/>
<line x1="439.8" y1="736.6" x2="439.8" y2="769.4" stroke="#377eb8" stroke-width="1.5" stroke-linecap="butt"/>
<rect x="428.85" y="711.3" width="21.9" height="25.3" fill="none" stroke="#377eb8" stroke-width="1.5"/>
<line x1="428.85" y1="719.2" x2="450.75" y2="719.2" stroke="#377eb8" stroke-width="1.5" stroke-linecap="butt"/>
<circle cx="441" cy="703.9" r="1.45" fill="#377eb8"/>
<circle cx="440.3" cy="713.8" r="1.45" fill="#377eb8"/>
<circle cx="437.4" cy="725.4" r="1.45" fill="#377eb8"/>
<circle cx="441" cy="769.4" r="1.45" fill="#377eb8"/>
<rect x="456.65" y="695.7" width="21.9" height="12.4" fill="none" stroke="#4daf4a" stroke-width="1.5"/>
<line x1="456.65" y1="698.1" x2="478.55" y2="698.1" stroke="#4daf4a" stroke-width="1.5" stroke-linecap="butt"/>
<circle cx="461.7" cy="636.1" r="1.45" fill="#4daf4a"/>
<circle cx="470.4" cy="695.2" r="1.45" fill="#4daf4a"/>
<circle cx="473.4" cy="698.1" r="1.45" fill="#4daf4a"/>
<circle cx="463" cy="708.1" r="1.45" fill="#4daf4a"/>
<circle cx="464.2" cy="710.6" r="1.45" fill="#4daf4a"/>
<rect x="484.75" y="750.3" width="21.9" height="8.7" fill="none" stroke="#984ea3" stroke-width="1.5"/>
<line x1="484.75" y1="752" x2="506.65" y2="752" stroke="#984ea3" stroke-width="1.5" stroke-linecap="butt"/>
<circle cx="495.2" cy="713.5" r="1.45" fill="#984ea3"/>
<circle cx="502.6" cy="778.8" r="1.45" fill="#984ea3"/>
<circle cx="490.7" cy="750.3" r="1.45" fill="#984ea3"/>
<circle cx="494.5" cy="759" r="1.45" fill="#984ea3"/>
<path d="M394.7 629.0V786.0H512.6" fill="none" stroke="#000" stroke-width="1.45"/>
<line x1="390.4" y1="782.8" x2="394.7" y2="782.8" stroke="#000" stroke-width="1.4" stroke-linecap="butt"/>
<text x="385.7" y="786.49" font-size="10.3" text-anchor="end" fill="#111" stroke="#111">0</text>
<line x1="390.4" y1="739.1" x2="394.7" y2="739.1" stroke="#000" stroke-width="1.4" stroke-linecap="butt"/>
<text x="385.7" y="742.79" font-size="10.3" text-anchor="end" fill="#111" stroke="#111">100</text>
<line x1="390.4" y1="695.7" x2="394.7" y2="695.7" stroke="#000" stroke-width="1.4" stroke-linecap="butt"/>
<text x="385.7" y="699.39" font-size="10.3" text-anchor="end" fill="#111" stroke="#111">200</text>
<line x1="390.4" y1="652.2" x2="394.7" y2="652.2" stroke="#000" stroke-width="1.4" stroke-linecap="butt"/>
<text x="385.7" y="655.89" font-size="10.3" text-anchor="end" fill="#111" stroke="#111">300</text>
<line x1="411.6" y1="786" x2="411.6" y2="789.8" stroke="#000" stroke-width="1.4" stroke-linecap="butt"/>
<text x="0" y="0" font-size="10.2" text-anchor="end" fill="#111" transform="translate(417 800.2) rotate(-28)" stroke="#111">CCOC</text>
<line x1="439.8" y1="786" x2="439.8" y2="789.8" stroke="#000" stroke-width="1.4" stroke-linecap="butt"/>
<text x="0" y="0" font-size="10.2" text-anchor="end" fill="#111" transform="translate(445.2 800.2) rotate(-28)" stroke="#111">EnOC</text>
<line x1="467.6" y1="786" x2="467.6" y2="789.8" stroke="#000" stroke-width="1.4" stroke-linecap="butt"/>
<text x="0" y="0" font-size="10.2" text-anchor="end" fill="#111" transform="translate(473 800.2) rotate(-28)" stroke="#111">HGSOC</text>
<line x1="495.7" y1="786" x2="495.7" y2="789.8" stroke="#000" stroke-width="1.4" stroke-linecap="butt"/>
<text x="0" y="0" font-size="10.2" text-anchor="end" fill="#111" transform="translate(501.1 800.2) rotate(-28)" stroke="#111">MOC</text>
<text x="422.9" y="638.89" font-size="10.3" text-anchor="middle" fill="#111" stroke="#111">PBX1</text>
<text x="422.9" y="650.6" font-size="10.3" text-anchor="middle" fill="#111" stroke="#111">expression</text>
<line x1="567.1" y1="758.5" x2="567.1" y2="762.7" stroke="#e41a1c" stroke-width="1.5" stroke-linecap="butt"/>
<line x1="567.1" y1="773.1" x2="567.1" y2="777.6" stroke="#e41a1c" stroke-width="1.5" stroke-linecap="butt"/>
<rect x="556.15" y="762.7" width="21.9" height="10.4" fill="none" stroke="#e41a1c" stroke-width="1.5"/>
<line x1="556.15" y1="766.9" x2="578.05" y2="766.9" stroke="#e41a1c" stroke-width="1.5" stroke-linecap="butt"/>
<circle cx="568.4" cy="758.5" r="1.45" fill="#e41a1c"/>
<circle cx="570.1" cy="766.9" r="1.45" fill="#e41a1c"/>
<circle cx="563.4" cy="778.8" r="1.45" fill="#e41a1c"/>
<circle cx="570.5" cy="786.3" r="1.45" fill="#e41a1c"/>
<circle cx="573" cy="786.3" r="1.45" fill="#e41a1c"/>
<rect x="584.25" y="712.5" width="21.9" height="45.7" fill="none" stroke="#377eb8" stroke-width="1.5"/>
<line x1="584.25" y1="735.9" x2="606.15" y2="735.9" stroke="#377eb8" stroke-width="1.5" stroke-linecap="butt"/>
<circle cx="598.1" cy="710.6" r="1.45" fill="#377eb8"/>
<circle cx="600.6" cy="713.8" r="1.45" fill="#377eb8"/>
<circle cx="595.2" cy="758.2" r="1.45" fill="#377eb8"/>
<circle cx="600.6" cy="758.2" r="1.45" fill="#377eb8"/>
<line x1="623.5" y1="720" x2="623.5" y2="733.6" stroke="#4daf4a" stroke-width="1.5" stroke-linecap="butt"/>
<line x1="623.5" y1="745.8" x2="623.5" y2="753.2" stroke="#4daf4a" stroke-width="1.5" stroke-linecap="butt"/>
<rect x="612.55" y="733.6" width="21.9" height="12.2" fill="none" stroke="#4daf4a" stroke-width="1.5"/>
<line x1="612.55" y1="735.4" x2="634.45" y2="735.4" stroke="#4daf4a" stroke-width="1.5" stroke-linecap="butt"/>
<circle cx="625" cy="720" r="1.45" fill="#4daf4a"/>
<circle cx="618.7" cy="735.4" r="1.45" fill="#4daf4a"/>
<circle cx="618.7" cy="744.6" r="1.45" fill="#4daf4a"/>
<circle cx="621.2" cy="753.2" r="1.45" fill="#4daf4a"/>
<line x1="651.5" y1="694" x2="651.5" y2="699.4" stroke="#984ea3" stroke-width="1.5" stroke-linecap="butt"/>
<rect x="640.55" y="684.5" width="21.9" height="9.5" fill="none" stroke="#984ea3" stroke-width="1.5"/>
<line x1="640.55" y1="687" x2="662.45" y2="687" stroke="#984ea3" stroke-width="1.5" stroke-linecap="butt"/>
<circle cx="645.3" cy="636.1" r="1.45" fill="#984ea3"/>
<circle cx="653.5" cy="684.5" r="1.45" fill="#984ea3"/>
<circle cx="651" cy="694" r="1.45" fill="#984ea3"/>
<circle cx="658.5" cy="700.1" r="1.45" fill="#984ea3"/>
<path d="M551 629.0V786.0H668.4" fill="none" stroke="#000" stroke-width="1.45"/>
<line x1="546.7" y1="776.3" x2="551" y2="776.3" stroke="#000" stroke-width="1.4" stroke-linecap="butt"/>
<text x="542" y="779.99" font-size="10.3" text-anchor="end" fill="#111" stroke="#111">0</text>
<line x1="546.7" y1="744.1" x2="551" y2="744.1" stroke="#000" stroke-width="1.4" stroke-linecap="butt"/>
<text x="542" y="747.79" font-size="10.3" text-anchor="end" fill="#111" stroke="#111">1</text>
<line x1="546.7" y1="712.3" x2="551" y2="712.3" stroke="#000" stroke-width="1.4" stroke-linecap="butt"/>
<text x="542" y="715.99" font-size="10.3" text-anchor="end" fill="#111" stroke="#111">10</text>
<line x1="546.7" y1="680" x2="551" y2="680" stroke="#000" stroke-width="1.4" stroke-linecap="butt"/>
<text x="542" y="683.69" font-size="10.3" text-anchor="end" fill="#111" stroke="#111">100</text>
<line x1="546.7" y1="648" x2="551" y2="648" stroke="#000" stroke-width="1.4" stroke-linecap="butt"/>
<text x="542" y="651.69" font-size="10.3" text-anchor="end" fill="#111" stroke="#111">1000</text>
<line x1="567.1" y1="786" x2="567.1" y2="789.8" stroke="#000" stroke-width="1.4" stroke-linecap="butt"/>
<text x="0" y="0" font-size="10.2" text-anchor="end" fill="#111" transform="translate(572.5 800.2) rotate(-28)" stroke="#111">CCOC</text>
<line x1="595.2" y1="786" x2="595.2" y2="789.8" stroke="#000" stroke-width="1.4" stroke-linecap="butt"/>
<text x="0" y="0" font-size="10.2" text-anchor="end" fill="#111" transform="translate(600.6 800.2) rotate(-28)" stroke="#111">EnOC</text>
<line x1="623.5" y1="786" x2="623.5" y2="789.8" stroke="#000" stroke-width="1.4" stroke-linecap="butt"/>
<text x="0" y="0" font-size="10.2" text-anchor="end" fill="#111" transform="translate(628.9 800.2) rotate(-28)" stroke="#111">HGSOC</text>
<line x1="651.5" y1="786" x2="651.5" y2="789.8" stroke="#000" stroke-width="1.4" stroke-linecap="butt"/>
<text x="0" y="0" font-size="10.2" text-anchor="end" fill="#111" transform="translate(656.9 800.2) rotate(-28)" stroke="#111">MOC</text>
<text x="587.5" y="638.89" font-size="10.3" text-anchor="middle" fill="#111" stroke="#111">TFF3</text>
<text x="587.5" y="650.6" font-size="10.3" text-anchor="middle" fill="#111" stroke="#111">expression</text>
<text x="0" y="3.62" font-size="10.1" text-anchor="middle" fill="#111" transform="translate(29.4 708.3) rotate(-90)" stroke="#111">Gene expression (CPM)</text>
<text x="0.3" y="853.2" font-size="16.5" font-weight="bold" fill="#000" stroke="#000">g</text>
<line x1="100.5" y1="855.8" x2="100.5" y2="916.3" stroke="#e41a1c" stroke-width="1.7" stroke-linecap="butt"/>
<line x1="100.5" y1="965.4" x2="100.5" y2="983.5" stroke="#e41a1c" stroke-width="1.7" stroke-linecap="butt"/>
<rect x="83.1" y="916.3" width="34.8" height="49.1" fill="none" stroke="#e41a1c" stroke-width="1.7"/>
<line x1="83.1" y1="931.2" x2="117.9" y2="931.2" stroke="#e41a1c" stroke-width="1.7" stroke-linecap="butt"/>
<circle cx="98.5" cy="855.8" r="3.1" fill="#e41a1c"/>
<circle cx="98.1" cy="886.7" r="3.1" fill="#e41a1c"/>
<circle cx="103.8" cy="892" r="3.1" fill="#e41a1c"/>
<circle cx="102.2" cy="904.7" r="3.1" fill="#e41a1c"/>
<circle cx="99.7" cy="920.2" r="3.1" fill="#e41a1c"/>
<circle cx="103.4" cy="920.4" r="3.1" fill="#e41a1c"/>
<circle cx="99" cy="925.7" r="3.1" fill="#e41a1c"/>
<circle cx="101.4" cy="928.8" r="3.1" fill="#e41a1c"/>
<circle cx="102.2" cy="934.8" r="3.1" fill="#e41a1c"/>
<circle cx="99.3" cy="957.5" r="3.1" fill="#e41a1c"/>
<circle cx="100.5" cy="960.6" r="3.1" fill="#e41a1c"/>
<circle cx="99.7" cy="965.4" r="3.1" fill="#e41a1c"/>
<circle cx="100.5" cy="968.6" r="3.1" fill="#e41a1c"/>
<circle cx="98.5" cy="975.8" r="3.1" fill="#e41a1c"/>
<circle cx="103.4" cy="983.7" r="3.1" fill="#e41a1c"/>
<circle cx="101" cy="963" r="3.1" fill="#e41a1c"/>
<rect x="129.4" y="985.3" width="34.9" height="4.4" fill="#4daf4a"/>
<circle cx="144.3" cy="984.9" r="3.1" fill="#4daf4a"/>
<circle cx="147.2" cy="987.1" r="3.1" fill="#4daf4a"/>
<circle cx="149.1" cy="989.5" r="3.1" fill="#4daf4a"/>
<circle cx="145.5" cy="988.2" r="3.1" fill="#4daf4a"/>
<circle cx="148" cy="985.5" r="3.1" fill="#4daf4a"/>
<circle cx="146" cy="986.5" r="3.1" fill="#4daf4a"/>
<line x1="192.8" y1="964.2" x2="192.8" y2="975.1" stroke="#ff7f00" stroke-width="1.7" stroke-linecap="butt"/>
<rect x="175.4" y="975.1" width="34.8" height="11.5" fill="none" stroke="#ff7f00" stroke-width="1.7"/>
<line x1="175.4" y1="985.9" x2="210.2" y2="985.9" stroke="#ff7f00" stroke-width="1.7" stroke-linecap="butt"/>
<circle cx="194.9" cy="963.8" r="3.1" fill="#ff7f00"/>
<circle cx="192" cy="987.1" r="3.1" fill="#ff7f00"/>
<circle cx="194.9" cy="985.9" r="3.1" fill="#ff7f00"/>
<path d="M73.2 849.8V996.8H220" fill="none" stroke="#000" stroke-width="1.5"/>
<line x1="69" y1="991.5" x2="73.2" y2="991.5" stroke="#000" stroke-width="1.4" stroke-linecap="butt"/>
<text x="62.9" y="995.15" font-size="10.2" text-anchor="end" fill="#111" stroke="#111">0.0</text>
<line x1="69" y1="957.5" x2="73.2" y2="957.5" stroke="#000" stroke-width="1.4" stroke-linecap="butt"/>
<text x="62.9" y="961.15" font-size="10.2" text-anchor="end" fill="#111" stroke="#111">0.5</text>
<line x1="69" y1="922.6" x2="73.2" y2="922.6" stroke="#000" stroke-width="1.4" stroke-linecap="butt"/>
<text x="62.9" y="926.25" font-size="10.2" text-anchor="end" fill="#111" stroke="#111">1.0</text>
<line x1="69" y1="887.9" x2="73.2" y2="887.9" stroke="#000" stroke-width="1.4" stroke-linecap="butt"/>
<text x="62.9" y="891.55" font-size="10.2" text-anchor="end" fill="#111" stroke="#111">1.5</text>
<line x1="69" y1="853.4" x2="73.2" y2="853.4" stroke="#000" stroke-width="1.4" stroke-linecap="butt"/>
<text x="62.9" y="857.05" font-size="10.2" text-anchor="end" fill="#111" stroke="#111">2.0</text>
<line x1="100.6" y1="996.8" x2="100.6" y2="1001.8" stroke="#000" stroke-width="1.5" stroke-linecap="butt"/>
<text x="100.6" y="1015.49" font-size="10.3" text-anchor="middle" fill="#111" stroke="#111">CCOC</text>
<text x="100.6" y="1025.9" font-size="10.3" text-anchor="middle" fill="#111" stroke="#111"><tspan font-style="italic">n</tspan> = 16</text>
<line x1="146.6" y1="996.8" x2="146.6" y2="1001.8" stroke="#000" stroke-width="1.5" stroke-linecap="butt"/>
<text x="146.6" y="1015.49" font-size="10.3" text-anchor="middle" fill="#111" stroke="#111">HGSOC</text>
<text x="146.6" y="1025.9" font-size="10.3" text-anchor="middle" fill="#111" stroke="#111"><tspan font-style="italic">n</tspan> = 6</text>
<line x1="192.7" y1="996.8" x2="192.7" y2="1001.8" stroke="#000" stroke-width="1.5" stroke-linecap="butt"/>
<text x="192.7" y="1015.49" font-size="10.3" text-anchor="middle" fill="#111" stroke="#111">FTSEC</text>
<text x="192.7" y="1025.9" font-size="10.3" text-anchor="middle" fill="#111" stroke="#111"><tspan font-style="italic">n</tspan> = 3</text>
<line x1="84.7" y1="1032.3" x2="163.4" y2="1032.3" stroke="#000" stroke-width="1.8" stroke-linecap="butt"/>
<line x1="175" y1="1032.3" x2="209.8" y2="1032.3" stroke="#000" stroke-width="1.8" stroke-linecap="butt"/>
<text x="123.6" y="1046.99" font-size="10.3" text-anchor="middle" fill="#111" stroke="#111">Cancer cell lines</text>
<text x="192.5" y="1046.79" font-size="10.3" text-anchor="middle" fill="#111" stroke="#111">Normal</text>
<text x="192.5" y="1058.49" font-size="10.3" text-anchor="middle" fill="#111" stroke="#111">cell lines</text>
<text x="0" y="3.72" font-size="10.4" text-anchor="middle" fill="#111" transform="translate(33.6 923) rotate(-90)" stroke="#111">PPP1R3B expression</text>
<text x="228.6" y="853.8" font-size="16.5" font-weight="bold" fill="#000" stroke="#000">h</text>
<rect x="296.3" y="876.6" width="20.2" height="114.9" fill="#1f78b4"/>
<rect x="316.5" y="863.7" width="20.3" height="127.8" fill="#a6cee3"/>
<rect x="336.8" y="955.3" width="19.9" height="36.2" fill="#33a02c"/>
<rect x="363.1" y="876.6" width="19.9" height="114.9" fill="#1f78b4"/>
<rect x="383" y="882" width="20.3" height="109.5" fill="#a6cee3"/>
<rect x="403.3" y="954.3" width="19.9" height="37.2" fill="#33a02c"/>
<line x1="306.4" y1="876.6" x2="306.4" y2="876.6" stroke="#000" stroke-width="1.7" stroke-linecap="butt"/>
<line x1="301.9" y1="876.6" x2="310.9" y2="876.6" stroke="#000" stroke-width="1.7" stroke-linecap="butt"/>
<line x1="301.9" y1="876.6" x2="310.9" y2="876.6" stroke="#000" stroke-width="1.7" stroke-linecap="butt"/>
<line x1="326.65" y1="857.3" x2="326.65" y2="870.1" stroke="#000" stroke-width="1.7" stroke-linecap="butt"/>
<line x1="321.35" y1="857.3" x2="331.95" y2="857.3" stroke="#000" stroke-width="1.7" stroke-linecap="butt"/>
<line x1="321.35" y1="870.1" x2="331.95" y2="870.1" stroke="#000" stroke-width="1.7" stroke-linecap="butt"/>
<line x1="346.75" y1="932.8" x2="346.75" y2="977.7" stroke="#000" stroke-width="1.7" stroke-linecap="butt"/>
<line x1="341.45" y1="932.8" x2="352.05" y2="932.8" stroke="#000" stroke-width="1.7" stroke-linecap="butt"/>
<line x1="341.45" y1="977.7" x2="352.05" y2="977.7" stroke="#000" stroke-width="1.7" stroke-linecap="butt"/>
<line x1="373.05" y1="876.6" x2="373.05" y2="876.6" stroke="#000" stroke-width="1.7" stroke-linecap="butt"/>
<line x1="368.55" y1="876.6" x2="377.55" y2="876.6" stroke="#000" stroke-width="1.7" stroke-linecap="butt"/>
<line x1="368.55" y1="876.6" x2="377.55" y2="876.6" stroke="#000" stroke-width="1.7" stroke-linecap="butt"/>
<line x1="393.15" y1="866.9" x2="393.15" y2="896.8" stroke="#000" stroke-width="1.7" stroke-linecap="butt"/>
<line x1="387.85" y1="866.9" x2="398.45" y2="866.9" stroke="#000" stroke-width="1.7" stroke-linecap="butt"/>
<line x1="387.85" y1="896.8" x2="398.45" y2="896.8" stroke="#000" stroke-width="1.7" stroke-linecap="butt"/>
<line x1="413.25" y1="931.8" x2="413.25" y2="977.1" stroke="#000" stroke-width="1.7" stroke-linecap="butt"/>
<line x1="407.95" y1="931.8" x2="418.55" y2="931.8" stroke="#000" stroke-width="1.7" stroke-linecap="butt"/>
<line x1="407.95" y1="977.1" x2="418.55" y2="977.1" stroke="#000" stroke-width="1.7" stroke-linecap="butt"/>
<path d="M286 850.6V998H433.1" fill="none" stroke="#000" stroke-width="1.5"/>
<line x1="281.2" y1="991.5" x2="286" y2="991.5" stroke="#000" stroke-width="1.4" stroke-linecap="butt"/>
<text x="276.5" y="995.82" font-size="10.4" text-anchor="end" fill="#111" stroke="#111">0.0</text>
<line x1="281.2" y1="957.2" x2="286" y2="957.2" stroke="#000" stroke-width="1.4" stroke-linecap="butt"/>
<text x="276.5" y="961.52" font-size="10.4" text-anchor="end" fill="#111" stroke="#111">0.3</text>
<line x1="281.2" y1="922.5" x2="286" y2="922.5" stroke="#000" stroke-width="1.4" stroke-linecap="butt"/>
<text x="276.5" y="926.82" font-size="10.4" text-anchor="end" fill="#111" stroke="#111">0.6</text>
<line x1="281.2" y1="887.8" x2="286" y2="887.8" stroke="#000" stroke-width="1.4" stroke-linecap="butt"/>
<text x="276.5" y="892.12" font-size="10.4" text-anchor="end" fill="#111" stroke="#111">0.9</text>
<line x1="281.2" y1="853.1" x2="286" y2="853.1" stroke="#000" stroke-width="1.4" stroke-linecap="butt"/>
<text x="276.5" y="857.42" font-size="10.4" text-anchor="end" fill="#111" stroke="#111">1.2</text>
<line x1="326.5" y1="998" x2="326.5" y2="1001.8" stroke="#000" stroke-width="1.4" stroke-linecap="butt"/>
<text x="326.5" y="1017.39" font-size="10.3" text-anchor="middle" fill="#111" stroke="#111">JHOC5</text>
<line x1="392.9" y1="998" x2="392.9" y2="1001.8" stroke="#000" stroke-width="1.4" stroke-linecap="butt"/>
<text x="392.9" y="1017.39" font-size="10.3" text-anchor="middle" fill="#111" stroke="#111">RMG−II</text>
<text x="359.9" y="1032.19" font-size="10.3" text-anchor="middle" fill="#111" stroke="#111">Cell line</text>
<text x="0" y="3.72" font-size="10.4" text-anchor="middle" fill="#111" transform="translate(247.5 924.6) rotate(-90)" stroke="#111">Relative PPP1R3B expression</text>
<text x="451" y="854.6" font-size="16.5" font-weight="bold" fill="#000" stroke="#000">i</text>
<rect x="505.1" y="908.7" width="20" height="83" fill="#1f78b4"/>
<rect x="525.1" y="898" width="19.7" height="93.7" fill="#a6cee3"/>
<rect x="544.8" y="976.6" width="20.4" height="15.1" fill="#33a02c"/>
<rect x="572.3" y="908.7" width="19.7" height="83" fill="#1f78b4"/>
<rect x="592" y="880" width="19.7" height="111.7" fill="#a6cee3"/>
<rect x="611.7" y="968.8" width="20.3" height="22.9" fill="#33a02c"/>
<line x1="515.1" y1="908.7" x2="515.1" y2="908.7" stroke="#000" stroke-width="1.7" stroke-linecap="butt"/>
<line x1="510.6" y1="908.7" x2="519.6" y2="908.7" stroke="#000" stroke-width="1.7" stroke-linecap="butt"/>
<line x1="510.6" y1="908.7" x2="519.6" y2="908.7" stroke="#000" stroke-width="1.7" stroke-linecap="butt"/>
<line x1="534.95" y1="861.1" x2="534.95" y2="934.8" stroke="#000" stroke-width="1.7" stroke-linecap="butt"/>
<line x1="529.25" y1="861.1" x2="540.65" y2="861.1" stroke="#000" stroke-width="1.7" stroke-linecap="butt"/>
<line x1="529.25" y1="934.8" x2="540.65" y2="934.8" stroke="#000" stroke-width="1.7" stroke-linecap="butt"/>
<line x1="555" y1="968.8" x2="555" y2="984.5" stroke="#000" stroke-width="1.7" stroke-linecap="butt"/>
<line x1="549.5" y1="968.8" x2="560.5" y2="968.8" stroke="#000" stroke-width="1.7" stroke-linecap="butt"/>
<line x1="549.5" y1="984.5" x2="560.5" y2="984.5" stroke="#000" stroke-width="1.7" stroke-linecap="butt"/>
<line x1="582.15" y1="908.7" x2="582.15" y2="908.7" stroke="#000" stroke-width="1.7" stroke-linecap="butt"/>
<line x1="577.65" y1="908.7" x2="586.65" y2="908.7" stroke="#000" stroke-width="1.7" stroke-linecap="butt"/>
<line x1="577.65" y1="908.7" x2="586.65" y2="908.7" stroke="#000" stroke-width="1.7" stroke-linecap="butt"/>
<line x1="601.85" y1="856.8" x2="601.85" y2="902.6" stroke="#000" stroke-width="1.7" stroke-linecap="butt"/>
<line x1="596.15" y1="856.8" x2="607.55" y2="856.8" stroke="#000" stroke-width="1.7" stroke-linecap="butt"/>
<line x1="596.15" y1="902.6" x2="607.55" y2="902.6" stroke="#000" stroke-width="1.7" stroke-linecap="butt"/>
<line x1="621.85" y1="958" x2="621.85" y2="978.4" stroke="#000" stroke-width="1.7" stroke-linecap="butt"/>
<line x1="616.35" y1="958" x2="627.35" y2="958" stroke="#000" stroke-width="1.7" stroke-linecap="butt"/>
<line x1="616.35" y1="978.4" x2="627.35" y2="978.4" stroke="#000" stroke-width="1.7" stroke-linecap="butt"/>
<path d="M495.4 850.6V997.4H642.1" fill="none" stroke="#000" stroke-width="1.5"/>
<line x1="490.6" y1="991.7" x2="495.4" y2="991.7" stroke="#000" stroke-width="1.4" stroke-linecap="butt"/>
<text x="485.9" y="996.02" font-size="10.4" text-anchor="end" fill="#111" stroke="#111">0.0</text>
<line x1="490.6" y1="949.8" x2="495.4" y2="949.8" stroke="#000" stroke-width="1.4" stroke-linecap="butt"/>
<text x="485.9" y="954.12" font-size="10.4" text-anchor="end" fill="#111" stroke="#111">0.5</text>
<line x1="490.6" y1="908.7" x2="495.4" y2="908.7" stroke="#000" stroke-width="1.4" stroke-linecap="butt"/>
<text x="485.9" y="913.02" font-size="10.4" text-anchor="end" fill="#111" stroke="#111">1.0</text>
<line x1="490.6" y1="867.6" x2="495.4" y2="867.6" stroke="#000" stroke-width="1.4" stroke-linecap="butt"/>
<text x="485.9" y="871.92" font-size="10.4" text-anchor="end" fill="#111" stroke="#111">1.5</text>
<line x1="534.8" y1="997.4" x2="534.8" y2="1001.2" stroke="#000" stroke-width="1.4" stroke-linecap="butt"/>
<text x="534.8" y="1016.79" font-size="10.3" text-anchor="middle" fill="#111" stroke="#111">JHOC5</text>
<line x1="601.9" y1="997.4" x2="601.9" y2="1001.2" stroke="#000" stroke-width="1.4" stroke-linecap="butt"/>
<text x="601.9" y="1016.79" font-size="10.3" text-anchor="middle" fill="#111" stroke="#111">RMG−II</text>
<text x="568" y="1031.59" font-size="10.3" text-anchor="middle" fill="#111" stroke="#111">Cell line</text>
<text x="0" y="3.72" font-size="10.4" text-anchor="middle" fill="#111" transform="translate(456.8 924.6) rotate(-90)" stroke="#111">Relative glycogen level</text>
<text x="622.3" y="859.99" font-size="10.3" text-anchor="start" fill="#111" stroke="#111">Experiment</text>
<rect x="622.3" y="868.3" width="4" height="9.6" fill="#1f78b4"/>
<rect x="622.3" y="880" width="4" height="9.4" fill="#a6cee3"/>
<rect x="622.3" y="891.2" width="4" height="9.6" fill="#33a02c"/>
<text x="632" y="876.45" font-size="8.8" text-anchor="start" fill="#111" stroke="#111">Parental</text>
<text x="632" y="887.95" font-size="8.8" text-anchor="start" fill="#111" stroke="#111">NTC</text>
<text x="632" y="898.85" font-size="8.8" text-anchor="start" fill="#111" stroke="#111">PPP1R3B KD</text>
</svg></body></html>
